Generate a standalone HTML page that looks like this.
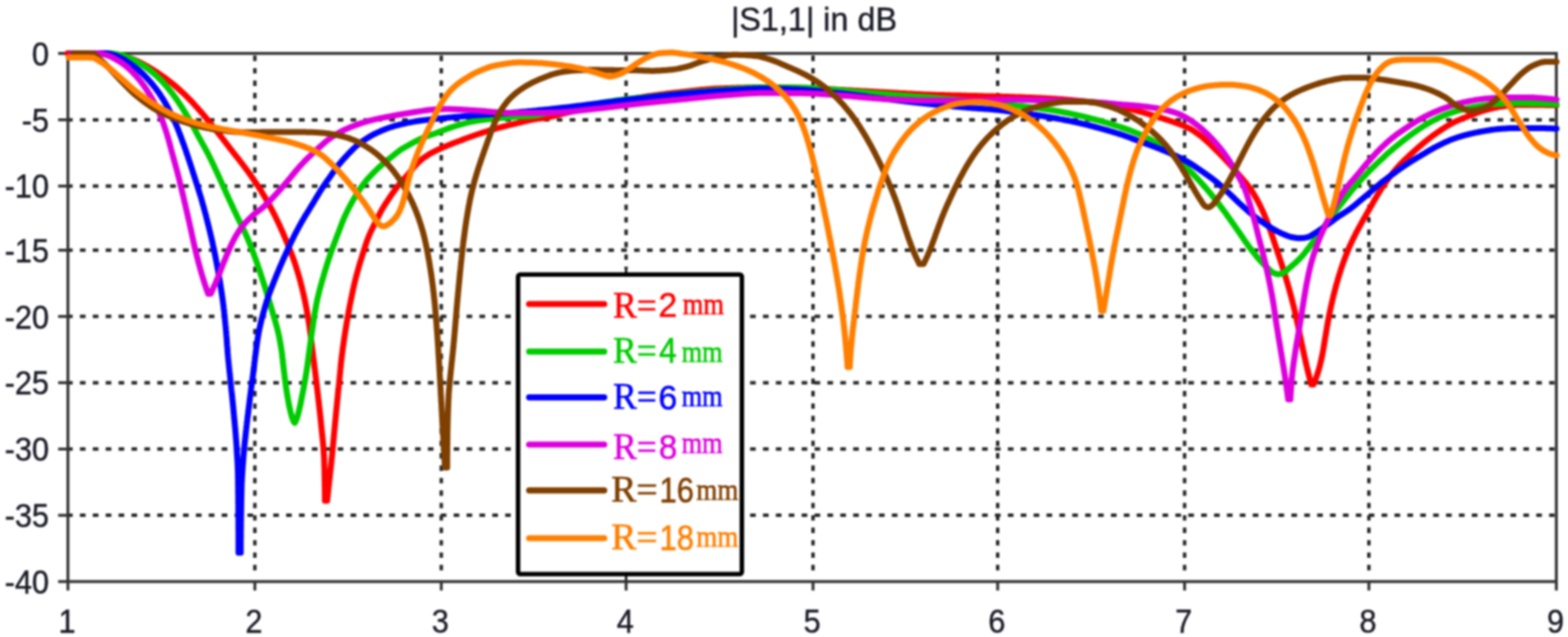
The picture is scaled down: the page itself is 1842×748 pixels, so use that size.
<!DOCTYPE html>
<html lang="en"><head><meta charset="utf-8"><title>|S1,1| in dB</title>
<style>
html,body{margin:0;padding:0;background:#fff;}
body{width:1842px;height:748px;overflow:hidden;}
svg{display:block;}
.ax{font-family:"Liberation Sans","DejaVu Sans",sans-serif;font-size:38px;fill:#1c1c28;stroke:#1c1c28;stroke-width:0.5px;}
.se{font-family:"Liberation Serif","DejaVu Serif",serif;}
.sa{font-family:"Liberation Sans","DejaVu Sans",sans-serif;}
.lg text{stroke-width:0.6px;}
</style></head><body>
<svg width="1842" height="748" viewBox="0 0 1842 748">
<defs><filter id="soft" x="0" y="0" width="1842" height="748" filterUnits="userSpaceOnUse" color-interpolation-filters="sRGB"><feGaussianBlur stdDeviation="0.90"/></filter></defs>
<rect x="0" y="0" width="1842" height="748" fill="#fff"/>
<g filter="url(#soft)">
<rect x="0" y="0" width="1842" height="748" fill="#fff"/>
<g stroke="#262626" fill="none">
<line x1="78.76" y1="140.7" x2="1826.3" y2="140.7" stroke-width="4" stroke-dasharray="6.60 8.54"/>
<line x1="78.76" y1="218.5" x2="1826.3" y2="218.5" stroke-width="4" stroke-dasharray="6.60 8.54"/>
<line x1="78.76" y1="293.8" x2="1826.3" y2="293.8" stroke-width="4" stroke-dasharray="6.60 8.54"/>
<line x1="78.76" y1="371.6" x2="1826.3" y2="371.6" stroke-width="4" stroke-dasharray="6.60 8.54"/>
<line x1="78.76" y1="449.4" x2="1826.3" y2="449.4" stroke-width="4" stroke-dasharray="6.60 8.54"/>
<line x1="78.76" y1="527.3" x2="1826.3" y2="527.3" stroke-width="4" stroke-dasharray="6.60 8.54"/>
<line x1="78.76" y1="605.1" x2="1826.3" y2="605.1" stroke-width="4" stroke-dasharray="6.60 8.54"/>
<line x1="299.4" y1="669.70" x2="299.4" y2="64.7" stroke-width="4" stroke-dasharray="6.40 8.185"/>
<line x1="518.4" y1="669.70" x2="518.4" y2="64.7" stroke-width="4" stroke-dasharray="6.40 8.185"/>
<line x1="735.5" y1="669.70" x2="735.5" y2="64.7" stroke-width="4" stroke-dasharray="6.40 8.185"/>
<line x1="955.1" y1="669.70" x2="955.1" y2="64.7" stroke-width="4" stroke-dasharray="6.40 8.185"/>
<line x1="1172.0" y1="669.70" x2="1172.0" y2="64.7" stroke-width="4" stroke-dasharray="6.40 8.185"/>
<line x1="1391.6" y1="669.70" x2="1391.6" y2="64.7" stroke-width="4" stroke-dasharray="6.40 8.185"/>
<line x1="1608.1" y1="669.70" x2="1608.1" y2="64.7" stroke-width="4" stroke-dasharray="6.40 8.185"/>
</g>
<g stroke="#333333" stroke-width="3.4" fill="none" stroke-linecap="butt">
<rect x="79.8" y="62.7" width="1748.5" height="620.2"/>
<line x1="68.3" y1="62.7" x2="79.8" y2="62.7"/>
<line x1="68.3" y1="140.7" x2="79.8" y2="140.7"/>
<line x1="68.3" y1="218.5" x2="79.8" y2="218.5"/>
<line x1="68.3" y1="293.8" x2="79.8" y2="293.8"/>
<line x1="68.3" y1="371.6" x2="79.8" y2="371.6"/>
<line x1="68.3" y1="449.4" x2="79.8" y2="449.4"/>
<line x1="68.3" y1="527.3" x2="79.8" y2="527.3"/>
<line x1="68.3" y1="605.1" x2="79.8" y2="605.1"/>
<line x1="68.3" y1="682.9" x2="79.8" y2="682.9"/>
<line x1="79.8" y1="682.9" x2="79.8" y2="693.4"/>
<line x1="299.4" y1="682.9" x2="299.4" y2="693.4"/>
<line x1="518.4" y1="682.9" x2="518.4" y2="693.4"/>
<line x1="735.5" y1="682.9" x2="735.5" y2="693.4"/>
<line x1="955.1" y1="682.9" x2="955.1" y2="693.4"/>
<line x1="1172.0" y1="682.9" x2="1172.0" y2="693.4"/>
<line x1="1391.6" y1="682.9" x2="1391.6" y2="693.4"/>
<line x1="1608.1" y1="682.9" x2="1608.1" y2="693.4"/>
<line x1="1828.3" y1="682.9" x2="1828.3" y2="693.4"/>
</g>
<g fill="none" stroke-width="7" stroke-linejoin="round" stroke-linecap="round">
<path stroke="#ff0000" d="M79.5 62.5L120.0 62.5 121.5 62.5 123.1 62.6 124.6 62.7 126.1 62.8 127.6 63.0 129.1 63.2 130.6 63.4 132.1 63.6 133.6 63.8 135.1 64.0 136.6 64.3 138.0 64.6 139.5 64.8 141.0 65.1 142.5 65.4 143.9 65.7 145.4 66.0 146.8 66.4 148.3 66.8 149.7 67.2 151.1 67.7 152.6 68.2 154.0 68.7 155.4 69.3 156.8 69.8 158.2 70.4 159.6 71.0 161.0 71.6 162.3 72.2 163.7 72.9 165.0 73.6 166.4 74.2 167.7 75.0 169.0 75.7 170.4 76.4 171.7 77.2 173.0 77.9 174.3 78.7 175.6 79.4 176.9 80.2 178.2 81.0 179.4 81.8 180.7 82.6 182.0 83.4 183.3 84.2 184.5 85.0 185.8 85.9 187.1 86.7 188.3 87.6 189.5 88.4 190.8 89.3 192.0 90.2 193.2 91.0 194.4 91.9 195.6 92.8 196.8 93.7 198.0 94.6 199.2 95.6 200.4 96.5 201.6 97.4 202.8 98.4 203.9 99.3 205.1 100.3 206.2 101.3 207.4 102.3 208.5 103.3 209.7 104.3 210.8 105.3 211.9 106.3 213.0 107.3 214.1 108.3 215.2 109.3 216.3 110.4 217.4 111.4 218.5 112.5 219.5 113.5 220.6 114.6 221.7 115.7 222.7 116.7 223.8 117.8 224.8 118.9 225.8 120.0 226.9 121.1 227.9 122.2 228.9 123.4 229.9 124.5 230.9 125.6 231.9 126.7 232.9 127.8 233.9 129.0 234.9 130.1 235.9 131.2 236.9 132.4 237.9 133.5 238.9 134.6 239.8 135.8 240.8 136.9 241.8 138.1 242.7 139.3 243.7 140.4 244.6 141.6 245.6 142.8 246.5 144.0 247.5 145.1 248.4 146.3 249.4 147.5 250.3 148.7 251.2 149.8 252.2 151.0 253.1 152.2 254.1 153.4 255.0 154.6 255.9 155.7 256.9 156.9 257.8 158.1 258.7 159.3 259.7 160.5 260.6 161.7 261.5 162.9 262.4 164.0 263.4 165.2 264.3 166.4 265.2 167.6 266.1 168.8 267.1 170.0 268.0 171.2 268.9 172.4 269.8 173.6 270.7 174.8 271.7 176.0 272.6 177.1 273.5 178.3 274.4 179.5 275.4 180.7 276.3 181.9 277.2 183.1 278.2 184.3 279.1 185.4 280.0 186.6 281.0 187.8 281.9 189.0 282.8 190.2 283.8 191.4 284.7 192.6 285.6 193.8 286.5 195.0 287.4 196.2 288.3 197.4 289.2 198.6 290.1 199.8 291.0 201.0 291.9 202.2 292.8 203.5 293.6 204.7 294.5 205.9 295.4 207.1 296.2 208.4 297.1 209.6 298.0 210.8 298.8 212.1 299.7 213.3 300.5 214.6 301.4 215.8 302.2 217.1 303.0 218.4 303.8 219.6 304.7 220.9 305.5 222.2 306.3 223.4 307.1 224.7 307.8 226.0 308.6 227.3 309.4 228.6 310.2 229.9 310.9 231.2 311.7 232.5 312.5 233.8 313.2 235.1 314.0 236.4 314.7 237.7 315.4 239.0 316.2 240.3 316.9 241.7 317.6 243.0 318.3 244.3 319.0 245.6 319.7 247.0 320.4 248.3 321.1 249.6 321.8 251.0 322.5 252.3 323.2 253.7 323.8 255.0 324.5 256.4 325.1 257.7 325.8 259.1 326.4 260.4 327.1 261.8 327.7 263.2 328.4 264.5 329.0 265.9 329.6 267.3 330.2 268.7 330.8 270.0 331.4 271.4 332.1 272.8 332.7 274.2 333.2 275.6 333.8 277.0 334.4 278.4 335.0 279.7 335.6 281.1 336.2 282.5 336.7 283.9 337.3 285.3 337.9 286.7 338.5 288.1 339.1 289.5 339.6 290.9 340.2 292.3 340.7 293.7 341.3 295.1 341.9 296.5 342.4 297.9 342.9 299.3 343.5 300.7 344.0 302.1 344.5 303.6 345.0 305.0 345.5 306.4 346.0 307.8 346.5 309.2 347.0 310.7 347.4 312.1 347.9 313.5 348.3 315.0 348.8 316.4 349.2 317.8 349.7 319.3 350.1 320.7 350.5 322.2 350.9 323.6 351.4 325.1 351.8 326.5 352.2 328.0 352.6 329.4 353.0 330.9 353.3 332.3 353.7 333.8 354.1 335.3 354.5 336.7 354.8 338.2 355.2 339.7 355.5 341.1 355.9 342.6 356.2 344.1 356.6 345.5 356.9 347.0 357.2 348.5 357.5 349.9 357.8 351.4 358.1 352.9 358.5 354.4 358.7 355.8 359.0 357.3 359.3 358.8 359.6 360.3 359.9 361.8 360.2 363.2 360.4 364.7 360.7 366.2 361.0 367.7 361.2 369.2 361.5 370.7 361.7 372.1 362.0 373.6 362.2 375.1 362.5 376.6 362.7 378.1 362.9 379.6 363.2 381.1 363.4 382.6 363.6 384.1 363.8 385.5 364.0 387.0 364.2 388.5 364.4 390.0 364.6 391.5 364.8 393.0 365.0 394.5 365.2 396.0 365.4 397.5 365.5 399.0 365.7 400.5 365.9 402.0 366.1 403.5 366.3 405.0 366.5 406.5 366.6 408.0 366.8 409.5 367.0 411.0 367.2 412.5 367.4 414.0 367.6 415.5 367.7 416.9 367.9 418.4 368.1 419.9 368.3 421.4 368.5 422.9 368.7 424.4 368.9 425.9 369.1 427.4 369.2 428.9 369.4 430.4 369.6 431.9 369.8 433.4 370.0 434.9 370.2 436.4 370.4 437.9 370.5 439.4 370.7 440.9 370.9 442.4 371.1 443.9 371.3 445.4 371.4 446.9 371.6 448.3 371.8 449.8 372.0 451.3 372.2 452.8 372.3 454.3 372.5 455.8 372.7 457.3 372.9 458.8 373.0 460.3 373.2 461.8 373.4 463.3 373.6 464.8 373.7 466.3 373.9 467.8 374.1 469.3 374.3 470.8 374.4 472.3 374.6 473.8 374.8 475.3 374.9 476.8 375.1 478.3 375.3 479.8 375.4 481.3 375.6 482.8 375.8 484.3 375.9 485.8 376.1 487.3 376.3 488.8 376.4 490.3 376.6 491.8 376.7 493.3 376.9 494.8 377.0 496.3 377.2 497.8 377.3 499.3 377.5 500.8 377.6 502.3 377.8 503.8 377.9 505.3 378.1 506.8 378.2 508.3 378.4 509.8 378.6 511.3 378.7 512.8 378.9 514.3 379.0 515.8 379.2 517.3 379.3 518.8 379.5 520.3 379.6 521.8 379.7 523.3 379.9 524.8 380.0 526.3 380.1 527.8 380.2 529.3 380.3 530.8 380.4 532.3 380.5 533.8 380.6 535.3 380.7 536.8 380.8 538.3 380.8 539.8 380.9 541.3 380.9 542.8 380.9 544.3 381.0 545.8 381.0 547.3 381.1 548.8 381.1 550.3 381.2 551.8 381.2 553.3 381.2 554.8 381.3 556.3 381.3 557.8 381.3 559.4 381.4 560.9 381.4 562.4 381.4 563.9 381.5 565.4 381.5 566.9 381.5 568.4 381.5 569.9 381.6 571.4 381.6 572.9 381.6 574.4 381.6 575.9 381.6 577.4 381.7 578.9 381.7 580.5 381.7 582.0 381.7 583.5 381.7 585.0 381.7 586.5 381.7 588.0 384.3 588.0 384.5 586.5 384.6 585.0 384.8 583.5 385.0 582.0 385.1 580.5 385.3 579.0 385.5 577.6 385.6 576.1 385.8 574.6 385.9 573.1 386.1 571.6 386.3 570.1 386.4 568.6 386.6 567.1 386.8 565.6 386.9 564.1 387.1 562.6 387.3 561.1 387.4 559.6 387.6 558.2 387.7 556.7 387.9 555.2 388.1 553.7 388.2 552.2 388.4 550.7 388.5 549.2 388.7 547.7 388.9 546.2 389.0 544.7 389.2 543.2 389.3 541.7 389.5 540.2 389.6 538.7 389.8 537.3 390.0 535.8 390.1 534.3 390.3 532.8 390.4 531.3 390.5 529.8 390.7 528.3 390.8 526.8 391.0 525.3 391.1 523.8 391.3 522.3 391.4 520.8 391.5 519.3 391.7 517.8 391.8 516.3 392.0 514.8 392.1 513.3 392.2 511.8 392.4 510.3 392.5 508.9 392.7 507.4 392.8 505.9 392.9 504.4 393.1 502.9 393.2 501.4 393.4 499.9 393.5 498.4 393.6 496.9 393.8 495.4 393.9 493.9 394.1 492.4 394.2 490.9 394.4 489.4 394.5 487.9 394.7 486.4 394.8 484.9 394.9 483.4 395.1 482.0 395.2 480.5 395.4 479.0 395.5 477.5 395.7 476.0 395.8 474.5 396.0 473.0 396.1 471.5 396.3 470.0 396.4 468.5 396.6 467.0 396.7 465.5 396.9 464.0 397.0 462.5 397.1 461.0 397.3 459.5 397.4 458.0 397.6 456.6 397.7 455.1 397.9 453.6 398.0 452.1 398.2 450.6 398.3 449.1 398.5 447.6 398.6 446.1 398.8 444.6 398.9 443.1 399.1 441.6 399.2 440.1 399.4 438.6 399.5 437.1 399.7 435.6 399.8 434.1 400.0 432.6 400.1 431.1 400.3 429.7 400.4 428.2 400.6 426.7 400.7 425.2 400.9 423.7 401.1 422.2 401.2 420.7 401.4 419.2 401.6 417.7 401.8 416.2 402.0 414.7 402.2 413.3 402.4 411.8 402.5 410.3 402.7 408.8 403.0 407.3 403.2 405.8 403.4 404.3 403.6 402.8 403.8 401.4 404.0 399.9 404.2 398.4 404.4 396.9 404.7 395.4 404.9 393.9 405.1 392.4 405.4 391.0 405.6 389.5 405.8 388.0 406.1 386.5 406.3 385.0 406.6 383.5 406.8 382.1 407.0 380.6 407.3 379.1 407.5 377.6 407.8 376.1 408.0 374.7 408.3 373.2 408.6 371.7 408.8 370.2 409.1 368.7 409.4 367.3 409.6 365.8 409.9 364.3 410.2 362.8 410.4 361.4 410.7 359.9 411.0 358.4 411.3 356.9 411.6 355.5 411.9 354.0 412.2 352.5 412.5 351.0 412.8 349.6 413.1 348.1 413.4 346.6 413.7 345.1 414.0 343.7 414.3 342.2 414.6 340.7 414.9 339.3 415.3 337.8 415.6 336.3 415.9 334.9 416.3 333.4 416.6 332.0 417.0 330.5 417.3 329.1 417.7 327.6 418.0 326.1 418.4 324.7 418.8 323.2 419.2 321.8 419.6 320.3 420.0 318.9 420.4 317.4 420.8 316.0 421.2 314.6 421.6 313.1 422.0 311.7 422.5 310.2 422.9 308.8 423.3 307.3 423.8 305.9 424.2 304.5 424.7 303.0 425.1 301.6 425.5 300.2 426.0 298.7 426.5 297.3 426.9 295.9 427.4 294.4 427.8 293.0 428.3 291.6 428.7 290.1 429.2 288.7 429.7 287.3 430.1 285.9 430.6 284.4 431.1 283.0 431.6 281.6 432.2 280.2 432.7 278.8 433.3 277.4 433.8 276.0 434.4 274.7 435.0 273.3 435.7 271.9 436.3 270.6 437.0 269.2 437.7 267.9 438.3 266.5 439.0 265.2 439.7 263.8 440.3 262.5 441.0 261.2 441.7 259.8 442.3 258.5 443.0 257.1 443.7 255.8 444.3 254.4 445.0 253.1 445.7 251.7 446.4 250.4 447.1 249.1 447.8 247.8 448.5 246.4 449.3 245.2 450.0 243.9 450.8 242.6 451.6 241.3 452.4 240.0 453.2 238.8 454.0 237.5 454.9 236.3 455.7 235.0 456.5 233.8 457.4 232.5 458.2 231.3 459.1 230.0 459.9 228.8 460.8 227.5 461.6 226.3 462.5 225.1 463.4 223.9 464.2 222.6 465.1 221.4 466.0 220.2 466.9 219.0 467.9 217.9 468.8 216.7 469.8 215.6 470.8 214.4 471.7 213.3 472.7 212.2 473.7 211.0 474.7 209.9 475.8 208.8 476.8 207.7 477.7 206.6 478.7 205.4 479.7 204.3 480.7 203.1 481.6 202.0 482.6 200.8 483.5 199.6 484.5 198.5 485.4 197.3 486.4 196.2 487.4 195.0 488.4 193.9 489.4 192.8 490.4 191.7 491.5 190.6 492.6 189.6 493.7 188.6 494.8 187.7 496.0 186.7 497.2 185.8 498.4 184.9 499.7 184.1 500.9 183.2 502.2 182.4 503.5 181.6 504.8 180.8 506.0 180.1 507.3 179.4 508.7 178.7 510.0 178.0 511.3 177.3 512.7 176.7 514.1 176.0 515.4 175.4 516.8 174.8 518.2 174.1 519.6 173.5 520.9 172.9 522.3 172.3 523.7 171.7 525.1 171.2 526.5 170.6 527.9 170.0 529.3 169.5 530.6 168.9 532.1 168.4 533.5 167.8 534.9 167.3 536.3 166.8 537.7 166.2 539.1 165.7 540.5 165.2 541.9 164.6 543.3 164.1 544.7 163.6 546.1 163.0 547.5 162.5 548.9 162.0 550.3 161.5 551.7 161.0 553.1 160.5 554.6 160.0 556.0 159.5 557.4 159.0 558.8 158.5 560.2 158.0 561.6 157.5 563.1 157.0 564.5 156.6 565.9 156.1 567.4 155.6 568.8 155.2 570.2 154.7 571.6 154.3 573.1 153.8 574.5 153.4 576.0 153.0 577.4 152.5 578.8 152.1 580.3 151.7 581.7 151.3 583.2 150.9 584.6 150.5 586.1 150.1 587.5 149.7 589.0 149.3 590.4 148.9 591.9 148.5 593.3 148.2 594.8 147.8 596.2 147.4 597.7 147.0 599.1 146.7 600.6 146.3 602.1 146.0 603.5 145.6 605.0 145.3 606.4 144.9 607.9 144.6 609.4 144.2 610.8 143.9 612.3 143.5 613.7 143.1 615.2 142.8 616.7 142.4 618.1 142.1 619.6 141.8 621.1 141.4 622.5 141.1 624.0 140.8 625.5 140.5 626.9 140.2 628.4 140.0 629.9 139.8 631.4 139.6 632.9 139.4 634.4 139.2 635.9 139.0 637.3 138.8 638.8 138.6 640.3 138.4 641.8 138.1 643.3 137.9 644.8 137.6 646.2 137.3 647.7 137.0 649.1 136.6 650.6 136.3 652.1 135.9 653.5 135.5 655.0 135.1 656.4 134.7 657.9 134.4 659.3 134.0 660.8 133.6 662.2 133.3 663.7 132.9 665.2 132.6 666.6 132.2 668.1 131.9 669.5 131.5 671.0 131.2 672.5 130.8 673.9 130.5 675.4 130.1 676.9 129.8 678.3 129.5 679.8 129.1 681.2 128.8 682.7 128.4 684.2 128.1 685.6 127.8 687.1 127.4 688.6 127.1 690.0 126.8 691.5 126.4 693.0 126.1 694.4 125.8 695.9 125.5 697.3 125.1 698.8 124.8 700.3 124.5 701.8 124.2 703.2 123.9 704.7 123.6 706.2 123.2 707.6 122.9 709.1 122.6 710.6 122.3 712.0 122.0 713.5 121.7 715.0 121.4 716.4 121.1 717.9 120.7 719.4 120.4 720.9 120.1 722.3 119.8 723.8 119.5 725.3 119.2 726.7 118.9 728.2 118.6 729.7 118.3 731.2 118.1 732.6 117.8 734.1 117.5 735.6 117.2 737.1 116.9 738.5 116.7 740.0 116.4 741.5 116.1 743.0 115.9 744.4 115.6 745.9 115.4 747.4 115.1 748.9 114.9 750.4 114.6 751.8 114.4 753.3 114.2 754.8 113.9 756.3 113.7 757.8 113.5 759.3 113.3 760.7 113.0 762.2 112.8 763.7 112.6 765.2 112.4 766.7 112.2 768.2 112.0 769.7 111.8 771.2 111.6 772.6 111.4 774.1 111.2 775.6 111.0 777.1 110.8 778.6 110.6 780.1 110.4 781.6 110.2 783.1 110.0 784.6 109.8 786.1 109.7 787.5 109.5 789.0 109.3 790.5 109.1 792.0 109.0 793.5 108.8 795.0 108.6 796.5 108.4 798.0 108.3 799.5 108.1 801.0 108.0 802.5 107.8 804.0 107.6 805.5 107.5 806.9 107.3 808.4 107.1 809.9 107.0 811.4 106.8 812.9 106.6 814.4 106.5 815.9 106.3 817.4 106.1 818.9 106.0 820.4 105.8 821.9 105.6 823.4 105.5 824.9 105.3 826.4 105.2 827.9 105.1 829.4 104.9 830.9 104.8 832.4 104.7 833.8 104.6 835.3 104.4 836.8 104.3 838.3 104.2 839.8 104.1 841.3 104.1 842.8 104.0 844.3 103.9 845.8 103.8 847.3 103.8 848.8 103.7 850.3 103.7 851.8 103.6 853.3 103.6 854.8 103.5 856.3 103.4 857.8 103.4 859.3 103.3 860.8 103.3 862.3 103.2 863.8 103.2 865.3 103.1 866.8 103.1 868.3 103.0 869.8 103.0 871.3 102.9 872.8 102.9 874.3 102.9 875.8 102.8 877.3 102.8 878.8 102.8 880.3 102.7 881.8 102.7 883.3 102.7 884.8 102.6 886.3 102.6 887.8 102.6 889.4 102.6 890.9 102.6 892.4 102.5 893.9 102.5 895.4 102.5 896.9 102.5 898.4 102.5 899.9 102.5 901.4 102.5 902.9 102.5 904.4 102.5 905.9 102.5 907.4 102.5 908.9 102.5 910.4 102.6 911.9 102.6 913.4 102.6 914.9 102.6 916.4 102.6 917.9 102.7 919.4 102.7 920.9 102.7 922.4 102.7 923.9 102.8 925.4 102.8 926.9 102.8 928.4 102.9 929.9 102.9 931.4 102.9 932.9 103.0 934.4 103.0 935.9 103.0 937.4 103.1 938.9 103.1 940.4 103.1 941.9 103.2 943.4 103.2 944.9 103.3 946.4 103.3 947.9 103.4 949.4 103.4 950.9 103.5 952.4 103.6 953.9 103.6 955.4 103.7 956.9 103.8 958.4 103.8 959.9 103.9 961.4 104.0 962.9 104.1 964.4 104.2 965.9 104.3 967.4 104.3 968.9 104.4 970.4 104.5 971.9 104.6 973.4 104.7 974.9 104.8 976.4 104.9 977.9 105.0 979.4 105.1 980.9 105.1 982.4 105.2 983.9 105.3 985.4 105.4 986.9 105.5 988.4 105.6 989.9 105.6 991.4 105.7 992.9 105.8 994.4 105.9 995.9 106.0 997.4 106.0 998.9 106.1 1000.4 106.2 1001.9 106.3 1003.4 106.4 1004.9 106.4 1006.4 106.5 1007.9 106.6 1009.4 106.7 1010.9 106.8 1012.4 106.9 1013.9 106.9 1015.4 107.0 1016.9 107.1 1018.4 107.2 1019.9 107.3 1021.4 107.3 1022.9 107.4 1024.4 107.5 1025.9 107.6 1027.4 107.7 1028.9 107.8 1030.4 107.8 1031.9 107.9 1033.4 108.0 1034.9 108.1 1036.4 108.2 1037.8 108.2 1039.3 108.3 1040.8 108.4 1042.3 108.5 1043.8 108.6 1045.3 108.7 1046.8 108.7 1048.3 108.8 1049.8 108.9 1051.3 109.0 1052.8 109.1 1054.3 109.2 1055.8 109.3 1057.3 109.4 1058.8 109.4 1060.3 109.5 1061.8 109.6 1063.3 109.7 1064.8 109.8 1066.3 109.9 1067.8 110.0 1069.3 110.0 1070.8 110.1 1072.3 110.2 1073.8 110.3 1075.3 110.4 1076.8 110.4 1078.3 110.5 1079.8 110.6 1081.3 110.7 1082.8 110.7 1084.3 110.8 1085.8 110.9 1087.3 110.9 1088.8 111.0 1090.3 111.0 1091.8 111.1 1093.3 111.2 1094.8 111.2 1096.3 111.3 1097.8 111.3 1099.3 111.4 1100.8 111.4 1102.3 111.4 1103.8 111.5 1105.3 111.5 1106.8 111.6 1108.3 111.6 1109.8 111.7 1111.3 111.7 1112.8 111.7 1114.3 111.8 1115.8 111.8 1117.3 111.9 1118.8 111.9 1120.3 111.9 1121.8 112.0 1123.3 112.0 1124.8 112.1 1126.3 112.1 1127.8 112.1 1129.3 112.2 1130.8 112.2 1132.3 112.2 1133.8 112.3 1135.3 112.3 1136.8 112.4 1138.3 112.4 1139.8 112.4 1141.3 112.5 1142.9 112.5 1144.4 112.6 1145.9 112.6 1147.4 112.6 1148.9 112.7 1150.4 112.7 1151.9 112.8 1153.4 112.8 1154.9 112.8 1156.4 112.9 1157.9 112.9 1159.4 112.9 1160.9 113.0 1162.4 113.0 1163.9 113.0 1165.4 113.1 1166.9 113.1 1168.4 113.2 1169.9 113.2 1171.4 113.2 1172.9 113.3 1174.4 113.3 1175.9 113.3 1177.4 113.4 1178.9 113.4 1180.4 113.5 1181.9 113.5 1183.4 113.6 1184.9 113.6 1186.4 113.7 1187.9 113.7 1189.4 113.8 1190.9 113.8 1192.4 113.9 1193.9 113.9 1195.4 114.0 1196.9 114.0 1198.4 114.1 1199.9 114.1 1201.4 114.2 1202.9 114.2 1204.4 114.3 1205.9 114.4 1207.4 114.4 1208.9 114.5 1210.4 114.5 1211.9 114.6 1213.4 114.7 1214.9 114.7 1216.4 114.8 1217.9 114.9 1219.4 115.0 1220.9 115.0 1222.4 115.1 1223.9 115.2 1225.4 115.3 1226.9 115.3 1228.4 115.4 1229.9 115.5 1231.4 115.6 1232.9 115.7 1234.4 115.8 1235.9 115.8 1237.4 115.9 1238.9 116.0 1240.4 116.1 1241.9 116.2 1243.4 116.3 1244.9 116.4 1246.4 116.5 1247.9 116.6 1249.4 116.7 1250.8 116.9 1252.3 117.0 1253.8 117.1 1255.3 117.2 1256.8 117.4 1258.3 117.5 1259.8 117.6 1261.3 117.8 1262.8 117.9 1264.3 118.1 1265.8 118.2 1267.3 118.4 1268.8 118.5 1270.3 118.7 1271.8 118.8 1273.3 119.0 1274.8 119.1 1276.3 119.3 1277.8 119.5 1279.3 119.6 1280.7 119.8 1282.2 120.0 1283.7 120.2 1285.2 120.3 1286.7 120.5 1288.2 120.7 1289.7 120.9 1291.2 121.1 1292.7 121.3 1294.1 121.5 1295.6 121.7 1297.1 121.9 1298.6 122.1 1300.1 122.3 1301.6 122.6 1303.1 122.8 1304.6 123.1 1306.0 123.3 1307.5 123.6 1309.0 123.8 1310.5 124.1 1311.9 124.4 1313.4 124.7 1314.9 124.9 1316.4 125.2 1317.8 125.6 1319.3 125.9 1320.7 126.2 1322.2 126.6 1323.7 126.9 1325.1 127.3 1326.6 127.7 1328.0 128.0 1329.5 128.4 1330.9 128.8 1332.4 129.2 1333.8 129.6 1335.3 130.0 1336.7 130.4 1338.2 130.8 1339.6 131.2 1341.1 131.6 1342.5 132.0 1344.0 132.4 1345.4 132.8 1346.8 133.3 1348.3 133.7 1349.7 134.1 1351.2 134.5 1352.6 135.0 1354.0 135.4 1355.5 135.8 1356.9 136.3 1358.4 136.7 1359.8 137.2 1361.2 137.6 1362.6 138.1 1364.1 138.5 1365.5 139.0 1366.9 139.4 1368.4 139.9 1369.8 140.4 1371.2 140.8 1372.7 141.3 1374.1 141.8 1375.5 142.3 1376.9 142.7 1378.3 143.2 1379.8 143.7 1381.2 144.2 1382.6 144.7 1384.0 145.3 1385.4 145.8 1386.8 146.3 1388.2 146.9 1389.6 147.4 1391.0 148.0 1392.4 148.5 1393.8 149.1 1395.1 149.8 1396.5 150.4 1397.8 151.1 1399.1 151.8 1400.4 152.6 1401.7 153.4 1402.9 154.2 1404.2 155.1 1405.4 155.9 1406.7 156.8 1407.9 157.7 1409.1 158.6 1410.3 159.5 1411.5 160.4 1412.6 161.4 1413.8 162.3 1414.9 163.3 1416.1 164.3 1417.2 165.3 1418.3 166.3 1419.4 167.3 1420.5 168.3 1421.6 169.4 1422.6 170.4 1423.7 171.5 1424.8 172.6 1425.9 173.6 1426.9 174.7 1428.0 175.7 1429.1 176.8 1430.1 177.8 1431.2 178.9 1432.3 179.9 1433.3 181.0 1434.4 182.1 1435.4 183.2 1436.5 184.2 1437.5 185.3 1438.5 186.4 1439.6 187.5 1440.6 188.6 1441.6 189.7 1442.6 190.8 1443.7 191.9 1444.7 193.0 1445.7 194.1 1446.7 195.3 1447.6 196.4 1448.6 197.5 1449.6 198.7 1450.6 199.8 1451.6 200.9 1452.6 202.1 1453.5 203.2 1454.5 204.3 1455.5 205.5 1456.5 206.6 1457.5 207.7 1458.5 208.9 1459.5 210.0 1460.4 211.1 1461.4 212.3 1462.4 213.4 1463.4 214.6 1464.3 215.7 1465.2 216.9 1466.2 218.1 1467.1 219.3 1467.9 220.5 1468.8 221.7 1469.7 223.0 1470.5 224.2 1471.3 225.5 1472.1 226.7 1472.9 228.0 1473.7 229.3 1474.5 230.6 1475.2 231.9 1475.9 233.2 1476.7 234.5 1477.4 235.8 1478.1 237.2 1478.8 238.5 1479.5 239.8 1480.2 241.2 1480.8 242.5 1481.5 243.9 1482.1 245.2 1482.8 246.6 1483.4 248.0 1484.0 249.3 1484.6 250.7 1485.2 252.1 1485.8 253.5 1486.3 254.8 1486.9 256.2 1487.5 257.6 1488.0 259.0 1488.5 260.4 1489.1 261.8 1489.6 263.3 1490.1 264.7 1490.6 266.1 1491.1 267.5 1491.7 268.9 1492.2 270.3 1492.7 271.7 1493.2 273.1 1493.7 274.6 1494.2 276.0 1494.6 277.4 1495.1 278.8 1495.6 280.2 1496.1 281.7 1496.5 283.1 1497.0 284.5 1497.5 285.9 1498.0 287.4 1498.4 288.8 1498.9 290.2 1499.4 291.6 1499.9 293.1 1500.4 294.5 1500.8 295.9 1501.3 297.3 1501.8 298.8 1502.3 300.2 1502.7 301.6 1503.2 303.0 1503.7 304.5 1504.2 305.9 1504.6 307.3 1505.1 308.7 1505.6 310.2 1506.0 311.6 1506.5 313.0 1506.9 314.5 1507.4 315.9 1507.8 317.3 1508.3 318.8 1508.7 320.2 1509.1 321.6 1509.6 323.1 1510.0 324.5 1510.4 325.9 1510.9 327.4 1511.3 328.8 1511.7 330.3 1512.1 331.7 1512.6 333.1 1513.0 334.6 1513.4 336.0 1513.8 337.5 1514.2 338.9 1514.6 340.4 1515.0 341.8 1515.4 343.3 1515.8 344.7 1516.2 346.2 1516.6 347.6 1517.0 349.1 1517.3 350.5 1517.7 352.0 1518.1 353.4 1518.5 354.9 1518.8 356.3 1519.2 357.8 1519.6 359.2 1519.9 360.7 1520.3 362.2 1520.6 363.6 1521.0 365.1 1521.3 366.5 1521.6 368.0 1522.0 369.5 1522.3 370.9 1522.6 372.4 1523.0 373.9 1523.3 375.3 1523.6 376.8 1523.9 378.3 1524.2 379.7 1524.6 381.2 1524.9 382.7 1525.2 384.1 1525.5 385.6 1525.8 387.1 1526.1 388.5 1526.4 390.0 1526.7 391.5 1527.0 393.0 1527.3 394.4 1527.6 395.9 1527.9 397.4 1528.2 398.8 1528.5 400.3 1528.8 401.8 1529.1 403.3 1529.5 404.7 1529.8 406.2 1530.1 407.7 1530.4 409.1 1530.7 410.6 1531.0 412.1 1531.3 413.5 1531.7 415.0 1532.0 416.5 1532.3 417.9 1532.6 419.4 1532.9 420.9 1533.3 422.3 1533.6 423.8 1533.9 425.3 1534.2 426.7 1534.6 428.2 1534.9 429.7 1535.3 431.1 1535.6 432.6 1536.0 434.0 1536.3 435.5 1536.7 437.0 1537.0 438.4 1537.4 439.9 1537.8 441.3 1538.1 442.8 1538.5 444.2 1538.9 445.7 1539.3 447.1 1539.6 448.6 1540.0 450.0 1540.4 451.5 1543.0 451.5 1543.6 450.1 1544.2 448.7 1544.7 447.3 1545.3 445.9 1545.8 444.5 1546.3 443.1 1546.8 441.6 1547.3 440.2 1547.8 438.8 1548.2 437.3 1548.7 435.9 1549.1 434.5 1549.5 433.0 1549.9 431.6 1550.3 430.1 1550.7 428.6 1551.0 427.2 1551.4 425.7 1551.7 424.2 1552.1 422.8 1552.4 421.3 1552.7 419.8 1553.0 418.3 1553.3 416.9 1553.6 415.4 1553.9 413.9 1554.2 412.4 1554.4 410.9 1554.7 409.4 1555.0 408.0 1555.2 406.5 1555.4 405.0 1555.7 403.5 1555.9 402.0 1556.1 400.5 1556.4 399.0 1556.6 397.5 1556.9 396.0 1557.1 394.6 1557.4 393.1 1557.6 391.6 1557.9 390.1 1558.1 388.6 1558.4 387.1 1558.6 385.6 1558.9 384.1 1559.1 382.6 1559.4 381.2 1559.7 379.7 1559.9 378.2 1560.2 376.7 1560.5 375.2 1560.7 373.7 1561.0 372.3 1561.3 370.8 1561.6 369.3 1561.9 367.8 1562.2 366.3 1562.5 364.9 1562.8 363.4 1563.1 361.9 1563.5 360.4 1563.8 359.0 1564.1 357.5 1564.5 356.0 1564.8 354.6 1565.1 353.1 1565.5 351.6 1565.8 350.1 1566.2 348.7 1566.5 347.2 1566.9 345.7 1567.3 344.3 1567.6 342.8 1568.0 341.4 1568.4 339.9 1568.8 338.4 1569.2 337.0 1569.5 335.5 1569.9 334.1 1570.3 332.6 1570.8 331.2 1571.2 329.7 1571.6 328.3 1572.0 326.8 1572.4 325.4 1572.9 323.9 1573.3 322.5 1573.8 321.0 1574.2 319.6 1574.7 318.2 1575.1 316.7 1575.6 315.3 1576.1 313.9 1576.6 312.4 1577.1 311.0 1577.5 309.6 1578.0 308.2 1578.6 306.7 1579.1 305.3 1579.6 303.9 1580.1 302.5 1580.7 301.1 1581.2 299.7 1581.8 298.3 1582.3 296.9 1582.9 295.5 1583.4 294.1 1584.0 292.7 1584.6 291.3 1585.2 289.9 1585.8 288.5 1586.4 287.2 1587.1 285.8 1587.7 284.4 1588.4 283.1 1589.0 281.7 1589.7 280.3 1590.3 279.0 1591.0 277.6 1591.7 276.3 1592.4 274.9 1593.0 273.6 1593.7 272.2 1594.4 270.9 1595.1 269.6 1595.9 268.3 1596.6 266.9 1597.3 265.6 1598.0 264.3 1598.8 263.0 1599.5 261.6 1600.2 260.3 1601.0 259.0 1601.7 257.7 1602.5 256.4 1603.2 255.1 1604.0 253.8 1604.7 252.5 1605.5 251.1 1606.2 249.8 1607.0 248.5 1607.7 247.2 1608.5 245.9 1609.2 244.6 1610.0 243.3 1610.7 242.0 1611.5 240.7 1612.2 239.4 1612.9 238.0 1613.7 236.7 1614.4 235.4 1615.2 234.1 1615.9 232.8 1616.7 231.5 1617.5 230.2 1618.3 228.9 1619.0 227.6 1619.8 226.3 1620.6 225.1 1621.4 223.8 1622.2 222.5 1623.1 221.2 1623.9 220.0 1624.7 218.7 1625.6 217.5 1626.4 216.2 1627.3 215.0 1628.1 213.8 1629.0 212.5 1629.9 211.3 1630.8 210.1 1631.7 208.9 1632.6 207.7 1633.5 206.5 1634.5 205.3 1635.4 204.1 1636.3 202.9 1637.3 201.8 1638.3 200.6 1639.2 199.5 1640.2 198.3 1641.2 197.2 1642.2 196.0 1643.2 194.9 1644.3 193.8 1645.3 192.7 1646.3 191.6 1647.4 190.5 1648.4 189.5 1649.5 188.4 1650.6 187.4 1651.7 186.3 1652.8 185.3 1653.9 184.3 1655.0 183.2 1656.1 182.2 1657.2 181.2 1658.4 180.2 1659.5 179.2 1660.6 178.2 1661.7 177.1 1662.8 176.1 1663.9 175.1 1665.1 174.1 1666.2 173.1 1667.3 172.1 1668.5 171.1 1669.6 170.2 1670.8 169.2 1671.9 168.2 1673.1 167.3 1674.3 166.3 1675.4 165.4 1676.6 164.4 1677.8 163.5 1679.0 162.6 1680.2 161.6 1681.4 160.7 1682.6 159.8 1683.8 158.9 1685.0 158.0 1686.3 157.2 1687.5 156.3 1688.7 155.4 1690.0 154.6 1691.2 153.7 1692.5 152.9 1693.7 152.0 1695.0 151.2 1696.3 150.4 1697.5 149.6 1698.8 148.7 1700.1 148.0 1701.4 147.2 1702.7 146.4 1704.0 145.7 1705.3 145.0 1706.7 144.3 1708.0 143.6 1709.4 143.0 1710.7 142.3 1712.1 141.7 1713.5 141.1 1714.9 140.5 1716.3 139.9 1717.7 139.4 1719.1 138.8 1720.5 138.2 1721.9 137.7 1723.3 137.1 1724.7 136.6 1726.1 136.0 1727.5 135.5 1728.9 135.0 1730.3 134.4 1731.8 133.9 1733.2 133.3 1734.6 132.8 1736.0 132.3 1737.4 131.8 1738.9 131.3 1740.3 130.8 1741.7 130.3 1743.2 129.9 1744.6 129.5 1746.0 129.1 1747.5 128.7 1749.0 128.3 1750.4 127.9 1751.9 127.5 1753.4 127.2 1754.8 126.8 1756.3 126.5 1757.8 126.2 1759.3 125.9 1760.8 125.6 1762.2 125.4 1763.7 125.2 1765.2 125.0 1766.7 124.8 1768.2 124.5 1769.7 124.3 1771.2 124.1 1772.7 124.0 1774.2 123.8 1775.7 123.6 1777.2 123.5 1778.7 123.4 1780.2 123.4 1781.7 123.3 1783.2 123.3 1784.7 123.3 1786.3 123.3 1787.8 123.3 1789.3 123.3 1790.8 123.3 1792.3 123.3 1793.8 123.3 1795.3 123.3 1796.8 123.3 1798.3 123.3 1799.8 123.3 1801.3 123.3 1802.9 123.3 1804.4 123.3 1805.9 123.3 1807.4 123.3 1808.9 123.3 1810.4 123.3 1811.9 123.3 1813.4 123.3 1814.9 123.3 1816.4 123.4 1817.9 123.4 1819.4 123.4 1821.0 123.4 1822.5 123.4 1824.0 123.4 1825.5 123.5 1827.0 123.5 1828.5 123.5"/>
<path stroke="#00cc00" d="M84.0 62.5L130.0 62.5 131.5 62.7 133.0 62.9 134.5 63.1 136.0 63.4 137.5 63.6 138.9 63.9 140.4 64.3 141.8 64.6 143.3 65.0 144.7 65.4 146.1 65.8 147.5 66.3 148.9 66.9 150.3 67.4 151.7 68.0 153.1 68.6 154.5 69.3 155.9 70.0 157.2 70.7 158.6 71.4 159.9 72.1 161.2 72.8 162.5 73.5 163.8 74.3 165.1 75.0 166.4 75.8 167.7 76.5 168.9 77.4 170.2 78.2 171.4 79.0 172.6 79.9 173.9 80.8 175.1 81.7 176.3 82.7 177.5 83.6 178.6 84.6 179.8 85.5 180.9 86.5 182.1 87.5 183.2 88.5 184.3 89.5 185.4 90.5 186.4 91.6 187.5 92.6 188.6 93.6 189.6 94.7 190.6 95.8 191.7 96.9 192.7 98.0 193.7 99.2 194.7 100.3 195.7 101.5 196.6 102.6 197.6 103.8 198.5 104.9 199.5 106.1 200.4 107.3 201.4 108.5 202.3 109.7 203.2 110.9 204.1 112.1 205.0 113.3 205.9 114.5 206.7 115.7 207.6 116.9 208.5 118.1 209.3 119.4 210.1 120.6 211.0 121.9 211.8 123.1 212.6 124.4 213.4 125.6 214.2 126.9 215.0 128.2 215.8 129.5 216.6 130.8 217.4 132.0 218.2 133.3 219.0 134.6 219.7 135.9 220.5 137.2 221.3 138.5 222.0 139.8 222.8 141.1 223.6 142.4 224.3 143.7 225.0 145.0 225.8 146.3 226.5 147.6 227.2 148.9 227.9 150.3 228.6 151.6 229.3 152.9 230.0 154.2 230.7 155.6 231.4 156.9 232.1 158.2 232.8 159.6 233.5 160.9 234.3 162.2 235.0 163.5 235.7 164.8 236.4 166.1 237.2 167.5 237.9 168.8 238.6 170.1 239.4 171.4 240.1 172.7 240.8 174.0 241.5 175.3 242.3 176.7 243.0 178.0 243.7 179.3 244.4 180.6 245.1 182.0 245.7 183.3 246.4 184.6 247.1 186.0 247.7 187.3 248.4 188.7 249.0 190.0 249.7 191.4 250.3 192.7 251.0 194.1 251.6 195.5 252.2 196.8 252.9 198.2 253.5 199.6 254.1 200.9 254.8 202.3 255.4 203.6 256.0 205.0 256.6 206.4 257.3 207.7 257.9 209.1 258.5 210.5 259.1 211.8 259.8 213.2 260.4 214.6 261.0 215.9 261.6 217.3 262.2 218.7 262.8 220.0 263.5 221.4 264.1 222.8 264.7 224.2 265.3 225.5 265.9 226.9 266.5 228.3 267.2 229.6 267.8 231.0 268.4 232.4 269.0 233.7 269.7 235.1 270.3 236.5 270.9 237.8 271.6 239.2 272.2 240.5 272.8 241.9 273.5 243.3 274.1 244.6 274.7 246.0 275.4 247.3 276.0 248.7 276.7 250.0 277.3 251.4 277.9 252.8 278.6 254.1 279.2 255.5 279.9 256.8 280.6 258.2 281.2 259.5 281.9 260.9 282.6 262.2 283.2 263.6 283.9 264.9 284.5 266.3 285.2 267.6 285.9 269.0 286.5 270.3 287.2 271.7 287.8 273.0 288.4 274.4 289.0 275.8 289.6 277.1 290.2 278.5 290.8 279.9 291.4 281.3 292.0 282.6 292.5 284.0 293.1 285.4 293.7 286.8 294.2 288.2 294.8 289.6 295.3 291.0 295.9 292.4 296.4 293.8 296.9 295.2 297.5 296.6 298.0 298.0 298.5 299.4 299.0 300.9 299.5 302.3 300.1 303.7 300.6 305.1 301.1 306.5 301.6 307.9 302.1 309.3 302.6 310.7 303.0 312.2 303.5 313.6 304.0 315.0 304.5 316.4 305.0 317.9 305.4 319.3 305.9 320.7 306.4 322.1 306.8 323.6 307.3 325.0 307.8 326.4 308.2 327.9 308.7 329.3 309.1 330.7 309.6 332.1 310.1 333.6 310.5 335.0 311.0 336.4 311.4 337.9 311.9 339.3 312.3 340.7 312.8 342.2 313.2 343.6 313.7 345.0 314.1 346.5 314.6 347.9 315.0 349.3 315.5 350.8 315.9 352.2 316.3 353.6 316.8 355.1 317.2 356.5 317.6 357.9 318.1 359.4 318.5 360.8 318.9 362.3 319.3 363.7 319.8 365.1 320.2 366.6 320.6 368.0 321.0 369.5 321.5 370.9 321.9 372.3 322.3 373.8 322.7 375.2 323.2 376.7 323.6 378.1 324.0 379.6 324.4 381.0 324.8 382.5 325.2 383.9 325.6 385.4 326.0 386.8 326.3 388.3 326.7 389.7 327.0 391.2 327.3 392.6 327.7 394.1 328.0 395.6 328.2 397.0 328.5 398.5 328.8 400.0 329.1 401.5 329.3 403.0 329.6 404.4 329.8 405.9 330.1 407.4 330.3 408.9 330.5 410.4 330.8 411.9 331.0 413.3 331.2 414.8 331.4 416.3 331.5 417.8 331.7 419.3 331.9 420.8 332.1 422.3 332.2 423.8 332.4 425.3 332.5 426.8 332.7 428.3 332.9 429.7 333.0 431.2 333.2 432.7 333.4 434.2 333.6 435.7 333.8 437.2 334.0 438.7 334.2 440.2 334.3 441.7 334.5 443.2 334.7 444.7 334.9 446.1 335.1 447.6 335.3 449.1 335.5 450.6 335.7 452.1 335.9 453.6 336.1 455.1 336.3 456.6 336.5 458.0 336.8 459.5 337.0 461.0 337.2 462.5 337.5 464.0 337.7 465.5 338.0 466.9 338.2 468.4 338.5 469.9 338.8 471.4 339.0 472.9 339.3 474.3 339.6 475.8 339.9 477.3 340.2 478.8 340.5 480.2 340.9 481.7 341.2 483.2 341.6 484.6 342.0 486.1 342.3 487.5 342.7 489.0 343.2 490.4 343.6 491.8 344.2 493.2 344.8 494.6 345.5 496.1 346.3 496.6 347.1 495.1 347.7 493.8 348.3 492.4 348.8 491.0 349.3 489.6 349.7 488.1 350.1 486.7 350.5 485.2 350.9 483.8 351.2 482.3 351.6 480.9 351.9 479.4 352.2 477.9 352.6 476.5 352.9 475.0 353.2 473.5 353.5 472.0 353.8 470.6 354.0 469.1 354.3 467.6 354.6 466.1 354.9 464.7 355.2 463.2 355.5 461.7 355.8 460.2 356.1 458.8 356.4 457.3 356.7 455.8 356.9 454.3 357.2 452.9 357.5 451.4 357.8 449.9 358.0 448.4 358.3 447.0 358.5 445.5 358.8 444.0 359.0 442.5 359.3 441.0 359.5 439.6 359.8 438.1 360.0 436.6 360.2 435.1 360.5 433.6 360.7 432.1 360.9 430.7 361.1 429.2 361.3 427.7 361.5 426.2 361.7 424.7 361.9 423.2 362.1 421.7 362.3 420.2 362.5 418.8 362.7 417.3 362.9 415.8 363.1 414.3 363.3 412.8 363.5 411.3 363.7 409.8 363.9 408.3 364.1 406.8 364.3 405.4 364.5 403.9 364.7 402.4 364.9 400.9 365.1 399.4 365.3 397.9 365.5 396.4 365.7 394.9 365.9 393.5 366.1 392.0 366.3 390.5 366.5 389.0 366.8 387.5 367.0 386.0 367.2 384.5 367.4 383.1 367.6 381.6 367.9 380.1 368.1 378.6 368.3 377.1 368.5 375.6 368.8 374.1 369.0 372.6 369.2 371.2 369.5 369.7 369.7 368.2 369.9 366.7 370.2 365.2 370.5 363.8 370.7 362.3 371.0 360.8 371.3 359.3 371.5 357.9 371.8 356.4 372.1 354.9 372.4 353.5 372.7 352.0 373.0 350.5 373.4 349.1 373.7 347.6 374.1 346.1 374.4 344.7 374.8 343.2 375.2 341.8 375.5 340.3 375.9 338.9 376.3 337.4 376.7 336.0 377.1 334.5 377.5 333.1 377.9 331.6 378.3 330.2 378.7 328.7 379.2 327.3 379.6 325.8 380.0 324.4 380.4 322.9 380.8 321.5 381.2 320.1 381.7 318.6 382.1 317.2 382.5 315.8 383.0 314.3 383.4 312.9 383.9 311.4 384.3 310.0 384.8 308.6 385.2 307.2 385.7 305.7 386.2 304.3 386.6 302.9 387.1 301.4 387.6 300.0 388.1 298.6 388.6 297.2 389.0 295.8 389.5 294.3 390.0 292.9 390.5 291.5 391.1 290.1 391.6 288.7 392.1 287.3 392.6 285.9 393.2 284.5 393.7 283.1 394.2 281.7 394.8 280.3 395.3 278.9 395.8 277.5 396.4 276.1 396.9 274.7 397.5 273.3 398.0 271.9 398.5 270.5 399.1 269.1 399.6 267.6 400.1 266.2 400.7 264.8 401.2 263.4 401.7 262.0 402.3 260.6 402.9 259.2 403.4 257.9 404.0 256.5 404.6 255.1 405.2 253.7 405.8 252.4 406.5 251.0 407.1 249.7 407.8 248.3 408.4 247.0 409.1 245.6 409.8 244.3 410.5 242.9 411.2 241.6 411.9 240.3 412.6 239.0 413.4 237.6 414.1 236.3 414.8 235.0 415.6 233.7 416.3 232.5 417.1 231.2 417.9 229.9 418.7 228.6 419.5 227.3 420.3 226.0 421.1 224.8 421.9 223.5 422.7 222.2 423.6 221.0 424.4 219.8 425.3 218.5 426.2 217.3 427.1 216.1 428.0 214.9 428.9 213.8 429.9 212.6 430.8 211.5 431.8 210.3 432.8 209.2 433.8 208.1 434.8 207.0 435.9 205.9 436.9 204.8 437.9 203.7 439.0 202.6 440.0 201.6 441.1 200.5 442.2 199.5 443.3 198.4 444.3 197.4 445.4 196.4 446.6 195.3 447.7 194.3 448.8 193.3 449.9 192.3 451.1 191.4 452.2 190.4 453.4 189.4 454.5 188.5 455.7 187.5 456.9 186.6 458.1 185.7 459.3 184.8 460.4 183.9 461.6 182.9 462.8 182.0 464.0 181.0 465.1 180.1 466.3 179.1 467.5 178.2 468.7 177.3 469.9 176.5 471.1 175.6 472.4 174.8 473.7 174.0 475.0 173.3 476.3 172.5 477.6 171.8 478.9 171.0 480.2 170.3 481.5 169.6 482.8 168.8 484.1 168.1 485.5 167.4 486.8 166.7 488.1 166.0 489.5 165.3 490.8 164.7 492.2 164.0 493.5 163.4 494.9 162.7 496.3 162.1 497.6 161.5 499.0 161.0 500.4 160.4 501.8 159.9 503.3 159.4 504.7 158.9 506.1 158.5 507.5 158.0 509.0 157.5 510.4 157.0 511.8 156.5 513.2 156.0 514.6 155.4 516.0 154.9 517.4 154.3 518.8 153.7 520.2 153.2 521.6 152.7 523.0 152.2 524.4 151.7 525.8 151.1 527.2 150.6 528.6 150.1 530.1 149.6 531.5 149.2 532.9 148.7 534.3 148.2 535.8 147.8 537.2 147.3 538.6 146.9 540.1 146.5 541.5 146.1 543.0 145.7 544.4 145.3 545.9 144.9 547.3 144.5 548.8 144.1 550.2 143.8 551.7 143.4 553.2 143.1 554.6 142.8 556.1 142.5 557.6 142.3 559.1 142.0 560.5 141.8 562.0 141.6 563.5 141.4 565.0 141.1 566.5 141.0 568.0 140.8 569.5 140.6 571.0 140.4 572.5 140.2 574.0 140.0 575.4 139.9 576.9 139.7 578.4 139.5 579.9 139.4 581.4 139.2 582.9 139.1 584.4 138.9 585.9 138.8 587.4 138.6 588.9 138.5 590.4 138.4 591.9 138.2 593.4 138.1 594.9 138.0 596.4 137.9 597.9 137.7 599.4 137.6 600.9 137.5 602.4 137.4 603.9 137.3 605.3 137.2 606.8 137.1 608.3 137.0 609.8 136.9 611.3 136.8 612.8 136.7 614.3 136.6 615.8 136.6 617.3 136.5 618.9 136.4 620.4 136.3 621.8 136.2 623.3 136.1 624.8 136.0 626.3 135.9 627.8 135.7 629.3 135.5 630.8 135.3 632.2 135.0 633.7 134.7 635.2 134.4 636.7 134.1 638.1 133.8 639.6 133.4 641.1 133.1 642.5 132.8 644.0 132.5 645.5 132.2 647.0 131.9 648.4 131.6 649.9 131.4 651.4 131.1 652.9 130.8 654.3 130.5 655.8 130.2 657.3 129.9 658.7 129.6 660.2 129.3 661.7 129.0 663.2 128.7 664.6 128.4 666.1 128.1 667.6 127.8 669.1 127.5 670.5 127.3 672.0 127.0 673.5 126.7 675.0 126.4 676.4 126.2 677.9 125.9 679.4 125.6 680.9 125.3 682.3 125.1 683.8 124.8 685.3 124.5 686.8 124.2 688.2 124.0 689.7 123.7 691.2 123.4 692.7 123.2 694.2 122.9 695.6 122.6 697.1 122.3 698.6 122.1 700.1 121.8 701.6 121.6 703.0 121.3 704.5 121.0 706.0 120.8 707.5 120.5 709.0 120.3 710.4 120.0 711.9 119.8 713.4 119.6 714.9 119.3 716.4 119.1 717.8 118.9 719.3 118.7 720.8 118.4 722.3 118.2 723.8 118.0 725.3 117.8 726.8 117.6 728.2 117.4 729.7 117.2 731.2 117.1 732.7 116.9 734.2 116.7 735.7 116.5 737.2 116.3 738.7 116.2 740.2 116.0 741.7 115.8 743.1 115.6 744.6 115.5 746.1 115.3 747.6 115.2 749.1 115.0 750.6 114.8 752.1 114.7 753.6 114.5 755.1 114.4 756.6 114.2 758.1 114.1 759.6 113.9 761.1 113.8 762.6 113.6 764.1 113.4 765.5 113.3 767.0 113.1 768.5 113.0 770.0 112.8 771.5 112.7 773.0 112.5 774.5 112.4 776.0 112.2 777.5 112.0 779.0 111.9 780.5 111.7 782.0 111.6 783.5 111.4 785.0 111.2 786.5 111.1 787.9 110.9 789.4 110.7 790.9 110.6 792.4 110.4 793.9 110.2 795.4 110.1 796.9 109.9 798.4 109.8 799.9 109.6 801.4 109.4 802.9 109.3 804.4 109.1 805.9 109.0 807.4 108.8 808.8 108.7 810.3 108.5 811.8 108.4 813.3 108.2 814.8 108.1 816.3 108.0 817.8 107.8 819.3 107.7 820.8 107.6 822.3 107.4 823.8 107.3 825.3 107.2 826.8 107.1 828.3 107.0 829.8 106.8 831.3 106.7 832.8 106.6 834.3 106.5 835.8 106.3 837.3 106.2 838.8 106.1 840.3 106.0 841.8 105.8 843.3 105.7 844.8 105.6 846.2 105.5 847.7 105.3 849.2 105.2 850.7 105.1 852.2 105.0 853.7 104.9 855.2 104.7 856.7 104.6 858.2 104.5 859.7 104.4 861.2 104.3 862.7 104.2 864.2 104.1 865.7 104.0 867.2 103.9 868.7 103.8 870.2 103.7 871.7 103.6 873.2 103.5 874.7 103.4 876.2 103.3 877.7 103.2 879.2 103.2 880.7 103.1 882.2 103.0 883.7 103.0 885.2 102.9 886.7 102.8 888.2 102.8 889.7 102.8 891.2 102.7 892.7 102.7 894.2 102.7 895.7 102.6 897.2 102.6 898.7 102.6 900.2 102.6 901.7 102.6 903.2 102.6 904.7 102.6 906.2 102.6 907.7 102.6 909.2 102.6 910.7 102.6 912.2 102.6 913.7 102.7 915.2 102.7 916.7 102.7 918.2 102.7 919.7 102.7 921.2 102.7 922.7 102.7 924.2 102.7 925.7 102.8 927.2 102.8 928.7 102.8 930.2 102.8 931.7 102.8 933.2 102.8 934.7 102.9 936.2 102.9 937.7 102.9 939.2 102.9 940.7 102.9 942.2 103.0 943.7 103.0 945.2 103.0 946.7 103.1 948.2 103.1 949.7 103.2 951.2 103.3 952.7 103.3 954.2 103.4 955.7 103.5 957.2 103.6 958.7 103.7 960.2 103.8 961.7 103.9 963.2 104.0 964.7 104.1 966.2 104.2 967.7 104.3 969.2 104.4 970.7 104.5 972.2 104.7 973.7 104.8 975.2 104.9 976.7 105.0 978.2 105.2 979.7 105.3 981.2 105.5 982.7 105.6 984.2 105.7 985.7 105.9 987.2 106.0 988.7 106.2 990.2 106.3 991.7 106.4 993.2 106.6 994.7 106.7 996.1 106.9 997.6 107.0 999.1 107.1 1000.6 107.3 1002.1 107.4 1003.6 107.6 1005.1 107.7 1006.6 107.8 1008.1 108.0 1009.6 108.1 1011.1 108.2 1012.6 108.3 1014.1 108.4 1015.6 108.6 1017.1 108.7 1018.6 108.8 1020.1 108.9 1021.6 109.0 1023.1 109.2 1024.6 109.3 1026.1 109.4 1027.6 109.5 1029.1 109.6 1030.6 109.7 1032.1 109.9 1033.6 110.0 1035.1 110.1 1036.6 110.2 1038.1 110.4 1039.5 110.5 1041.0 110.6 1042.5 110.7 1044.0 110.8 1045.5 111.0 1047.0 111.1 1048.5 111.2 1050.0 111.3 1051.5 111.4 1053.0 111.6 1054.5 111.7 1056.0 111.8 1057.5 111.9 1059.0 112.0 1060.5 112.1 1062.0 112.3 1063.5 112.4 1065.0 112.5 1066.5 112.6 1068.0 112.7 1069.5 112.8 1071.0 112.9 1072.5 113.0 1074.0 113.2 1075.5 113.3 1077.0 113.4 1078.5 113.5 1080.0 113.6 1081.5 113.7 1083.0 113.8 1084.5 113.9 1086.0 114.0 1087.5 114.1 1088.9 114.2 1090.4 114.3 1091.9 114.4 1093.4 114.6 1094.9 114.7 1096.4 114.8 1097.9 114.9 1099.4 115.0 1100.9 115.1 1102.4 115.3 1103.9 115.4 1105.4 115.5 1106.9 115.6 1108.4 115.8 1109.9 115.9 1111.4 116.0 1112.9 116.1 1114.4 116.3 1115.9 116.4 1117.4 116.5 1118.9 116.7 1120.4 116.8 1121.9 116.9 1123.4 117.1 1124.9 117.2 1126.4 117.3 1127.8 117.5 1129.3 117.6 1130.8 117.7 1132.3 117.9 1133.8 118.0 1135.3 118.2 1136.8 118.3 1138.3 118.4 1139.8 118.6 1141.3 118.7 1142.8 118.8 1144.3 119.0 1145.8 119.1 1147.3 119.3 1148.8 119.4 1150.3 119.6 1151.8 119.7 1153.3 119.8 1154.8 120.0 1156.2 120.1 1157.7 120.3 1159.2 120.4 1160.7 120.6 1162.2 120.7 1163.7 120.9 1165.2 121.0 1166.7 121.1 1168.2 121.3 1169.7 121.4 1171.2 121.6 1172.7 121.7 1174.2 121.9 1175.7 122.1 1177.2 122.2 1178.7 122.4 1180.1 122.5 1181.6 122.7 1183.1 122.8 1184.6 123.0 1186.1 123.1 1187.6 123.3 1189.1 123.5 1190.6 123.6 1192.1 123.8 1193.6 123.9 1195.1 124.1 1196.6 124.3 1198.1 124.4 1199.6 124.6 1201.0 124.7 1202.5 124.9 1204.0 125.1 1205.5 125.3 1207.0 125.4 1208.5 125.6 1210.0 125.8 1211.5 126.0 1213.0 126.1 1214.5 126.3 1216.0 126.5 1217.4 126.7 1218.9 126.9 1220.4 127.1 1221.9 127.3 1223.4 127.5 1224.9 127.8 1226.4 128.0 1227.9 128.2 1229.3 128.4 1230.8 128.6 1232.3 128.9 1233.8 129.1 1235.3 129.3 1236.8 129.6 1238.2 129.8 1239.7 130.1 1241.2 130.3 1242.7 130.6 1244.1 130.8 1245.6 131.1 1247.1 131.4 1248.6 131.7 1250.1 132.0 1251.5 132.2 1253.0 132.5 1254.5 132.8 1255.9 133.1 1257.4 133.4 1258.9 133.7 1260.4 134.1 1261.8 134.4 1263.3 134.7 1264.8 135.0 1266.2 135.3 1267.7 135.7 1269.1 136.0 1270.6 136.3 1272.1 136.7 1273.5 137.0 1275.0 137.4 1276.4 137.8 1277.9 138.1 1279.4 138.5 1280.8 138.9 1282.3 139.3 1283.7 139.6 1285.2 140.0 1286.6 140.4 1288.1 140.8 1289.5 141.2 1291.0 141.6 1292.4 142.0 1293.9 142.4 1295.3 142.8 1296.7 143.2 1298.2 143.6 1299.6 144.0 1301.1 144.4 1302.5 144.9 1304.0 145.3 1305.4 145.7 1306.8 146.2 1308.3 146.6 1309.7 147.1 1311.1 147.5 1312.6 148.0 1314.0 148.5 1315.4 148.9 1316.8 149.4 1318.3 149.9 1319.7 150.4 1321.1 150.9 1322.5 151.4 1323.9 151.9 1325.4 152.4 1326.8 152.9 1328.2 153.4 1329.6 153.9 1331.0 154.5 1332.4 155.0 1333.8 155.6 1335.2 156.2 1336.6 156.7 1337.9 157.3 1339.3 157.9 1340.7 158.5 1342.0 159.2 1343.4 159.8 1344.7 160.5 1346.1 161.1 1347.4 161.8 1348.7 162.5 1350.1 163.2 1351.4 163.9 1352.7 164.7 1354.0 165.4 1355.4 166.2 1356.7 166.9 1357.9 167.7 1359.2 168.5 1360.5 169.3 1361.8 170.1 1363.0 170.9 1364.3 171.7 1365.5 172.5 1366.7 173.4 1367.9 174.2 1369.2 175.1 1370.3 176.0 1371.5 177.0 1372.7 177.9 1373.9 178.8 1375.1 179.8 1376.2 180.8 1377.4 181.7 1378.5 182.7 1379.7 183.7 1380.8 184.7 1381.9 185.7 1383.1 186.7 1384.2 187.6 1385.3 188.6 1386.4 189.6 1387.5 190.7 1388.6 191.7 1389.7 192.7 1390.8 193.8 1391.9 194.8 1392.9 195.9 1394.0 196.9 1395.1 198.0 1396.1 199.0 1397.2 200.1 1398.3 201.2 1399.3 202.2 1400.4 203.3 1401.4 204.4 1402.5 205.4 1403.5 206.5 1404.6 207.6 1405.6 208.7 1406.6 209.8 1407.7 210.9 1408.7 212.0 1409.7 213.1 1410.7 214.2 1411.7 215.3 1412.7 216.4 1413.7 217.6 1414.7 218.7 1415.7 219.8 1416.7 220.9 1417.7 222.1 1418.6 223.2 1419.6 224.4 1420.6 225.5 1421.5 226.7 1422.5 227.8 1423.4 229.0 1424.4 230.2 1425.3 231.3 1426.3 232.5 1427.2 233.7 1428.1 234.8 1429.1 236.0 1430.0 237.2 1430.9 238.4 1431.8 239.6 1432.7 240.8 1433.6 242.0 1434.5 243.2 1435.4 244.4 1436.3 245.6 1437.2 246.8 1438.1 248.0 1439.0 249.2 1439.9 250.4 1440.8 251.6 1441.6 252.9 1442.5 254.1 1443.4 255.3 1444.3 256.5 1445.1 257.8 1446.0 259.0 1446.8 260.2 1447.7 261.4 1448.6 262.7 1449.4 263.9 1450.3 265.1 1451.2 266.4 1452.0 267.6 1452.9 268.8 1453.7 270.1 1454.6 271.3 1455.4 272.5 1456.3 273.8 1457.1 275.0 1458.0 276.3 1458.8 277.5 1459.7 278.7 1460.5 280.0 1461.3 281.2 1462.2 282.5 1463.1 283.7 1463.9 284.9 1464.8 286.1 1465.7 287.4 1466.6 288.6 1467.4 289.8 1468.3 291.0 1469.3 292.2 1470.2 293.4 1471.1 294.6 1472.0 295.8 1472.9 296.9 1473.8 298.1 1474.8 299.3 1475.7 300.5 1476.7 301.6 1477.6 302.8 1478.6 303.9 1479.6 305.1 1480.6 306.2 1481.6 307.3 1482.6 308.4 1483.6 309.5 1484.7 310.5 1485.8 311.6 1486.9 312.6 1488.0 313.7 1489.1 314.7 1490.2 315.7 1491.3 316.7 1492.4 317.8 1493.6 318.8 1494.8 319.7 1496.0 320.4 1497.4 321.0 1498.8 321.5 1500.3 321.9 1501.8 322.0 1503.3 321.9 1504.8 321.5 1506.2 321.0 1507.6 320.4 1508.9 319.7 1510.1 318.8 1511.2 317.8 1512.3 316.8 1513.5 315.7 1514.6 314.8 1515.8 313.8 1516.9 312.8 1518.1 311.8 1519.2 310.9 1520.3 309.9 1521.4 308.9 1522.6 307.8 1523.6 306.8 1524.7 305.8 1525.8 304.7 1526.8 303.7 1527.9 302.6 1528.9 301.5 1529.9 300.4 1530.9 299.2 1531.8 298.1 1532.8 296.9 1533.7 295.7 1534.6 294.5 1535.6 293.4 1536.5 292.2 1537.4 291.0 1538.3 289.8 1539.2 288.6 1540.1 287.4 1541.0 286.2 1541.9 285.0 1542.8 283.8 1543.7 282.6 1544.6 281.4 1545.5 280.1 1546.4 278.9 1547.2 277.7 1548.1 276.5 1549.0 275.3 1549.8 274.0 1550.7 272.8 1551.6 271.6 1552.5 270.4 1553.3 269.1 1554.2 267.9 1555.1 266.7 1555.9 265.5 1556.8 264.2 1557.6 263.0 1558.5 261.7 1559.3 260.5 1560.2 259.3 1561.1 258.1 1561.9 256.8 1562.8 255.6 1563.7 254.4 1564.6 253.2 1565.5 252.0 1566.4 250.8 1567.3 249.6 1568.2 248.4 1569.2 247.3 1570.1 246.1 1571.1 244.9 1572.0 243.8 1572.9 242.6 1573.9 241.4 1574.8 240.2 1575.8 239.1 1576.7 237.9 1577.7 236.7 1578.6 235.6 1579.5 234.4 1580.4 233.2 1581.4 232.0 1582.3 230.8 1583.2 229.7 1584.2 228.5 1585.1 227.3 1586.0 226.1 1587.0 225.0 1587.9 223.8 1588.9 222.6 1589.8 221.5 1590.8 220.4 1591.8 219.2 1592.8 218.1 1593.7 216.9 1594.7 215.8 1595.7 214.7 1596.7 213.5 1597.7 212.4 1598.7 211.3 1599.7 210.2 1600.7 209.1 1601.8 208.0 1602.8 206.9 1603.8 205.8 1604.9 204.7 1605.9 203.6 1606.9 202.6 1608.0 201.5 1609.1 200.4 1610.1 199.4 1611.2 198.3 1612.2 197.2 1613.3 196.2 1614.4 195.1 1615.5 194.1 1616.5 193.0 1617.6 192.0 1618.7 191.0 1619.8 189.9 1620.9 188.9 1622.0 187.8 1623.1 186.8 1624.2 185.8 1625.3 184.8 1626.4 183.8 1627.5 182.7 1628.6 181.7 1629.7 180.7 1630.8 179.7 1631.9 178.7 1633.1 177.8 1634.2 176.8 1635.3 175.8 1636.5 174.8 1637.6 173.9 1638.8 172.9 1640.0 171.9 1641.1 171.0 1642.3 170.0 1643.5 169.1 1644.6 168.2 1645.8 167.2 1647.0 166.3 1648.2 165.4 1649.3 164.4 1650.5 163.5 1651.7 162.6 1652.9 161.7 1654.1 160.8 1655.3 159.9 1656.5 159.0 1657.7 158.1 1658.9 157.2 1660.1 156.3 1661.4 155.4 1662.6 154.6 1663.8 153.7 1665.1 152.9 1666.3 152.0 1667.6 151.2 1668.8 150.4 1670.1 149.6 1671.3 148.8 1672.6 147.9 1673.9 147.2 1675.2 146.4 1676.5 145.6 1677.8 144.8 1679.1 144.1 1680.4 143.4 1681.7 142.6 1683.0 141.9 1684.3 141.3 1685.7 140.6 1687.0 139.9 1688.4 139.2 1689.7 138.5 1691.1 137.9 1692.4 137.3 1693.8 136.6 1695.2 136.0 1696.6 135.4 1698.0 134.9 1699.4 134.3 1700.8 133.8 1702.2 133.3 1703.6 132.8 1705.0 132.3 1706.4 131.9 1707.8 131.4 1709.3 131.0 1710.7 130.5 1712.2 130.1 1713.6 129.7 1715.1 129.3 1716.5 129.0 1718.0 128.6 1719.5 128.2 1720.9 127.9 1722.4 127.6 1723.8 127.2 1725.3 126.9 1726.8 126.6 1728.2 126.3 1729.7 126.0 1731.2 125.7 1732.7 125.4 1734.2 125.2 1735.6 124.9 1737.1 124.7 1738.6 124.4 1740.1 124.2 1741.6 124.0 1743.1 123.8 1744.5 123.6 1746.0 123.4 1747.5 123.2 1749.0 123.0 1750.5 122.8 1752.0 122.7 1753.5 122.5 1755.0 122.4 1756.5 122.2 1758.0 122.1 1759.5 122.0 1761.0 121.9 1762.5 121.8 1764.0 121.7 1765.5 121.7 1767.0 121.6 1768.5 121.6 1770.0 121.5 1771.5 121.4 1773.0 121.4 1774.5 121.3 1776.0 121.3 1777.5 121.3 1779.0 121.3 1780.5 121.2 1782.0 121.2 1783.5 121.2 1785.0 121.2 1786.5 121.3 1788.0 121.3 1789.5 121.3 1791.0 121.3 1792.5 121.3 1794.0 121.3 1795.5 121.3 1797.0 121.4 1798.5 121.4 1800.0 121.4 1801.5 121.4 1803.0 121.5 1804.5 121.5 1806.0 121.5 1807.5 121.5 1809.0 121.6 1810.5 121.6 1812.0 121.7 1813.5 121.7 1815.0 121.8 1816.5 121.8 1818.0 121.9 1819.5 122.0 1821.0 122.1 1822.5 122.1 1824.0 122.2 1825.5 122.3 1827.0 122.4 1828.5 122.5"/>
<path stroke="#0000ff" d="M84.0 62.5L125.0 62.5 126.5 62.8 128.0 63.1 129.5 63.4 130.9 63.8 132.4 64.2 133.8 64.6 135.2 65.1 136.6 65.6 138.0 66.2 139.3 66.8 140.7 67.4 142.0 68.1 143.4 68.8 144.7 69.5 146.0 70.3 147.3 71.1 148.6 71.9 149.9 72.8 151.2 73.6 152.4 74.5 153.7 75.4 154.9 76.3 156.2 77.2 157.4 78.1 158.6 79.0 159.7 79.9 160.9 80.8 162.1 81.7 163.2 82.7 164.3 83.7 165.5 84.7 166.6 85.7 167.7 86.7 168.8 87.8 169.9 88.9 170.9 90.0 172.0 91.1 173.0 92.2 174.0 93.3 175.0 94.4 176.0 95.5 177.0 96.7 178.0 97.8 179.0 98.9 179.9 100.1 180.8 101.3 181.8 102.5 182.7 103.7 183.6 104.9 184.5 106.1 185.4 107.3 186.3 108.6 187.1 109.8 188.0 111.1 188.8 112.3 189.6 113.6 190.5 114.8 191.3 116.1 192.1 117.4 192.8 118.7 193.6 120.0 194.4 121.2 195.1 122.5 195.9 123.9 196.6 125.2 197.3 126.5 198.0 127.8 198.7 129.2 199.4 130.5 200.1 131.8 200.8 133.2 201.5 134.6 202.2 135.9 202.8 137.3 203.5 138.6 204.1 140.0 204.7 141.4 205.3 142.7 205.9 144.1 206.5 145.5 207.1 146.9 207.7 148.3 208.3 149.7 208.8 151.0 209.4 152.5 209.9 153.9 210.4 155.3 211.0 156.7 211.5 158.1 212.0 159.5 212.6 160.9 213.1 162.3 213.6 163.8 214.1 165.2 214.6 166.6 215.1 168.0 215.7 169.4 216.2 170.8 216.7 172.3 217.2 173.7 217.7 175.1 218.2 176.5 218.6 177.9 219.1 179.4 219.6 180.8 220.1 182.2 220.6 183.7 221.1 185.1 221.5 186.5 222.0 187.9 222.5 189.4 223.0 190.8 223.4 192.2 223.9 193.7 224.4 195.1 224.8 196.5 225.3 197.9 225.8 199.4 226.2 200.8 226.7 202.3 227.1 203.7 227.6 205.1 228.1 206.6 228.5 208.0 229.0 209.4 229.4 210.9 229.9 212.3 230.3 213.7 230.8 215.2 231.3 216.6 231.7 218.0 232.2 219.5 232.6 220.9 233.1 222.3 233.5 223.8 234.0 225.2 234.4 226.7 234.9 228.1 235.3 229.5 235.8 231.0 236.2 232.4 236.6 233.9 237.0 235.3 237.4 236.8 237.8 238.2 238.2 239.7 238.6 241.1 239.1 242.6 239.4 244.0 239.8 245.5 240.2 246.9 240.6 248.4 241.0 249.8 241.4 251.3 241.8 252.7 242.2 254.2 242.5 255.7 242.9 257.1 243.3 258.6 243.6 260.0 244.0 261.5 244.4 263.0 244.7 264.4 245.1 265.9 245.5 267.3 245.8 268.8 246.2 270.3 246.5 271.7 246.9 273.2 247.2 274.7 247.6 276.1 247.9 277.6 248.3 279.1 248.6 280.5 248.9 282.0 249.3 283.5 249.6 284.9 249.9 286.4 250.2 287.9 250.5 289.4 250.9 290.8 251.2 292.3 251.5 293.8 251.8 295.3 252.1 296.7 252.4 298.2 252.7 299.7 253.0 301.2 253.3 302.6 253.6 304.1 253.8 305.6 254.1 307.1 254.4 308.6 254.7 310.0 255.0 311.5 255.2 313.0 255.5 314.5 255.8 316.0 256.1 317.4 256.3 318.9 256.6 320.4 256.8 321.9 257.1 323.4 257.3 324.9 257.6 326.3 257.8 327.8 258.1 329.3 258.3 330.8 258.6 332.3 258.8 333.8 259.1 335.3 259.3 336.7 259.5 338.2 259.8 339.7 260.0 341.2 260.2 342.7 260.4 344.2 260.7 345.7 260.9 347.2 261.1 348.7 261.3 350.2 261.5 351.6 261.7 353.1 261.9 354.6 262.1 356.1 262.3 357.6 262.5 359.1 262.7 360.6 262.8 362.1 263.0 363.6 263.2 365.1 263.4 366.6 263.5 368.1 263.7 369.6 263.8 371.1 264.0 372.6 264.1 374.1 264.3 375.6 264.4 377.1 264.6 378.6 264.7 380.1 264.9 381.6 265.0 383.1 265.2 384.6 265.3 386.1 265.4 387.6 265.6 389.1 265.7 390.6 265.8 392.1 265.9 393.6 266.1 395.1 266.2 396.6 266.3 398.1 266.4 399.6 266.5 401.1 266.6 402.6 266.7 404.1 266.8 405.6 267.0 407.1 267.1 408.6 267.2 410.1 267.3 411.6 267.4 413.1 267.5 414.6 267.7 416.1 267.8 417.6 267.9 419.1 268.1 420.6 268.2 422.1 268.4 423.6 268.5 425.1 268.7 426.6 268.8 428.1 269.0 429.6 269.1 431.1 269.3 432.6 269.4 434.1 269.6 435.6 269.7 437.1 269.9 438.6 270.1 440.1 270.2 441.6 270.4 443.1 270.5 444.6 270.7 446.1 270.8 447.6 271.0 449.1 271.1 450.6 271.3 452.1 271.4 453.6 271.6 455.1 271.7 456.6 271.9 458.1 272.0 459.6 272.2 461.1 272.4 462.6 272.5 464.0 272.7 465.5 272.8 467.0 273.0 468.5 273.1 470.0 273.3 471.5 273.4 473.0 273.6 474.5 273.7 476.0 273.9 477.5 274.0 479.0 274.2 480.5 274.3 482.0 274.4 483.5 274.6 485.0 274.7 486.5 274.9 488.0 275.0 489.5 275.1 491.0 275.3 492.5 275.4 494.0 275.6 495.5 275.7 497.0 275.8 498.5 276.0 500.0 276.1 501.5 276.2 503.0 276.4 504.5 276.5 506.0 276.6 507.5 276.8 509.0 276.9 510.5 277.0 512.0 277.1 513.5 277.2 515.0 277.3 516.5 277.5 518.0 277.6 519.5 277.7 521.0 277.8 522.5 277.9 524.0 278.0 525.6 278.0 527.1 278.1 528.6 278.2 530.1 278.3 531.6 278.4 533.1 278.5 534.6 278.6 536.1 278.7 537.6 278.8 539.1 278.9 540.6 279.0 542.1 279.1 543.6 279.1 545.1 279.2 546.6 279.3 548.1 279.3 549.6 279.4 551.1 279.4 552.6 279.5 554.1 279.5 555.6 279.6 557.1 279.6 558.6 279.6 560.1 279.6 561.7 279.7 563.2 279.7 564.7 279.7 566.2 279.7 567.7 279.7 569.2 279.8 570.7 279.8 572.2 279.8 573.7 279.8 575.2 279.8 576.7 279.8 578.2 279.8 579.7 279.9 581.2 279.9 582.7 279.9 584.2 279.9 585.7 279.9 587.2 279.9 588.7 279.9 590.3 280.0 591.8 280.0 593.3 280.0 594.8 280.0 596.3 280.0 597.8 280.0 599.3 280.0 600.8 280.0 602.3 280.0 603.8 280.1 605.3 280.1 606.8 280.1 608.3 280.1 609.8 280.1 611.3 280.1 612.8 280.1 614.3 280.1 615.9 280.1 617.4 280.1 618.9 280.1 620.4 280.1 621.9 280.2 623.4 280.2 624.9 280.2 626.4 280.2 627.9 280.2 629.4 280.2 630.9 280.2 632.4 280.2 633.9 280.2 635.4 280.2 636.9 280.2 638.5 280.2 640.0 280.2 641.5 280.2 643.0 280.2 644.5 280.2 646.0 280.2 647.5 280.2 649.0 282.8 649.0 282.8 647.5 282.8 646.0 282.8 644.5 282.8 643.0 282.8 641.5 282.8 640.0 282.8 638.5 282.8 637.0 282.8 635.5 282.8 634.0 282.9 632.5 282.9 631.0 282.9 629.5 282.9 628.0 282.9 626.5 282.9 625.0 282.9 623.5 282.9 622.0 283.0 620.5 283.0 619.0 283.0 617.4 283.0 615.9 283.0 614.4 283.0 612.9 283.1 611.4 283.1 609.9 283.1 608.4 283.1 606.9 283.2 605.4 283.2 603.9 283.2 602.4 283.2 600.9 283.3 599.4 283.3 597.9 283.3 596.4 283.3 594.9 283.4 593.4 283.4 591.9 283.4 590.4 283.4 588.9 283.5 587.4 283.5 585.9 283.5 584.4 283.6 582.9 283.6 581.4 283.6 579.9 283.7 578.4 283.7 576.9 283.7 575.4 283.8 573.9 283.8 572.4 283.8 570.9 283.9 569.4 283.9 567.9 284.0 566.4 284.1 564.9 284.2 563.4 284.2 561.9 284.3 560.4 284.4 558.9 284.5 557.4 284.6 555.9 284.7 554.4 284.8 552.9 284.9 551.4 285.0 549.9 285.1 548.4 285.2 546.9 285.3 545.4 285.5 543.9 285.6 542.4 285.7 540.9 285.8 539.4 285.9 538.0 286.0 536.5 286.1 535.0 286.3 533.5 286.4 532.0 286.5 530.5 286.7 529.0 286.8 527.5 286.9 526.0 287.1 524.5 287.2 523.0 287.4 521.5 287.5 520.0 287.7 518.5 287.8 517.0 288.0 515.5 288.2 514.0 288.3 512.5 288.5 511.0 288.6 509.5 288.8 508.1 288.9 506.6 289.1 505.1 289.3 503.6 289.4 502.1 289.6 500.6 289.8 499.1 289.9 497.6 290.1 496.1 290.3 494.6 290.5 493.1 290.6 491.6 290.8 490.2 291.0 488.7 291.2 487.2 291.4 485.7 291.6 484.2 291.7 482.7 291.9 481.2 292.1 479.7 292.3 478.2 292.5 476.7 292.7 475.3 292.9 473.8 293.0 472.3 293.2 470.8 293.4 469.3 293.6 467.8 293.8 466.3 294.0 464.8 294.2 463.3 294.4 461.8 294.6 460.4 294.7 458.9 294.9 457.4 295.1 455.9 295.3 454.4 295.5 452.9 295.7 451.4 295.9 449.9 296.1 448.4 296.3 447.0 296.5 445.5 296.7 444.0 296.9 442.5 297.1 441.0 297.3 439.5 297.5 438.0 297.7 436.5 297.8 435.0 298.0 433.5 298.2 432.1 298.4 430.6 298.6 429.1 298.7 427.6 298.9 426.1 299.1 424.6 299.3 423.1 299.4 421.6 299.6 420.1 299.8 418.6 300.0 417.1 300.2 415.7 300.4 414.2 300.6 412.7 300.8 411.2 301.0 409.7 301.2 408.2 301.4 406.7 301.6 405.2 301.8 403.7 302.0 402.3 302.2 400.8 302.5 399.3 302.7 397.8 302.9 396.3 303.2 394.8 303.4 393.4 303.7 391.9 304.0 390.4 304.2 388.9 304.5 387.5 304.8 386.0 305.1 384.5 305.5 383.1 305.8 381.6 306.1 380.1 306.5 378.7 306.8 377.2 307.2 375.7 307.5 374.3 307.9 372.8 308.3 371.4 308.7 369.9 309.1 368.5 309.5 367.0 309.9 365.6 310.3 364.1 310.7 362.7 311.1 361.2 311.5 359.8 311.9 358.3 312.4 356.9 312.8 355.5 313.2 354.0 313.7 352.6 314.2 351.2 314.6 349.8 315.1 348.4 315.6 346.9 316.1 345.5 316.7 344.1 317.2 342.7 317.7 341.3 318.2 339.9 318.8 338.5 319.3 337.1 319.9 335.7 320.4 334.3 321.0 332.9 321.5 331.5 322.1 330.1 322.6 328.7 323.2 327.3 323.7 325.9 324.3 324.5 324.9 323.1 325.4 321.7 326.0 320.3 326.6 319.0 327.2 317.6 327.8 316.2 328.3 314.8 328.9 313.4 329.5 312.0 330.1 310.7 330.7 309.3 331.3 307.9 331.9 306.5 332.5 305.2 333.1 303.8 333.8 302.4 334.4 301.0 335.0 299.7 335.6 298.3 336.2 296.9 336.8 295.6 337.5 294.2 338.1 292.8 338.7 291.5 339.3 290.1 340.0 288.7 340.6 287.4 341.2 286.0 341.9 284.7 342.5 283.3 343.2 282.0 343.8 280.6 344.5 279.3 345.2 277.9 345.8 276.6 346.5 275.2 347.2 273.9 347.9 272.6 348.6 271.2 349.3 269.9 350.0 268.6 350.7 267.3 351.4 265.9 352.2 264.6 352.9 263.3 353.6 262.0 354.4 260.7 355.1 259.4 355.9 258.1 356.6 256.8 357.4 255.5 358.1 254.2 358.9 252.9 359.7 251.6 360.5 250.4 361.3 249.1 362.1 247.8 362.9 246.5 363.6 245.3 364.4 244.0 365.2 242.7 366.0 241.4 366.8 240.1 367.6 238.9 368.4 237.6 369.1 236.3 369.9 235.0 370.7 233.7 371.4 232.4 372.2 231.1 373.0 229.8 373.8 228.6 374.5 227.3 375.3 226.0 376.1 224.7 376.9 223.4 377.7 222.2 378.5 220.9 379.4 219.7 380.2 218.4 381.0 217.2 381.9 215.9 382.7 214.7 383.6 213.5 384.4 212.2 385.3 211.0 386.2 209.8 387.0 208.5 387.9 207.3 388.8 206.1 389.6 204.9 390.5 203.6 391.4 202.4 392.2 201.2 393.1 200.0 394.0 198.7 394.9 197.5 395.8 196.3 396.7 195.1 397.6 193.9 398.5 192.8 399.5 191.6 400.5 190.5 401.4 189.3 402.4 188.2 403.4 187.1 404.4 185.9 405.4 184.8 406.5 183.7 407.5 182.6 408.5 181.5 409.5 180.4 410.6 179.4 411.6 178.3 412.7 177.2 413.7 176.1 414.8 175.1 415.9 174.0 417.0 173.0 418.1 172.0 419.2 171.0 420.4 170.0 421.5 169.1 422.7 168.2 423.9 167.3 425.1 166.4 426.4 165.5 427.6 164.7 428.9 163.8 430.1 163.0 431.4 162.2 432.7 161.4 434.0 160.6 435.3 159.8 436.6 159.1 437.9 158.4 439.2 157.7 440.6 157.0 441.9 156.4 443.2 155.7 444.6 155.1 446.0 154.5 447.3 153.9 448.7 153.3 450.1 152.7 451.5 152.1 452.9 151.6 454.3 151.0 455.8 150.5 457.2 150.0 458.6 149.5 460.0 149.0 461.5 148.6 462.9 148.1 464.3 147.7 465.8 147.3 467.2 147.0 468.7 146.6 470.1 146.2 471.6 145.9 473.0 145.5 474.5 145.2 476.0 144.9 477.5 144.5 478.9 144.2 480.4 143.9 481.9 143.7 483.4 143.4 484.9 143.1 486.3 142.9 487.8 142.6 489.3 142.4 490.8 142.2 492.3 141.9 493.8 141.7 495.2 141.5 496.7 141.3 498.2 141.1 499.7 140.9 501.2 140.8 502.7 140.6 504.2 140.4 505.7 140.2 507.2 140.1 508.7 139.9 510.2 139.8 511.7 139.6 513.1 139.5 514.6 139.3 516.1 139.1 517.6 139.0 519.1 138.9 520.6 138.7 522.1 138.6 523.6 138.4 525.1 138.3 526.6 138.1 528.1 138.0 529.6 137.9 531.1 137.7 532.6 137.6 534.1 137.5 535.6 137.3 537.1 137.2 538.6 137.1 540.1 136.9 541.6 136.8 543.1 136.7 544.6 136.6 546.0 136.5 547.5 136.3 549.0 136.2 550.5 136.1 552.0 136.0 553.5 135.9 555.0 135.7 556.5 135.6 558.0 135.5 559.5 135.4 561.0 135.3 562.5 135.2 564.0 135.0 565.5 134.9 567.0 134.8 568.5 134.7 570.0 134.6 571.5 134.5 573.0 134.4 574.5 134.3 576.0 134.2 577.5 134.1 579.0 134.0 580.5 133.9 582.0 133.8 583.5 133.7 585.0 133.6 586.5 133.5 588.0 133.4 589.5 133.3 591.0 133.2 592.5 133.1 594.0 133.0 595.5 132.8 597.0 132.7 598.5 132.6 600.0 132.5 601.5 132.4 603.0 132.2 604.5 132.1 605.9 132.0 607.4 131.9 608.9 131.7 610.4 131.6 611.9 131.5 613.4 131.3 614.9 131.2 616.4 131.1 617.9 130.9 619.4 130.8 620.9 130.6 622.4 130.5 623.9 130.4 625.4 130.2 626.9 130.1 628.4 129.9 629.9 129.8 631.4 129.6 632.9 129.5 634.4 129.3 635.9 129.2 637.3 129.0 638.8 128.9 640.3 128.7 641.8 128.6 643.3 128.4 644.8 128.3 646.3 128.1 647.8 128.0 649.3 127.8 650.8 127.6 652.3 127.5 653.8 127.3 655.3 127.1 656.8 127.0 658.2 126.8 659.7 126.6 661.2 126.5 662.7 126.3 664.2 126.1 665.7 125.9 667.2 125.8 668.7 125.6 670.2 125.4 671.7 125.2 673.2 125.0 674.7 124.9 676.1 124.7 677.6 124.5 679.1 124.3 680.6 124.1 682.1 123.9 683.6 123.8 685.1 123.6 686.6 123.4 688.1 123.2 689.6 123.0 691.0 122.8 692.5 122.7 694.0 122.5 695.5 122.3 697.0 122.1 698.5 121.9 700.0 121.7 701.5 121.6 703.0 121.4 704.5 121.2 706.0 121.0 707.4 120.8 708.9 120.7 710.4 120.5 711.9 120.3 713.4 120.1 714.9 119.9 716.4 119.7 717.9 119.6 719.4 119.4 720.9 119.2 722.3 119.0 723.8 118.8 725.3 118.6 726.8 118.5 728.3 118.3 729.8 118.1 731.3 117.9 732.8 117.7 734.3 117.5 735.8 117.4 737.3 117.2 738.7 117.0 740.2 116.8 741.7 116.6 743.2 116.5 744.7 116.3 746.2 116.1 747.7 116.0 749.2 115.8 750.7 115.6 752.2 115.4 753.7 115.3 755.1 115.1 756.6 114.9 758.1 114.8 759.6 114.6 761.1 114.4 762.6 114.2 764.1 114.1 765.6 113.9 767.1 113.7 768.6 113.6 770.1 113.4 771.6 113.2 773.1 113.1 774.6 112.9 776.0 112.7 777.5 112.6 779.0 112.4 780.5 112.3 782.0 112.1 783.5 111.9 785.0 111.8 786.5 111.6 788.0 111.5 789.5 111.3 791.0 111.2 792.5 111.0 794.0 110.9 795.5 110.7 797.0 110.6 798.4 110.5 799.9 110.3 801.4 110.2 802.9 110.0 804.4 109.9 805.9 109.8 807.4 109.6 808.9 109.5 810.4 109.4 811.9 109.2 813.4 109.1 814.9 109.0 816.4 108.9 817.9 108.7 819.4 108.6 820.9 108.5 822.4 108.4 823.9 108.2 825.4 108.1 826.9 108.0 828.4 107.9 829.9 107.8 831.4 107.6 832.9 107.5 834.4 107.4 835.9 107.3 837.4 107.2 838.9 107.1 840.4 107.0 841.9 106.9 843.4 106.8 844.8 106.7 846.3 106.6 847.8 106.5 849.3 106.4 850.8 106.3 852.3 106.2 853.8 106.1 855.3 106.0 856.8 106.0 858.3 105.9 859.8 105.8 861.3 105.7 862.8 105.6 864.3 105.5 865.8 105.4 867.3 105.3 868.8 105.2 870.3 105.1 871.8 105.0 873.3 104.9 874.8 104.8 876.3 104.8 877.8 104.7 879.3 104.6 880.8 104.5 882.3 104.5 883.8 104.4 885.3 104.3 886.8 104.3 888.3 104.2 889.8 104.2 891.3 104.1 892.8 104.1 894.3 104.1 895.8 104.1 897.3 104.0 898.8 104.0 900.3 104.0 901.8 104.0 903.3 104.0 904.8 104.1 906.3 104.1 907.8 104.1 909.3 104.1 910.9 104.2 912.4 104.2 913.9 104.2 915.4 104.3 916.9 104.3 918.4 104.4 919.9 104.4 921.4 104.5 922.9 104.5 924.4 104.6 925.9 104.7 927.4 104.7 928.9 104.8 930.4 104.9 931.9 104.9 933.4 105.0 934.9 105.1 936.4 105.1 937.9 105.2 939.4 105.3 940.9 105.4 942.4 105.4 943.9 105.5 945.4 105.6 946.9 105.7 948.4 105.8 949.8 105.9 951.3 106.0 952.8 106.1 954.3 106.3 955.8 106.4 957.3 106.5 958.8 106.6 960.3 106.8 961.8 106.9 963.3 107.1 964.8 107.2 966.3 107.3 967.8 107.5 969.3 107.6 970.8 107.8 972.3 108.0 973.8 108.1 975.3 108.3 976.8 108.4 978.3 108.6 979.8 108.8 981.3 108.9 982.7 109.1 984.2 109.2 985.7 109.4 987.2 109.6 988.7 109.7 990.2 109.9 991.7 110.0 993.2 110.2 994.7 110.4 996.2 110.6 997.7 110.7 999.2 110.9 1000.6 111.1 1002.1 111.3 1003.6 111.5 1005.1 111.7 1006.6 111.9 1008.1 112.1 1009.6 112.2 1011.1 112.4 1012.6 112.6 1014.0 112.8 1015.5 113.0 1017.0 113.2 1018.5 113.5 1020.0 113.7 1021.5 113.9 1023.0 114.1 1024.5 114.3 1026.0 114.5 1027.4 114.7 1028.9 114.9 1030.4 115.0 1031.9 115.2 1033.4 115.4 1034.9 115.6 1036.4 115.8 1037.9 116.0 1039.4 116.2 1040.9 116.4 1042.3 116.5 1043.8 116.7 1045.3 116.9 1046.8 117.1 1048.3 117.2 1049.8 117.4 1051.3 117.6 1052.8 117.8 1054.3 118.0 1055.8 118.1 1057.3 118.3 1058.7 118.5 1060.2 118.6 1061.7 118.8 1063.2 119.0 1064.7 119.2 1066.2 119.3 1067.7 119.5 1069.2 119.7 1070.7 119.8 1072.2 120.0 1073.7 120.2 1075.2 120.3 1076.7 120.5 1078.1 120.7 1079.6 120.8 1081.1 121.0 1082.6 121.1 1084.1 121.3 1085.6 121.5 1087.1 121.6 1088.6 121.8 1090.1 121.9 1091.6 122.1 1093.1 122.2 1094.6 122.4 1096.1 122.5 1097.6 122.7 1099.1 122.8 1100.6 123.0 1102.0 123.1 1103.5 123.3 1105.0 123.4 1106.5 123.6 1108.0 123.7 1109.5 123.9 1111.0 124.0 1112.5 124.2 1114.0 124.3 1115.5 124.5 1117.0 124.6 1118.5 124.8 1120.0 124.9 1121.5 125.0 1123.0 125.2 1124.5 125.3 1126.0 125.5 1127.5 125.6 1129.0 125.7 1130.4 125.9 1131.9 126.0 1133.4 126.1 1134.9 126.2 1136.4 126.4 1137.9 126.5 1139.4 126.6 1140.9 126.7 1142.4 126.9 1143.9 127.0 1145.4 127.1 1146.9 127.2 1148.4 127.3 1149.9 127.4 1151.4 127.5 1152.9 127.6 1154.4 127.7 1155.9 127.8 1157.4 127.9 1158.9 128.0 1160.4 128.1 1161.9 128.2 1163.4 128.3 1164.9 128.5 1166.4 128.6 1167.9 128.8 1169.4 128.9 1170.9 129.1 1172.4 129.2 1173.8 129.4 1175.3 129.6 1176.8 129.7 1178.3 129.9 1179.8 130.1 1181.3 130.3 1182.8 130.5 1184.3 130.7 1185.8 130.8 1187.3 131.0 1188.8 131.2 1190.2 131.4 1191.7 131.6 1193.2 131.8 1194.7 132.0 1196.2 132.2 1197.7 132.3 1199.2 132.5 1200.7 132.7 1202.2 132.9 1203.7 133.1 1205.1 133.3 1206.6 133.5 1208.1 133.7 1209.6 133.9 1211.1 134.1 1212.6 134.4 1214.1 134.6 1215.5 134.8 1217.0 135.0 1218.5 135.2 1220.0 135.5 1221.5 135.7 1223.0 136.0 1224.4 136.2 1225.9 136.4 1227.4 136.7 1228.9 137.0 1230.4 137.2 1231.8 137.5 1233.3 137.7 1234.8 138.0 1236.3 138.3 1237.8 138.5 1239.2 138.8 1240.7 139.0 1242.2 139.3 1243.7 139.6 1245.1 139.9 1246.6 140.1 1248.1 140.4 1249.6 140.7 1251.1 141.0 1252.5 141.2 1254.0 141.5 1255.5 141.8 1257.0 142.1 1258.4 142.4 1259.9 142.7 1261.4 143.0 1262.8 143.3 1264.3 143.6 1265.8 144.0 1267.2 144.3 1268.7 144.6 1270.2 145.0 1271.6 145.3 1273.1 145.7 1274.5 146.0 1276.0 146.4 1277.5 146.7 1278.9 147.1 1280.4 147.5 1281.8 147.9 1283.3 148.2 1284.7 148.6 1286.2 149.0 1287.6 149.4 1289.1 149.8 1290.5 150.2 1292.0 150.6 1293.4 151.0 1294.9 151.4 1296.3 151.8 1297.8 152.2 1299.2 152.6 1300.7 153.0 1302.1 153.4 1303.5 153.8 1305.0 154.3 1306.4 154.7 1307.9 155.1 1309.3 155.6 1310.7 156.0 1312.2 156.5 1313.6 156.9 1315.0 157.4 1316.4 157.8 1317.9 158.3 1319.3 158.8 1320.7 159.3 1322.1 159.8 1323.5 160.3 1324.9 160.8 1326.4 161.3 1327.8 161.8 1329.2 162.4 1330.6 162.9 1332.0 163.4 1333.4 163.9 1334.8 164.5 1336.2 165.0 1337.6 165.5 1339.0 166.0 1340.4 166.5 1341.9 167.1 1343.3 167.6 1344.7 168.1 1346.1 168.6 1347.5 169.1 1348.9 169.7 1350.3 170.2 1351.7 170.7 1353.1 171.2 1354.5 171.8 1355.9 172.3 1357.3 172.8 1358.7 173.4 1360.1 173.9 1361.5 174.5 1362.9 175.0 1364.3 175.6 1365.7 176.1 1367.1 176.7 1368.5 177.3 1369.9 177.9 1371.3 178.4 1372.6 179.0 1374.0 179.6 1375.4 180.2 1376.8 180.8 1378.1 181.5 1379.5 182.1 1380.9 182.7 1382.2 183.4 1383.6 184.0 1384.9 184.7 1386.3 185.3 1387.6 186.0 1389.0 186.7 1390.3 187.4 1391.6 188.1 1392.9 188.8 1394.3 189.5 1395.6 190.3 1396.9 191.0 1398.1 191.8 1399.4 192.6 1400.7 193.4 1401.9 194.2 1403.2 195.0 1404.4 195.9 1405.7 196.7 1406.9 197.6 1408.1 198.4 1409.4 199.3 1410.6 200.2 1411.8 201.0 1413.1 201.9 1414.3 202.7 1415.5 203.6 1416.8 204.5 1418.0 205.3 1419.2 206.2 1420.4 207.1 1421.7 208.0 1422.9 208.9 1424.1 209.8 1425.3 210.7 1426.4 211.6 1427.6 212.5 1428.8 213.5 1429.9 214.4 1431.1 215.4 1432.2 216.4 1433.3 217.4 1434.4 218.4 1435.6 219.4 1436.7 220.4 1437.8 221.4 1438.9 222.4 1440.0 223.4 1441.1 224.5 1442.2 225.5 1443.3 226.5 1444.4 227.5 1445.5 228.6 1446.6 229.6 1447.7 230.7 1448.7 231.7 1449.8 232.7 1450.9 233.8 1452.0 234.8 1453.0 235.9 1454.1 236.9 1455.2 238.0 1456.3 239.0 1457.4 240.0 1458.5 241.0 1459.6 242.0 1460.8 243.0 1461.9 244.0 1463.0 245.0 1464.1 246.0 1465.2 247.0 1466.4 248.0 1467.5 249.0 1468.7 250.0 1469.8 250.9 1471.0 251.9 1472.1 252.8 1473.3 253.7 1474.5 254.7 1475.7 255.6 1476.9 256.5 1478.1 257.4 1479.3 258.3 1480.5 259.2 1481.8 260.0 1483.0 260.9 1484.2 261.7 1485.5 262.6 1486.7 263.4 1488.0 264.2 1489.3 265.0 1490.5 265.8 1491.8 266.6 1493.1 267.4 1494.4 268.2 1495.7 269.0 1497.0 269.7 1498.3 270.4 1499.6 271.2 1500.9 271.9 1502.3 272.5 1503.6 273.2 1505.0 273.8 1506.3 274.5 1507.7 275.0 1509.1 275.6 1510.5 276.1 1511.9 276.7 1513.3 277.2 1514.8 277.7 1516.2 278.2 1517.7 278.5 1519.1 278.8 1520.6 279.0 1522.1 279.3 1523.6 279.4 1525.1 279.6 1526.6 279.7 1528.1 279.6 1529.6 279.5 1531.1 279.4 1532.6 279.2 1534.1 278.9 1535.6 278.6 1537.0 278.3 1538.3 277.7 1539.6 277.0 1541.0 276.2 1542.3 275.3 1543.6 274.5 1544.8 273.8 1546.1 273.0 1547.4 272.2 1548.6 271.4 1549.9 270.5 1551.1 269.7 1552.4 268.8 1553.6 268.0 1554.8 267.1 1556.1 266.2 1557.3 265.4 1558.5 264.5 1559.7 263.6 1561.0 262.7 1562.2 261.9 1563.4 260.9 1564.6 260.0 1565.8 259.1 1567.0 258.2 1568.2 257.3 1569.4 256.4 1570.6 255.6 1571.8 254.7 1573.0 253.8 1574.3 253.0 1575.5 252.2 1576.8 251.4 1578.1 250.6 1579.3 249.7 1580.6 248.9 1581.9 248.1 1583.1 247.3 1584.4 246.5 1585.6 245.6 1586.8 244.7 1588.0 243.8 1589.2 242.9 1590.4 242.0 1591.5 241.0 1592.7 240.1 1593.8 239.1 1595.0 238.1 1596.1 237.1 1597.3 236.2 1598.4 235.2 1599.6 234.2 1600.7 233.3 1601.9 232.3 1603.0 231.3 1604.2 230.4 1605.3 229.4 1606.5 228.4 1607.6 227.5 1608.8 226.5 1609.9 225.5 1611.0 224.5 1612.2 223.5 1613.3 222.5 1614.4 221.5 1615.5 220.6 1616.7 219.6 1617.8 218.6 1619.0 217.6 1620.1 216.7 1621.3 215.7 1622.4 214.8 1623.6 213.8 1624.8 212.9 1626.0 212.0 1627.2 211.1 1628.4 210.2 1629.6 209.3 1630.8 208.4 1632.0 207.5 1633.2 206.6 1634.4 205.7 1635.6 204.8 1636.9 204.0 1638.1 203.1 1639.3 202.2 1640.5 201.3 1641.7 200.4 1642.9 199.6 1644.2 198.7 1645.4 197.8 1646.6 196.9 1647.9 196.1 1649.1 195.2 1650.3 194.4 1651.6 193.6 1652.8 192.7 1654.1 191.9 1655.4 191.1 1656.6 190.3 1657.9 189.5 1659.2 188.7 1660.4 187.9 1661.7 187.1 1663.0 186.4 1664.3 185.6 1665.6 184.8 1666.9 184.0 1668.2 183.3 1669.5 182.5 1670.7 181.7 1672.0 181.0 1673.3 180.2 1674.6 179.4 1675.9 178.6 1677.2 177.9 1678.5 177.1 1679.8 176.3 1681.1 175.6 1682.4 174.9 1683.7 174.1 1685.0 173.4 1686.4 172.7 1687.7 172.0 1689.0 171.3 1690.4 170.7 1691.7 170.0 1693.0 169.3 1694.4 168.6 1695.8 168.0 1697.1 167.3 1698.5 166.7 1699.9 166.1 1701.2 165.5 1702.6 164.9 1704.0 164.3 1705.4 163.8 1706.8 163.2 1708.2 162.7 1709.6 162.2 1711.0 161.8 1712.4 161.3 1713.9 160.8 1715.3 160.4 1716.8 160.0 1718.2 159.5 1719.7 159.1 1721.1 158.7 1722.6 158.3 1724.0 158.0 1725.5 157.6 1726.9 157.2 1728.4 156.9 1729.8 156.6 1731.3 156.2 1732.8 155.9 1734.3 155.6 1735.7 155.3 1737.2 155.0 1738.7 154.7 1740.2 154.4 1741.6 154.2 1743.1 153.9 1744.6 153.7 1746.1 153.4 1747.6 153.2 1749.0 153.0 1750.5 152.7 1752.0 152.5 1753.5 152.3 1755.0 152.1 1756.5 151.9 1758.0 151.7 1759.5 151.6 1761.0 151.5 1762.5 151.3 1764.0 151.2 1765.5 151.1 1766.9 151.0 1768.4 150.9 1769.9 150.8 1771.4 150.7 1772.9 150.6 1774.4 150.6 1776.0 150.5 1777.5 150.4 1779.0 150.4 1780.5 150.4 1782.0 150.4 1783.5 150.4 1785.0 150.4 1786.5 150.4 1788.0 150.4 1789.5 150.4 1791.0 150.4 1792.5 150.4 1794.0 150.4 1795.5 150.4 1797.0 150.4 1798.5 150.4 1800.0 150.4 1801.5 150.4 1803.0 150.5 1804.5 150.5 1806.0 150.5 1807.5 150.5 1809.0 150.5 1810.5 150.5 1812.0 150.6 1813.5 150.6 1815.0 150.6 1816.5 150.7 1818.0 150.7 1819.5 150.7 1821.0 150.8 1822.5 150.8 1824.0 150.9 1825.5 150.9 1827.0 151.0 1828.5 151.0"/>
<path stroke="#dd00dd" d="M84.0 62.5L115.0 62.5 116.5 62.7 118.0 63.0 119.5 63.2 121.0 63.6 122.4 63.9 123.9 64.3 125.3 64.8 126.7 65.3 128.1 65.8 129.5 66.4 130.9 67.0 132.3 67.7 133.7 68.4 135.0 69.1 136.4 69.9 137.7 70.7 139.0 71.4 140.3 72.2 141.5 73.0 142.8 73.8 144.0 74.7 145.2 75.5 146.4 76.4 147.6 77.4 148.7 78.3 149.9 79.3 151.0 80.4 152.2 81.4 153.3 82.5 154.4 83.5 155.5 84.6 156.5 85.7 157.6 86.8 158.6 87.9 159.6 89.0 160.6 90.1 161.6 91.2 162.6 92.4 163.6 93.5 164.5 94.7 165.4 95.9 166.4 97.1 167.3 98.3 168.2 99.5 169.1 100.8 169.9 102.0 170.8 103.3 171.6 104.5 172.5 105.8 173.3 107.1 174.1 108.4 174.9 109.6 175.7 110.9 176.5 112.2 177.2 113.5 178.0 114.8 178.8 116.1 179.5 117.4 180.2 118.8 181.0 120.1 181.7 121.4 182.4 122.8 183.1 124.1 183.7 125.5 184.4 126.8 185.1 128.2 185.7 129.6 186.3 130.9 186.9 132.3 187.5 133.7 188.1 135.1 188.7 136.5 189.2 137.9 189.8 139.3 190.3 140.7 190.9 142.1 191.4 143.5 191.9 145.0 192.4 146.4 192.9 147.8 193.4 149.3 193.9 150.7 194.4 152.1 194.8 153.6 195.3 155.0 195.7 156.4 196.2 157.9 196.6 159.3 197.0 160.8 197.5 162.2 197.9 163.7 198.3 165.1 198.7 166.6 199.1 168.0 199.5 169.5 199.9 171.0 200.3 172.4 200.7 173.9 201.0 175.3 201.4 176.8 201.8 178.3 202.2 179.7 202.6 181.2 203.0 182.6 203.4 184.1 203.8 185.5 204.2 187.0 204.6 188.5 205.0 189.9 205.4 191.4 205.8 192.8 206.2 194.3 206.6 195.7 207.0 197.2 207.4 198.7 207.8 200.1 208.2 201.6 208.5 203.0 208.9 204.5 209.3 206.0 209.7 207.4 210.1 208.9 210.4 210.4 210.8 211.8 211.2 213.3 211.5 214.8 211.9 216.2 212.2 217.7 212.6 219.2 212.9 220.6 213.3 222.1 213.6 223.6 214.0 225.0 214.3 226.5 214.7 228.0 215.0 229.4 215.4 230.9 215.7 232.4 216.1 233.9 216.4 235.3 216.7 236.8 217.1 238.3 217.4 239.7 217.8 241.2 218.1 242.7 218.4 244.2 218.8 245.6 219.1 247.1 219.5 248.6 219.8 250.1 220.1 251.5 220.5 253.0 220.8 254.5 221.1 255.9 221.5 257.4 221.8 258.9 222.1 260.4 222.5 261.8 222.8 263.3 223.1 264.8 223.5 266.3 223.8 267.7 224.1 269.2 224.4 270.7 224.8 272.2 225.1 273.6 225.4 275.1 225.7 276.6 226.0 278.1 226.4 279.5 226.7 281.0 227.0 282.5 227.3 284.0 227.7 285.4 228.0 286.9 228.3 288.4 228.7 289.9 229.0 291.3 229.4 292.8 229.7 294.3 230.1 295.7 230.4 297.2 230.8 298.7 231.1 300.1 231.5 301.6 231.9 303.1 232.3 304.5 232.6 306.0 233.0 307.5 233.4 308.9 233.8 310.4 234.2 311.8 234.6 313.3 235.0 314.8 235.4 316.2 235.8 317.7 236.2 319.1 236.6 320.6 237.0 322.0 237.5 323.5 237.9 324.9 238.3 326.4 238.8 327.8 239.2 329.2 239.7 330.7 240.1 332.1 240.6 333.6 241.1 335.0 241.5 336.4 242.0 337.9 242.5 339.3 243.0 340.7 243.5 342.1 244.0 343.6 244.5 345.0 247.5 345.0 248.1 343.6 248.8 342.3 249.4 340.9 250.0 339.5 250.6 338.2 251.2 336.8 251.9 335.4 252.5 334.1 253.1 332.7 253.7 331.3 254.2 329.9 254.8 328.5 255.4 327.1 256.0 325.8 256.5 324.4 257.1 323.0 257.6 321.6 258.2 320.2 258.7 318.8 259.2 317.4 259.8 315.9 260.3 314.5 260.9 313.1 261.4 311.7 261.9 310.3 262.5 308.9 263.1 307.5 263.6 306.2 264.2 304.8 264.8 303.4 265.3 302.0 265.9 300.6 266.5 299.2 267.1 297.8 267.7 296.5 268.3 295.1 268.9 293.7 269.5 292.3 270.1 290.9 270.7 289.5 271.4 288.2 272.0 286.8 272.6 285.5 273.3 284.1 274.0 282.8 274.7 281.5 275.4 280.1 276.1 278.8 276.8 277.5 277.6 276.2 278.4 274.9 279.2 273.7 280.0 272.4 280.8 271.1 281.7 269.9 282.5 268.6 283.4 267.4 284.3 266.2 285.2 265.1 286.2 263.9 287.1 262.8 288.1 261.7 289.2 260.6 290.2 259.5 291.3 258.4 292.4 257.3 293.5 256.3 294.6 255.3 295.7 254.2 296.8 253.2 297.9 252.2 299.0 251.2 300.2 250.3 301.4 249.4 302.6 248.5 303.8 247.5 305.0 246.6 306.2 245.7 307.4 244.8 308.5 243.8 309.7 242.9 310.8 241.9 311.9 240.9 313.0 239.8 314.0 238.8 315.1 237.7 316.2 236.7 317.2 235.6 318.3 234.5 319.3 233.4 320.3 232.3 321.4 231.2 322.4 230.1 323.4 229.0 324.4 227.9 325.4 226.8 326.4 225.7 327.4 224.6 328.4 223.4 329.4 222.3 330.4 221.2 331.4 220.0 332.4 218.9 333.4 217.8 334.3 216.6 335.3 215.5 336.3 214.3 337.3 213.2 338.2 212.0 339.2 210.9 340.2 209.7 341.1 208.6 342.1 207.4 343.0 206.2 344.0 205.1 344.9 203.9 345.9 202.8 346.9 201.6 347.8 200.4 348.8 199.3 349.8 198.2 350.7 197.0 351.7 195.9 352.7 194.8 353.7 193.7 354.8 192.6 355.8 191.5 356.8 190.4 357.9 189.3 358.9 188.2 360.0 187.2 361.0 186.1 362.1 185.1 363.2 184.0 364.3 183.0 365.4 181.9 366.5 180.9 367.5 179.9 368.7 178.8 369.8 177.8 370.9 176.8 372.0 175.8 373.1 174.8 374.2 173.8 375.3 172.8 376.5 171.8 377.6 170.8 378.7 169.8 379.9 168.8 381.0 167.8 382.2 166.8 383.3 165.9 384.5 164.9 385.7 164.0 386.9 163.1 388.1 162.2 389.3 161.4 390.5 160.6 391.8 159.7 393.1 158.9 394.3 158.2 395.6 157.4 396.9 156.6 398.2 155.9 399.6 155.1 400.9 154.4 402.2 153.7 403.6 153.0 404.9 152.3 406.3 151.7 407.7 151.1 409.0 150.5 410.4 149.9 411.8 149.3 413.2 148.7 414.5 148.2 415.9 147.6 417.4 147.1 418.8 146.6 420.2 146.1 421.6 145.6 423.0 145.1 424.5 144.6 425.9 144.2 427.4 143.7 428.8 143.3 430.2 142.9 431.7 142.4 433.1 142.1 434.6 141.7 436.0 141.3 437.5 140.9 438.9 140.6 440.4 140.2 441.9 139.9 443.3 139.6 444.8 139.3 446.3 139.0 447.8 138.7 449.2 138.4 450.7 138.1 452.2 137.8 453.7 137.5 455.1 137.2 456.6 137.0 458.1 136.7 459.6 136.4 461.0 136.1 462.5 135.8 464.0 135.6 465.5 135.3 467.0 135.0 468.4 134.7 469.9 134.5 471.4 134.2 472.9 133.9 474.4 133.7 475.8 133.4 477.3 133.2 478.8 132.9 480.3 132.7 481.8 132.5 483.2 132.2 484.7 132.0 486.2 131.8 487.7 131.5 489.2 131.3 490.7 131.1 492.2 130.8 493.6 130.6 495.1 130.4 496.6 130.1 498.1 129.9 499.6 129.7 501.1 129.5 502.6 129.3 504.1 129.1 505.6 129.0 507.1 128.8 508.6 128.7 510.0 128.6 511.5 128.5 513.0 128.5 514.5 128.4 516.0 128.3 517.5 128.3 519.1 128.2 520.6 128.2 522.1 128.1 523.6 128.1 525.1 128.1 526.6 128.1 528.1 128.1 529.6 128.1 531.1 128.2 532.6 128.2 534.1 128.3 535.6 128.3 537.1 128.4 538.6 128.5 540.1 128.6 541.6 128.6 543.1 128.7 544.6 128.8 546.1 128.9 547.6 129.0 549.1 129.1 550.6 129.2 552.1 129.3 553.6 129.4 555.1 129.5 556.6 129.6 558.1 129.7 559.6 129.8 561.1 129.9 562.6 130.0 564.1 130.1 565.6 130.2 567.1 130.3 568.6 130.5 570.1 130.6 571.6 130.7 573.1 130.9 574.6 131.0 576.1 131.1 577.6 131.3 579.1 131.4 580.5 131.5 582.0 131.7 583.5 131.8 585.0 131.9 586.5 132.1 588.0 132.2 589.5 132.3 591.0 132.4 592.5 132.5 594.0 132.5 595.5 132.6 597.0 132.6 598.5 132.6 600.0 132.7 601.5 132.7 603.0 132.7 604.5 132.7 606.0 132.6 607.5 132.6 609.0 132.6 610.5 132.6 612.0 132.6 613.6 132.6 615.1 132.6 616.6 132.6 618.1 132.6 619.6 132.6 621.1 132.6 622.6 132.6 624.1 132.6 625.6 132.5 627.1 132.5 628.6 132.5 630.1 132.5 631.6 132.5 633.1 132.5 634.6 132.5 636.1 132.4 637.6 132.4 639.1 132.4 640.6 132.4 642.1 132.4 643.6 132.3 645.1 132.3 646.6 132.3 648.1 132.3 649.6 132.3 651.1 132.2 652.6 132.2 654.1 132.1 655.6 132.1 657.1 132.0 658.6 131.9 660.1 131.8 661.6 131.7 663.1 131.6 664.6 131.5 666.1 131.4 667.6 131.3 669.1 131.1 670.6 131.0 672.1 130.9 673.6 130.7 675.1 130.5 676.6 130.4 678.1 130.2 679.6 130.1 681.1 129.9 682.5 129.7 684.0 129.6 685.5 129.4 687.0 129.2 688.5 129.0 690.0 128.9 691.5 128.7 693.0 128.5 694.5 128.4 696.0 128.2 697.5 128.0 699.0 127.9 700.5 127.7 702.0 127.6 703.5 127.4 705.0 127.3 706.5 127.1 708.0 126.9 709.4 126.8 710.9 126.6 712.4 126.4 713.9 126.2 715.4 126.1 716.9 125.9 718.4 125.7 719.9 125.5 721.4 125.3 722.9 125.1 724.4 125.0 725.9 124.8 727.3 124.6 728.8 124.4 730.3 124.2 731.8 124.0 733.3 123.9 734.8 123.7 736.3 123.5 737.8 123.3 739.3 123.1 740.8 123.0 742.3 122.8 743.8 122.6 745.2 122.4 746.7 122.3 748.2 122.1 749.7 121.9 751.2 121.8 752.7 121.6 754.2 121.4 755.7 121.3 757.2 121.1 758.7 121.0 760.2 120.8 761.7 120.7 763.2 120.5 764.7 120.3 766.2 120.2 767.6 120.0 769.1 119.9 770.6 119.7 772.1 119.6 773.6 119.4 775.1 119.3 776.6 119.1 778.1 119.0 779.6 118.8 781.1 118.7 782.6 118.5 784.1 118.4 785.6 118.2 787.1 118.1 788.6 118.0 790.1 117.8 791.6 117.7 793.1 117.5 794.6 117.4 796.1 117.2 797.5 117.1 799.0 116.9 800.5 116.8 802.0 116.6 803.5 116.5 805.0 116.3 806.5 116.2 808.0 116.0 809.5 115.9 811.0 115.7 812.5 115.6 814.0 115.4 815.5 115.2 817.0 115.1 818.5 114.9 820.0 114.8 821.5 114.6 823.0 114.5 824.5 114.3 826.0 114.2 827.4 114.0 828.9 113.9 830.4 113.7 831.9 113.6 833.4 113.4 834.9 113.3 836.4 113.2 837.9 113.0 839.4 112.9 840.9 112.8 842.4 112.6 843.9 112.5 845.4 112.4 846.9 112.3 848.4 112.2 849.9 112.1 851.4 111.9 852.9 111.8 854.4 111.7 855.9 111.6 857.4 111.5 858.9 111.4 860.4 111.3 861.9 111.1 863.4 111.0 864.9 110.9 866.4 110.8 867.9 110.7 869.4 110.6 870.9 110.4 872.4 110.3 873.9 110.2 875.4 110.1 876.9 110.0 878.4 109.9 879.9 109.8 881.4 109.7 882.9 109.7 884.4 109.6 885.9 109.5 887.4 109.4 888.9 109.4 890.4 109.3 891.9 109.3 893.4 109.2 894.9 109.2 896.4 109.2 897.9 109.2 899.4 109.2 900.9 109.2 902.4 109.2 903.9 109.2 905.4 109.2 906.9 109.2 908.4 109.2 909.9 109.2 911.4 109.2 912.9 109.2 914.4 109.2 915.9 109.2 917.4 109.2 918.9 109.2 920.4 109.3 921.9 109.3 923.4 109.3 924.9 109.3 926.4 109.3 927.9 109.4 929.4 109.4 930.9 109.4 932.4 109.4 933.9 109.4 935.4 109.5 936.9 109.5 938.4 109.5 939.9 109.5 941.4 109.6 943.0 109.6 944.5 109.6 946.0 109.7 947.5 109.7 949.0 109.7 950.5 109.7 952.0 109.8 953.5 109.8 955.0 109.9 956.5 109.9 958.0 110.0 959.5 110.1 961.0 110.2 962.5 110.3 964.0 110.4 965.5 110.5 967.0 110.6 968.5 110.7 970.0 110.8 971.5 110.9 973.0 111.0 974.5 111.1 976.0 111.2 977.4 111.3 978.9 111.5 980.4 111.6 981.9 111.7 983.4 111.8 984.9 111.9 986.4 112.0 987.9 112.2 989.4 112.3 990.9 112.4 992.4 112.5 993.9 112.6 995.4 112.7 996.9 112.8 998.4 113.0 999.9 113.1 1001.4 113.2 1002.9 113.4 1004.4 113.5 1005.9 113.6 1007.4 113.8 1008.9 113.9 1010.4 114.0 1011.9 114.2 1013.4 114.3 1014.9 114.5 1016.4 114.6 1017.9 114.7 1019.4 114.9 1020.9 115.0 1022.4 115.1 1023.9 115.2 1025.4 115.4 1026.9 115.5 1028.4 115.6 1029.9 115.7 1031.4 115.8 1032.9 115.9 1034.4 116.0 1035.9 116.1 1037.4 116.2 1038.9 116.3 1040.4 116.3 1041.9 116.4 1043.4 116.5 1044.9 116.6 1046.4 116.6 1047.9 116.7 1049.4 116.8 1050.9 116.9 1052.4 116.9 1053.9 117.0 1055.4 117.1 1056.9 117.1 1058.4 117.2 1059.9 117.3 1061.4 117.3 1062.9 117.4 1064.4 117.5 1065.9 117.5 1067.4 117.6 1068.9 117.6 1070.4 117.7 1071.9 117.7 1073.4 117.8 1074.9 117.8 1076.4 117.9 1077.9 117.9 1079.4 117.9 1080.9 118.0 1082.4 118.0 1083.9 118.0 1085.4 118.0 1086.9 118.0 1088.4 118.0 1089.9 118.0 1091.4 118.0 1092.9 118.0 1094.4 118.1 1095.9 118.1 1097.4 118.1 1098.9 118.1 1100.4 118.1 1101.9 118.1 1103.4 118.1 1104.9 118.1 1106.4 118.1 1107.9 118.1 1109.4 118.1 1110.9 118.1 1112.4 118.1 1113.9 118.1 1115.4 118.1 1116.9 118.1 1118.4 118.1 1119.9 118.1 1121.4 118.1 1123.0 118.1 1124.5 118.1 1126.0 118.1 1127.5 118.1 1129.0 118.1 1130.5 118.1 1132.0 118.1 1133.5 118.1 1135.0 118.1 1136.5 118.1 1138.0 118.1 1139.5 118.1 1141.0 118.1 1142.5 118.1 1144.0 118.1 1145.5 118.0 1147.0 118.0 1148.5 118.0 1150.0 118.0 1151.5 117.9 1153.0 117.9 1154.5 117.9 1156.0 117.8 1157.5 117.8 1159.0 117.8 1160.5 117.7 1162.0 117.7 1163.5 117.6 1165.0 117.6 1166.5 117.5 1168.0 117.5 1169.5 117.5 1171.0 117.4 1172.5 117.4 1174.0 117.3 1175.5 117.3 1177.0 117.3 1178.5 117.2 1180.0 117.2 1181.5 117.2 1183.0 117.2 1184.5 117.1 1186.0 117.1 1187.5 117.1 1189.0 117.1 1190.5 117.1 1192.0 117.1 1193.6 117.1 1195.1 117.1 1196.6 117.1 1198.1 117.1 1199.6 117.2 1201.1 117.2 1202.6 117.2 1204.1 117.2 1205.6 117.2 1207.1 117.3 1208.6 117.3 1210.1 117.3 1211.6 117.3 1213.1 117.4 1214.6 117.4 1216.1 117.4 1217.6 117.5 1219.1 117.5 1220.6 117.5 1222.1 117.6 1223.6 117.6 1225.1 117.6 1226.6 117.7 1228.1 117.7 1229.6 117.8 1231.1 117.8 1232.6 117.8 1234.1 117.9 1235.6 117.9 1237.1 118.0 1238.6 118.0 1240.1 118.0 1241.6 118.1 1243.1 118.1 1244.6 118.2 1246.1 118.2 1247.6 118.3 1249.1 118.3 1250.6 118.4 1252.1 118.4 1253.6 118.5 1255.1 118.5 1256.6 118.6 1258.1 118.6 1259.6 118.7 1261.1 118.8 1262.6 118.8 1264.1 118.9 1265.6 119.0 1267.1 119.0 1268.6 119.1 1270.1 119.2 1271.6 119.3 1273.1 119.3 1274.6 119.4 1276.1 119.5 1277.6 119.6 1279.1 119.7 1280.6 119.7 1282.1 119.8 1283.6 119.9 1285.1 120.0 1286.6 120.1 1288.1 120.2 1289.6 120.3 1291.1 120.4 1292.6 120.5 1294.1 120.6 1295.6 120.7 1297.1 120.8 1298.6 121.0 1300.1 121.1 1301.6 121.2 1303.1 121.4 1304.6 121.5 1306.1 121.7 1307.6 121.8 1309.1 122.0 1310.6 122.1 1312.1 122.3 1313.6 122.4 1315.1 122.5 1316.6 122.6 1318.1 122.8 1319.6 122.9 1321.1 123.0 1322.6 123.1 1324.1 123.2 1325.6 123.3 1327.1 123.4 1328.6 123.5 1330.1 123.7 1331.6 123.8 1333.1 123.9 1334.6 124.0 1336.1 124.2 1337.5 124.3 1339.0 124.4 1340.5 124.6 1342.0 124.8 1343.5 124.9 1345.0 125.1 1346.5 125.3 1348.0 125.5 1349.5 125.7 1351.0 125.9 1352.5 126.1 1354.0 126.3 1355.4 126.6 1356.9 126.8 1358.4 127.0 1359.9 127.3 1361.4 127.6 1362.8 127.8 1364.3 128.1 1365.8 128.4 1367.3 128.7 1368.7 129.0 1370.2 129.4 1371.7 129.7 1373.1 130.1 1374.6 130.5 1376.1 130.9 1377.5 131.3 1378.9 131.7 1380.4 132.2 1381.8 132.7 1383.2 133.2 1384.6 133.7 1385.9 134.3 1387.3 134.9 1388.6 135.6 1390.0 136.3 1391.3 137.0 1392.6 137.8 1393.9 138.6 1395.2 139.3 1396.5 140.1 1397.8 140.9 1399.0 141.7 1400.3 142.5 1401.5 143.4 1402.7 144.3 1404.0 145.2 1405.2 146.1 1406.4 147.0 1407.5 147.9 1408.7 148.9 1409.9 149.8 1411.0 150.8 1412.2 151.8 1413.3 152.8 1414.4 153.7 1415.5 154.8 1416.6 155.8 1417.7 156.8 1418.8 157.9 1419.9 158.9 1420.9 160.0 1422.0 161.1 1423.0 162.2 1424.1 163.3 1425.1 164.4 1426.1 165.5 1427.1 166.6 1428.1 167.7 1429.1 168.8 1430.1 170.0 1431.0 171.1 1432.0 172.3 1433.0 173.4 1433.9 174.6 1434.8 175.8 1435.8 177.0 1436.7 178.2 1437.6 179.4 1438.5 180.6 1439.3 181.8 1440.2 183.0 1441.1 184.3 1441.9 185.5 1442.8 186.7 1443.6 188.0 1444.4 189.2 1445.2 190.5 1446.0 191.8 1446.8 193.1 1447.6 194.3 1448.4 195.6 1449.2 196.9 1449.9 198.2 1450.7 199.5 1451.4 200.8 1452.2 202.1 1452.9 203.4 1453.7 204.7 1454.4 206.0 1455.1 207.4 1455.9 208.7 1456.6 210.0 1457.3 211.3 1458.0 212.7 1458.7 214.0 1459.4 215.4 1460.0 216.7 1460.7 218.1 1461.3 219.4 1461.9 220.8 1462.4 222.2 1463.0 223.6 1463.5 225.0 1464.0 226.4 1464.5 227.8 1464.9 229.3 1465.4 230.7 1465.9 232.1 1466.3 233.6 1466.8 235.0 1467.2 236.4 1467.7 237.9 1468.1 239.3 1468.5 240.7 1469.0 242.2 1469.4 243.6 1469.8 245.1 1470.3 246.5 1470.7 247.9 1471.1 249.4 1471.5 250.8 1471.9 252.3 1472.3 253.7 1472.7 255.2 1473.1 256.6 1473.5 258.1 1473.9 259.5 1474.3 261.0 1474.6 262.4 1475.0 263.9 1475.4 265.3 1475.7 266.8 1476.1 268.3 1476.5 269.7 1476.8 271.2 1477.2 272.6 1477.5 274.1 1477.9 275.6 1478.3 277.0 1478.6 278.5 1479.0 279.9 1479.4 281.4 1479.8 282.8 1480.1 284.3 1480.5 285.7 1480.9 287.2 1481.3 288.6 1481.7 290.1 1482.1 291.5 1482.4 293.0 1482.8 294.5 1483.2 295.9 1483.6 297.4 1484.0 298.8 1484.3 300.3 1484.7 301.7 1485.1 303.2 1485.4 304.6 1485.8 306.1 1486.1 307.6 1486.4 309.0 1486.8 310.5 1487.1 312.0 1487.4 313.4 1487.8 314.9 1488.1 316.4 1488.4 317.8 1488.7 319.3 1489.0 320.8 1489.4 322.2 1489.7 323.7 1490.0 325.2 1490.3 326.6 1490.6 328.1 1490.9 329.6 1491.2 331.1 1491.5 332.5 1491.8 334.0 1492.1 335.5 1492.4 337.0 1492.7 338.4 1492.9 339.9 1493.2 341.4 1493.5 342.9 1493.8 344.3 1494.1 345.8 1494.3 347.3 1494.6 348.8 1494.9 350.2 1495.1 351.7 1495.4 353.2 1495.6 354.7 1495.9 356.2 1496.1 357.6 1496.3 359.1 1496.6 360.6 1496.8 362.1 1497.0 363.6 1497.2 365.1 1497.4 366.6 1497.7 368.1 1497.9 369.5 1498.1 371.0 1498.3 372.5 1498.5 374.0 1498.7 375.5 1498.9 377.0 1499.2 378.5 1499.4 379.9 1499.6 381.4 1499.9 382.9 1500.1 384.4 1500.3 385.9 1500.6 387.4 1500.8 388.8 1501.1 390.3 1501.3 391.8 1501.5 393.3 1501.8 394.8 1502.0 396.3 1502.3 397.7 1502.5 399.2 1502.8 400.7 1503.0 402.2 1503.3 403.7 1503.5 405.2 1503.8 406.6 1504.0 408.1 1504.2 409.6 1504.5 411.1 1504.7 412.6 1505.0 414.0 1505.2 415.5 1505.5 417.0 1505.7 418.5 1506.0 420.0 1506.2 421.5 1506.5 422.9 1506.7 424.4 1506.9 425.9 1507.2 427.4 1507.4 428.9 1507.7 430.3 1507.9 431.8 1508.2 433.3 1508.4 434.8 1508.6 436.3 1508.9 437.8 1509.1 439.3 1509.3 440.7 1509.5 442.2 1509.8 443.7 1510.0 445.2 1510.2 446.7 1510.4 448.2 1510.6 449.7 1510.9 451.1 1511.1 452.6 1511.3 454.1 1511.5 455.6 1511.7 457.1 1511.9 458.6 1512.1 460.1 1512.3 461.6 1512.5 463.0 1512.7 464.5 1512.9 466.0 1513.1 467.5 1513.3 469.0 1515.9 469.0 1516.0 467.5 1516.0 466.0 1516.1 464.5 1516.2 463.0 1516.3 461.5 1516.4 460.0 1516.5 458.5 1516.6 457.0 1516.7 455.5 1516.8 454.0 1516.9 452.5 1517.0 451.0 1517.2 449.4 1517.3 447.9 1517.4 446.4 1517.5 445.0 1517.7 443.5 1517.8 442.0 1518.0 440.5 1518.1 439.0 1518.3 437.5 1518.4 436.0 1518.6 434.5 1518.8 433.0 1519.0 431.5 1519.2 430.0 1519.4 428.5 1519.6 427.0 1519.8 425.5 1520.0 424.0 1520.2 422.5 1520.5 421.0 1520.7 419.5 1520.9 418.0 1521.1 416.6 1521.3 415.1 1521.6 413.6 1521.8 412.1 1522.0 410.6 1522.3 409.1 1522.5 407.6 1522.7 406.1 1523.0 404.7 1523.3 403.2 1523.5 401.7 1523.8 400.2 1524.1 398.7 1524.3 397.2 1524.6 395.8 1524.8 394.3 1525.1 392.8 1525.4 391.3 1525.6 389.8 1525.9 388.3 1526.1 386.8 1526.3 385.4 1526.6 383.9 1526.8 382.4 1527.1 380.9 1527.3 379.4 1527.5 377.9 1527.8 376.4 1528.0 374.9 1528.3 373.5 1528.5 372.0 1528.7 370.5 1529.0 369.0 1529.2 367.5 1529.5 366.0 1529.7 364.5 1529.9 363.0 1530.2 361.6 1530.4 360.1 1530.7 358.6 1530.9 357.1 1531.1 355.6 1531.4 354.1 1531.6 352.6 1531.8 351.1 1532.1 349.7 1532.3 348.2 1532.6 346.7 1532.8 345.2 1533.1 343.7 1533.3 342.2 1533.6 340.7 1533.8 339.3 1534.1 337.8 1534.4 336.3 1534.6 334.8 1534.9 333.3 1535.2 331.9 1535.5 330.4 1535.8 328.9 1536.1 327.4 1536.4 325.9 1536.7 324.5 1537.0 323.0 1537.3 321.5 1537.6 320.0 1538.0 318.6 1538.3 317.1 1538.6 315.6 1539.0 314.2 1539.4 312.7 1539.7 311.3 1540.1 309.8 1540.5 308.4 1540.9 306.9 1541.3 305.5 1541.8 304.0 1542.2 302.6 1542.6 301.1 1543.1 299.7 1543.6 298.2 1544.0 296.8 1544.5 295.4 1545.0 293.9 1545.5 292.5 1546.0 291.1 1546.5 289.7 1547.0 288.3 1547.5 286.8 1548.0 285.4 1548.5 284.0 1549.1 282.6 1549.7 281.2 1550.2 279.8 1550.8 278.5 1551.4 277.1 1552.0 275.7 1552.6 274.3 1553.2 272.9 1553.8 271.5 1554.5 270.2 1555.1 268.8 1555.7 267.4 1556.3 266.1 1557.0 264.7 1557.6 263.3 1558.2 262.0 1558.9 260.6 1559.5 259.2 1560.2 257.9 1560.8 256.5 1561.5 255.2 1562.2 253.8 1562.8 252.5 1563.5 251.1 1564.2 249.8 1564.9 248.4 1565.6 247.1 1566.3 245.8 1567.0 244.4 1567.7 243.1 1568.4 241.7 1569.1 240.4 1569.8 239.1 1570.5 237.8 1571.2 236.4 1571.9 235.1 1572.7 233.8 1573.5 232.5 1574.3 231.3 1575.1 230.0 1575.9 228.7 1576.7 227.5 1577.6 226.2 1578.5 225.0 1579.3 223.8 1580.2 222.5 1581.1 221.3 1582.0 220.1 1582.9 218.9 1583.9 217.8 1584.8 216.6 1585.8 215.5 1586.8 214.3 1587.8 213.2 1588.8 212.0 1589.8 210.9 1590.8 209.8 1591.8 208.6 1592.7 207.5 1593.7 206.3 1594.7 205.2 1595.7 204.0 1596.6 202.9 1597.6 201.7 1598.5 200.5 1599.5 199.4 1600.4 198.2 1601.4 197.0 1602.3 195.9 1603.3 194.7 1604.3 193.6 1605.2 192.4 1606.2 191.3 1607.2 190.1 1608.2 189.0 1609.2 187.9 1610.2 186.7 1611.2 185.6 1612.2 184.5 1613.2 183.4 1614.2 182.3 1615.3 181.1 1616.3 180.0 1617.3 178.9 1618.4 177.9 1619.4 176.8 1620.5 175.7 1621.5 174.6 1622.6 173.6 1623.7 172.5 1624.8 171.5 1625.9 170.5 1627.0 169.4 1628.1 168.4 1629.2 167.4 1630.3 166.4 1631.5 165.4 1632.6 164.4 1633.8 163.4 1634.9 162.5 1636.1 161.5 1637.3 160.6 1638.4 159.7 1639.6 158.8 1640.8 157.9 1642.1 157.0 1643.3 156.1 1644.5 155.2 1645.8 154.4 1647.0 153.5 1648.3 152.7 1649.5 151.8 1650.8 151.0 1652.0 150.2 1653.3 149.3 1654.5 148.5 1655.8 147.7 1657.0 146.8 1658.3 146.0 1659.6 145.2 1660.9 144.4 1662.1 143.6 1663.4 142.8 1664.7 142.0 1666.0 141.3 1667.3 140.5 1668.6 139.8 1669.9 139.0 1671.3 138.3 1672.6 137.6 1673.9 136.9 1675.3 136.2 1676.6 135.6 1678.0 134.9 1679.3 134.2 1680.7 133.6 1682.1 133.0 1683.4 132.3 1684.8 131.7 1686.2 131.1 1687.6 130.6 1689.0 130.0 1690.4 129.4 1691.8 128.9 1693.2 128.3 1694.6 127.7 1696.0 127.2 1697.4 126.7 1698.8 126.2 1700.2 125.7 1701.7 125.2 1703.1 124.7 1704.5 124.2 1706.0 123.8 1707.4 123.4 1708.8 122.9 1710.3 122.5 1711.7 122.1 1713.2 121.7 1714.7 121.3 1716.1 121.0 1717.6 120.6 1719.1 120.2 1720.5 119.9 1722.0 119.6 1723.5 119.3 1724.9 119.0 1726.4 118.7 1727.9 118.4 1729.4 118.1 1730.9 117.9 1732.3 117.6 1733.8 117.3 1735.3 117.1 1736.8 116.9 1738.3 116.6 1739.8 116.4 1741.3 116.3 1742.8 116.1 1744.3 116.0 1745.8 115.8 1747.3 115.7 1748.8 115.6 1750.3 115.4 1751.8 115.3 1753.3 115.2 1754.8 115.1 1756.3 115.0 1757.8 114.9 1759.3 114.8 1760.8 114.7 1762.3 114.6 1763.8 114.6 1765.3 114.5 1766.8 114.5 1768.4 114.5 1769.9 114.5 1771.4 114.5 1772.9 114.5 1774.4 114.5 1775.9 114.5 1777.4 114.5 1778.9 114.5 1780.4 114.5 1781.9 114.4 1783.4 114.4 1784.9 114.4 1786.4 114.4 1787.9 114.4 1789.4 114.4 1791.0 114.4 1792.5 114.4 1794.0 114.4 1795.5 114.4 1797.0 114.5 1798.5 114.5 1800.0 114.6 1801.5 114.6 1803.0 114.7 1804.5 114.8 1806.0 114.9 1807.5 115.0 1809.0 115.1 1810.5 115.2 1812.0 115.3 1813.5 115.4 1815.0 115.5 1816.5 115.7 1818.0 115.8 1819.5 115.9 1821.0 116.1 1822.5 116.2 1824.0 116.4 1825.5 116.6 1827.0 116.8 1828.5 117.0"/>
<path stroke="#7f3f00" d="M86.0 62.6L87.6 62.6 89.2 62.6 90.8 62.6 92.4 62.6 94.0 62.6 95.6 62.6 97.2 62.6 98.8 62.6 100.4 62.6 102.0 62.7 103.6 62.7 105.2 62.8 106.8 62.8 108.4 62.9 110.0 63.0 111.1 64.0 112.3 65.0 113.4 66.0 114.5 67.0 115.6 68.0 116.8 69.0 117.9 70.0 119.0 71.1 120.1 72.1 121.2 73.1 122.2 74.2 123.3 75.2 124.4 76.2 125.5 77.3 126.5 78.4 127.6 79.4 128.6 80.5 129.7 81.6 130.7 82.7 131.7 83.8 132.8 84.9 133.8 86.0 134.8 87.1 135.8 88.2 136.8 89.3 137.9 90.4 138.9 91.5 139.9 92.6 141.0 93.7 142.0 94.8 143.1 95.9 144.2 96.9 145.2 98.0 146.3 99.1 147.3 100.2 148.4 101.3 149.4 102.3 150.5 103.4 151.6 104.5 152.6 105.5 153.7 106.6 154.8 107.6 155.9 108.7 157.0 109.7 158.2 110.7 159.3 111.6 160.4 112.6 161.6 113.5 162.7 114.5 163.9 115.4 165.1 116.4 166.3 117.3 167.5 118.2 168.7 119.1 169.9 120.0 171.1 120.9 172.4 121.8 173.6 122.7 174.9 123.6 176.1 124.4 177.4 125.2 178.6 126.1 179.9 126.9 181.2 127.7 182.5 128.4 183.8 129.2 185.1 129.9 186.4 130.6 187.7 131.3 189.0 132.0 190.4 132.6 191.7 133.3 193.1 134.0 194.5 134.6 195.8 135.2 197.2 135.8 198.6 136.5 200.0 137.0 201.4 137.6 202.8 138.2 204.2 138.8 205.6 139.3 207.0 139.8 208.4 140.4 209.8 140.9 211.3 141.4 212.7 141.9 214.1 142.4 215.5 142.9 216.9 143.3 218.4 143.8 219.8 144.3 221.3 144.7 222.7 145.2 224.1 145.6 225.6 146.0 227.1 146.4 228.5 146.8 230.0 147.2 231.4 147.6 232.9 148.0 234.3 148.3 235.8 148.7 237.3 149.0 238.7 149.3 240.2 149.7 241.7 150.0 243.1 150.3 244.6 150.6 246.1 150.9 247.6 151.2 249.1 151.5 250.6 151.8 252.0 152.0 253.5 152.3 255.0 152.5 256.5 152.7 258.0 152.9 259.5 153.1 261.0 153.3 262.5 153.5 264.0 153.6 265.5 153.8 266.9 154.0 268.4 154.1 269.9 154.3 271.4 154.5 273.0 154.6 274.5 154.7 276.0 154.9 277.5 155.0 279.0 155.1 280.5 155.1 282.0 155.2 283.5 155.2 285.0 155.2 286.5 155.2 288.0 155.2 289.5 155.2 291.0 155.2 292.5 155.2 294.0 155.2 295.5 155.2 297.0 155.2 298.5 155.2 300.0 155.2 301.5 155.2 303.0 155.2 304.5 155.2 306.1 155.2 307.6 155.1 309.1 155.1 310.6 155.1 312.1 155.1 313.6 155.1 315.1 155.1 316.6 155.1 318.1 155.1 319.6 155.1 321.1 155.0 322.6 155.0 324.1 155.0 325.6 155.0 327.1 155.0 328.6 155.0 330.1 155.0 331.6 155.0 333.2 155.0 334.7 155.0 336.2 155.0 337.7 155.0 339.2 155.0 340.7 155.0 342.2 155.0 343.7 155.0 345.2 155.0 346.7 155.0 348.2 155.0 349.7 155.0 351.2 155.0 352.7 155.0 354.2 155.1 355.7 155.1 357.2 155.1 358.7 155.1 360.3 155.2 361.8 155.2 363.3 155.2 364.8 155.3 366.3 155.3 367.8 155.3 369.3 155.4 370.8 155.5 372.3 155.6 373.8 155.7 375.3 155.8 376.8 155.9 378.3 156.0 379.8 156.1 381.3 156.3 382.8 156.4 384.3 156.6 385.8 156.8 387.3 157.1 388.8 157.3 390.2 157.6 391.7 157.8 393.2 158.1 394.7 158.4 396.1 158.7 397.6 159.1 399.1 159.4 400.6 159.7 402.0 160.1 403.5 160.4 404.9 160.8 406.4 161.2 407.8 161.7 409.3 162.1 410.7 162.6 412.1 163.1 413.5 163.7 414.9 164.2 416.3 164.8 417.7 165.4 419.0 166.0 420.4 166.7 421.7 167.4 423.1 168.0 424.4 168.8 425.7 169.5 427.1 170.3 428.4 171.0 429.7 171.8 431.0 172.6 432.2 173.4 433.5 174.2 434.7 175.0 436.0 175.9 437.2 176.7 438.4 177.6 439.6 178.5 440.8 179.4 442.0 180.4 443.2 181.3 444.3 182.3 445.5 183.3 446.6 184.3 447.7 185.3 448.8 186.3 449.9 187.4 451.0 188.4 452.1 189.5 453.1 190.5 454.2 191.6 455.2 192.7 456.2 193.8 457.2 195.0 458.2 196.1 459.2 197.2 460.2 198.4 461.2 199.6 462.1 200.7 463.0 201.9 463.9 203.1 464.8 204.3 465.7 205.5 466.6 206.7 467.5 208.0 468.3 209.2 469.1 210.5 470.0 211.7 470.8 213.0 471.6 214.3 472.3 215.6 473.1 216.9 473.9 218.2 474.7 219.5 475.4 220.8 476.2 222.1 476.9 223.4 477.7 224.7 478.4 226.0 479.1 227.4 479.8 228.7 480.5 230.0 481.2 231.4 481.8 232.7 482.5 234.1 483.1 235.4 483.8 236.8 484.4 238.1 485.1 239.5 485.7 240.9 486.3 242.3 486.9 243.7 487.5 245.0 488.1 246.4 488.6 247.8 489.2 249.2 489.7 250.6 490.2 252.0 490.8 253.4 491.3 254.9 491.8 256.3 492.3 257.7 492.8 259.1 493.2 260.6 493.7 262.0 494.2 263.4 494.6 264.9 495.1 266.3 495.5 267.8 495.9 269.2 496.4 270.6 496.8 272.1 497.1 273.5 497.5 275.0 497.9 276.5 498.3 277.9 498.6 279.4 499.0 280.8 499.3 282.3 499.6 283.8 500.0 285.2 500.3 286.7 500.6 288.2 500.9 289.7 501.2 291.1 501.5 292.6 501.8 294.1 502.1 295.6 502.4 297.1 502.6 298.5 502.9 300.0 503.2 301.5 503.4 303.0 503.7 304.5 504.0 305.9 504.2 307.4 504.5 308.9 504.7 310.4 504.9 311.9 505.2 313.4 505.4 314.9 505.7 316.3 505.9 317.8 506.1 319.3 506.3 320.8 506.6 322.3 506.8 323.8 507.0 325.3 507.2 326.8 507.4 328.3 507.6 329.8 507.8 331.3 508.0 332.8 508.2 334.2 508.4 335.7 508.6 337.2 508.8 338.7 508.9 340.2 509.1 341.7 509.3 343.2 509.5 344.7 509.6 346.2 509.8 347.7 509.9 349.2 510.1 350.7 510.3 352.2 510.4 353.7 510.6 355.2 510.7 356.7 510.9 358.2 511.0 359.7 511.1 361.2 511.3 362.7 511.4 364.2 511.5 365.7 511.7 367.2 511.8 368.7 511.9 370.2 512.1 371.7 512.2 373.2 512.3 374.7 512.4 376.2 512.6 377.7 512.7 379.2 512.8 380.7 512.9 382.2 513.0 383.7 513.1 385.2 513.2 386.7 513.3 388.2 513.5 389.7 513.6 391.2 513.7 392.7 513.8 394.2 513.9 395.7 514.0 397.2 514.1 398.7 514.2 400.2 514.3 401.7 514.4 403.2 514.5 404.7 514.6 406.2 514.7 407.7 514.8 409.2 514.9 410.7 515.0 412.2 515.0 413.7 515.1 415.2 515.2 416.7 515.3 418.2 515.4 419.7 515.5 421.2 515.6 422.7 515.7 424.2 515.8 425.7 515.9 427.2 516.0 428.8 516.0 430.3 516.1 431.8 516.2 433.3 516.3 434.8 516.4 436.3 516.5 437.8 516.6 439.3 516.6 440.8 516.7 442.3 516.8 443.8 516.9 445.3 517.0 446.8 517.1 448.3 517.1 449.8 517.2 451.3 517.3 452.8 517.4 454.3 517.5 455.8 517.6 457.3 517.7 458.8 517.7 460.3 517.8 461.8 517.9 463.3 518.0 464.8 518.1 466.3 518.2 467.8 518.2 469.3 518.3 470.8 518.4 472.3 518.5 473.8 518.6 475.3 518.7 476.9 518.7 478.4 518.8 479.9 518.9 481.4 519.0 482.9 519.1 484.4 519.1 485.9 519.2 487.4 519.3 488.9 519.4 490.4 519.5 491.9 519.6 493.4 519.6 494.9 519.7 496.4 519.8 497.9 519.9 499.4 520.0 500.9 520.1 502.4 520.2 503.9 520.2 505.4 520.3 506.9 520.4 508.4 520.5 509.9 520.6 511.4 520.7 512.9 520.8 514.4 520.9 515.9 520.9 517.4 521.0 518.9 521.1 520.4 521.2 521.9 521.3 523.4 521.4 524.9 521.5 526.5 521.6 528.0 521.6 529.5 521.7 531.0 521.8 532.5 521.9 534.0 522.0 535.5 522.1 537.0 522.1 538.5 522.2 540.0 522.3 541.5 522.4 543.0 522.5 544.5 522.5 546.0 522.6 547.5 522.7 549.0 525.3 549.0 525.3 547.5 525.3 546.0 525.3 544.5 525.3 543.0 525.3 541.5 525.3 540.0 525.3 538.5 525.3 537.0 525.3 535.5 525.4 534.0 525.4 532.5 525.4 531.0 525.4 529.4 525.4 527.9 525.4 526.4 525.4 524.9 525.4 523.4 525.5 521.9 525.5 520.4 525.5 518.9 525.5 517.4 525.5 515.9 525.6 514.4 525.6 512.9 525.6 511.4 525.6 509.9 525.6 508.4 525.6 506.9 525.7 505.4 525.7 503.9 525.7 502.4 525.8 500.9 525.8 499.4 525.8 497.9 525.9 496.4 525.9 494.9 525.9 493.4 526.0 491.9 526.0 490.4 526.1 488.8 526.1 487.3 526.2 485.8 526.2 484.3 526.3 482.8 526.3 481.3 526.4 479.8 526.4 478.3 526.5 476.8 526.6 475.3 526.6 473.8 526.7 472.3 526.7 470.8 526.8 469.3 526.9 467.8 527.0 466.3 527.0 464.8 527.1 463.3 527.2 461.8 527.3 460.3 527.4 458.8 527.6 457.3 527.7 455.8 527.8 454.3 528.0 452.8 528.1 451.3 528.2 449.8 528.4 448.3 528.5 446.8 528.7 445.3 528.8 443.8 529.0 442.3 529.1 440.8 529.3 439.3 529.4 437.8 529.6 436.3 529.7 434.8 529.9 433.4 530.0 431.9 530.2 430.4 530.3 428.9 530.5 427.4 530.6 425.9 530.8 424.4 531.0 422.9 531.1 421.4 531.3 419.9 531.4 418.4 531.6 416.9 531.8 415.4 531.9 413.9 532.1 412.4 532.2 410.9 532.4 409.4 532.5 407.9 532.7 406.4 532.8 404.9 532.9 403.4 533.1 401.9 533.2 400.4 533.4 398.9 533.5 397.4 533.6 395.9 533.8 394.4 533.9 392.9 534.0 391.5 534.1 390.0 534.3 388.5 534.4 387.0 534.5 385.5 534.7 384.0 534.8 382.5 534.9 381.0 535.0 379.5 535.2 378.0 535.3 376.5 535.4 375.0 535.5 373.5 535.7 372.0 535.8 370.5 535.9 369.0 536.1 367.5 536.2 366.0 536.3 364.5 536.4 363.0 536.6 361.5 536.7 360.0 536.8 358.5 537.0 357.0 537.1 355.5 537.2 354.0 537.3 352.5 537.5 351.0 537.6 349.5 537.8 348.0 537.9 346.5 538.0 345.0 538.2 343.5 538.3 342.0 538.5 340.5 538.6 339.0 538.7 337.5 538.9 336.0 539.0 334.5 539.2 333.0 539.3 331.5 539.5 330.0 539.6 328.5 539.8 327.0 539.9 325.5 540.0 324.0 540.2 322.5 540.3 321.0 540.5 319.6 540.6 318.1 540.8 316.6 540.9 315.1 541.1 313.6 541.2 312.1 541.4 310.6 541.5 309.1 541.7 307.6 541.9 306.1 542.0 304.6 542.2 303.1 542.3 301.6 542.5 300.1 542.7 298.6 542.8 297.1 543.0 295.6 543.2 294.1 543.3 292.6 543.5 291.1 543.7 289.6 543.9 288.1 544.0 286.7 544.2 285.2 544.4 283.7 544.6 282.2 544.8 280.7 545.0 279.2 545.2 277.7 545.4 276.2 545.6 274.7 545.8 273.2 546.0 271.7 546.2 270.3 546.4 268.8 546.6 267.3 546.8 265.8 547.0 264.3 547.3 262.8 547.5 261.3 547.7 259.8 547.9 258.3 548.2 256.9 548.4 255.4 548.7 253.9 548.9 252.4 549.2 250.9 549.4 249.4 549.7 247.9 549.9 246.5 550.2 245.0 550.4 243.5 550.7 242.0 551.0 240.6 551.3 239.1 551.6 237.6 551.8 236.1 552.1 234.7 552.4 233.2 552.7 231.7 553.1 230.3 553.4 228.8 553.7 227.3 554.1 225.9 554.4 224.4 554.8 222.9 555.1 221.5 555.5 220.0 555.9 218.5 556.3 217.1 556.7 215.6 557.0 214.2 557.4 212.7 557.8 211.3 558.2 209.8 558.7 208.4 559.1 206.9 559.5 205.5 559.9 204.0 560.3 202.6 560.8 201.2 561.2 199.7 561.7 198.3 562.2 196.9 562.6 195.5 563.1 194.0 563.6 192.6 564.1 191.2 564.6 189.7 565.0 188.3 565.5 186.9 566.0 185.5 566.5 184.1 567.0 182.6 567.5 181.2 568.0 179.8 568.5 178.4 569.0 177.0 569.5 175.5 570.0 174.1 570.5 172.7 571.0 171.3 571.5 169.9 572.0 168.5 572.5 167.0 573.0 165.6 573.5 164.2 574.0 162.8 574.6 161.4 575.1 160.0 575.6 158.5 576.1 157.1 576.6 155.7 577.1 154.3 577.7 152.9 578.2 151.5 578.7 150.1 579.3 148.7 579.9 147.3 580.4 145.9 581.0 144.5 581.6 143.1 582.2 141.8 582.9 140.4 583.5 139.0 584.1 137.7 584.8 136.3 585.5 135.0 586.2 133.7 586.9 132.4 587.7 131.0 588.4 129.7 589.2 128.5 590.0 127.2 590.9 125.9 591.7 124.7 592.6 123.5 593.5 122.3 594.4 121.1 595.4 119.9 596.3 118.8 597.3 117.6 598.4 116.5 599.4 115.4 600.4 114.4 601.5 113.3 602.6 112.3 603.7 111.3 604.9 110.3 606.0 109.3 607.2 108.4 608.4 107.5 609.6 106.6 610.9 105.7 612.1 104.8 613.3 104.0 614.6 103.2 615.8 102.4 617.1 101.6 618.4 100.8 619.7 100.0 621.0 99.3 622.4 98.6 623.7 97.9 625.0 97.2 626.4 96.5 627.7 95.9 629.1 95.2 630.4 94.6 631.8 94.0 633.2 93.4 634.6 92.8 636.0 92.2 637.4 91.7 638.8 91.1 640.2 90.6 641.6 90.0 643.0 89.5 644.4 89.0 645.8 88.4 647.2 87.9 648.7 87.4 650.1 87.0 651.5 86.5 653.0 86.2 654.4 85.8 655.9 85.4 657.4 85.1 658.8 84.8 660.3 84.5 661.8 84.3 663.3 84.1 664.8 83.9 666.3 83.7 667.8 83.5 669.3 83.3 670.8 83.1 672.3 83.0 673.8 82.9 675.3 82.7 676.8 82.7 678.3 82.6 679.8 82.5 681.3 82.4 682.8 82.4 684.3 82.3 685.8 82.3 687.3 82.2 688.8 82.2 690.3 82.2 691.8 82.1 693.3 82.1 694.8 82.1 696.3 82.1 697.8 82.1 699.3 82.1 700.8 82.1 702.3 82.1 703.8 82.1 705.3 82.2 706.8 82.2 708.3 82.2 709.8 82.2 711.3 82.2 712.8 82.2 714.3 82.2 715.9 82.3 717.4 82.3 718.9 82.3 720.4 82.3 721.9 82.4 723.4 82.4 724.9 82.4 726.4 82.4 727.9 82.5 729.4 82.5 730.9 82.5 732.4 82.5 733.9 82.5 735.4 82.5 736.9 82.5 738.4 82.6 739.9 82.6 741.4 82.6 742.9 82.6 744.4 82.6 745.9 82.6 747.4 82.6 748.9 82.6 750.4 82.7 751.9 82.7 753.4 82.8 754.9 82.8 756.5 82.9 758.0 83.0 759.5 83.0 761.0 83.1 762.5 83.1 764.0 83.2 765.5 83.2 767.0 83.2 768.5 83.2 770.0 83.1 771.5 83.1 773.0 83.0 774.5 82.9 776.0 82.8 777.5 82.7 779.0 82.6 780.5 82.5 782.0 82.4 783.5 82.3 785.0 82.1 786.5 82.0 788.0 81.9 789.5 81.7 791.0 81.6 792.5 81.4 793.9 81.1 795.4 80.9 796.9 80.6 798.4 80.3 799.9 80.0 801.3 79.6 802.8 79.3 804.3 78.9 805.7 78.5 807.2 78.2 808.6 77.8 810.1 77.3 811.5 76.9 812.9 76.4 814.3 75.8 815.7 75.3 817.1 74.7 818.5 74.2 819.9 73.7 821.4 73.1 822.8 72.6 824.2 72.2 825.6 71.7 827.1 71.3 828.5 70.9 830.0 70.5 831.4 70.1 832.9 69.7 834.3 69.3 835.8 68.9 837.3 68.5 838.7 68.2 840.2 67.8 841.6 67.5 843.1 67.2 844.6 66.9 846.1 66.6 847.5 66.4 849.0 66.1 850.5 65.8 852.0 65.5 853.5 65.2 855.0 64.9 856.5 64.7 858.0 64.5 859.5 64.4 860.9 64.3 862.4 64.3 863.9 64.3 865.4 64.3 866.9 64.3 868.4 64.4 870.0 64.4 871.5 64.5 873.0 64.5 874.5 64.6 876.0 64.7 877.5 64.8 879.0 64.9 880.5 65.0 882.0 65.1 883.5 65.3 885.0 65.4 886.5 65.5 888.0 65.7 889.4 65.8 890.9 66.1 892.4 66.4 893.9 66.7 895.3 67.1 896.8 67.5 898.2 67.9 899.7 68.3 901.1 68.8 902.6 69.2 904.0 69.7 905.4 70.1 906.9 70.6 908.3 71.1 909.7 71.6 911.1 72.1 912.5 72.7 913.9 73.3 915.3 73.9 916.7 74.5 918.0 75.1 919.4 75.7 920.8 76.3 922.2 76.9 923.6 77.5 924.9 78.1 926.3 78.7 927.7 79.3 929.1 79.9 930.5 80.5 931.8 81.1 933.2 81.7 934.6 82.3 936.0 82.9 937.3 83.5 938.7 84.2 940.1 84.8 941.4 85.5 942.7 86.2 944.1 86.8 945.4 87.5 946.8 88.2 948.1 88.9 949.4 89.6 950.8 90.4 952.1 91.1 953.4 91.8 954.7 92.6 956.0 93.4 957.3 94.2 958.5 95.0 959.8 95.8 961.0 96.6 962.3 97.5 963.5 98.3 964.7 99.2 965.9 100.1 967.1 101.0 968.3 101.9 969.5 102.9 970.7 103.8 971.8 104.8 973.0 105.8 974.1 106.8 975.3 107.8 976.4 108.8 977.5 109.8 978.6 110.8 979.7 111.8 980.8 112.8 981.8 113.9 982.9 114.9 984.0 116.0 985.0 117.1 986.1 118.2 987.1 119.2 988.1 120.4 989.2 121.5 990.2 122.6 991.2 123.7 992.2 124.9 993.1 126.0 994.1 127.2 995.1 128.3 996.0 129.5 997.0 130.7 997.9 131.8 998.9 133.0 999.8 134.2 1000.7 135.4 1001.6 136.6 1002.5 137.8 1003.3 139.0 1004.2 140.2 1005.1 141.5 1005.9 142.7 1006.8 144.0 1007.6 145.2 1008.4 146.5 1009.3 147.7 1010.1 149.0 1010.9 150.3 1011.7 151.6 1012.5 152.8 1013.3 154.1 1014.1 155.4 1014.8 156.7 1015.6 158.0 1016.4 159.3 1017.2 160.5 1017.9 161.8 1018.7 163.2 1019.4 164.5 1020.1 165.8 1020.9 167.1 1021.6 168.4 1022.3 169.7 1023.1 171.0 1023.8 172.4 1024.5 173.7 1025.2 175.0 1025.9 176.4 1026.6 177.7 1027.3 179.0 1028.0 180.4 1028.7 181.7 1029.3 183.0 1030.0 184.4 1030.7 185.7 1031.4 187.1 1032.0 188.4 1032.7 189.8 1033.3 191.1 1034.0 192.5 1034.7 193.8 1035.3 195.2 1035.9 196.6 1036.6 197.9 1037.2 199.3 1037.8 200.6 1038.5 202.0 1039.1 203.4 1039.7 204.8 1040.3 206.1 1040.9 207.5 1041.5 208.9 1042.1 210.2 1042.7 211.6 1043.3 213.0 1043.9 214.4 1044.5 215.8 1045.1 217.2 1045.7 218.5 1046.3 219.9 1046.8 221.3 1047.4 222.7 1048.0 224.1 1048.5 225.5 1049.1 226.9 1049.6 228.3 1050.2 229.7 1050.7 231.1 1051.3 232.5 1051.8 233.9 1052.3 235.3 1052.8 236.7 1053.4 238.2 1053.9 239.6 1054.4 241.0 1054.9 242.4 1055.4 243.8 1055.8 245.2 1056.3 246.7 1056.8 248.1 1057.3 249.5 1057.8 250.9 1058.3 252.4 1058.7 253.8 1059.2 255.2 1059.7 256.7 1060.1 258.1 1060.6 259.5 1061.0 261.0 1061.5 262.4 1061.9 263.8 1062.4 265.3 1062.9 266.7 1063.3 268.1 1063.8 269.5 1064.3 271.0 1064.8 272.4 1065.3 273.8 1065.8 275.2 1066.2 276.7 1066.7 278.1 1067.2 279.5 1067.7 280.9 1068.2 282.3 1068.8 283.8 1069.3 285.2 1069.8 286.6 1070.3 288.0 1070.8 289.4 1071.4 290.8 1071.9 292.2 1072.5 293.6 1073.1 295.0 1073.6 296.4 1074.2 297.7 1074.8 299.1 1075.5 300.5 1076.1 301.9 1076.7 303.2 1077.4 304.6 1078.0 305.9 1078.7 307.3 1079.3 308.7 1080.0 310.0 1085.0 310.0 1085.7 308.6 1086.3 307.3 1087.0 305.9 1087.6 304.6 1088.2 303.2 1088.9 301.8 1089.5 300.5 1090.1 299.1 1090.7 297.7 1091.3 296.3 1091.9 295.0 1092.4 293.6 1093.0 292.2 1093.5 290.8 1094.1 289.4 1094.6 288.0 1095.1 286.6 1095.6 285.1 1096.1 283.7 1096.7 282.3 1097.2 280.9 1097.7 279.5 1098.2 278.1 1098.7 276.7 1099.2 275.2 1099.7 273.8 1100.2 272.4 1100.8 271.0 1101.3 269.6 1101.8 268.2 1102.3 266.8 1102.8 265.4 1103.4 263.9 1103.9 262.5 1104.4 261.1 1104.9 259.7 1105.4 258.3 1106.0 256.9 1106.5 255.5 1107.1 254.1 1107.6 252.7 1108.2 251.3 1108.8 249.9 1109.3 248.5 1109.9 247.2 1110.5 245.8 1111.1 244.4 1111.7 243.0 1112.3 241.6 1112.9 240.3 1113.6 238.9 1114.2 237.5 1114.8 236.2 1115.4 234.8 1116.1 233.4 1116.7 232.1 1117.3 230.7 1117.9 229.3 1118.6 228.0 1119.2 226.6 1119.8 225.2 1120.5 223.9 1121.1 222.5 1121.8 221.2 1122.4 219.8 1123.1 218.5 1123.7 217.1 1124.4 215.8 1125.1 214.4 1125.8 213.1 1126.4 211.7 1127.1 210.4 1127.8 209.1 1128.5 207.7 1129.2 206.4 1130.0 205.1 1130.7 203.8 1131.4 202.4 1132.1 201.1 1132.8 199.8 1133.6 198.5 1134.3 197.2 1135.1 195.9 1135.8 194.6 1136.6 193.3 1137.4 192.0 1138.2 190.7 1139.0 189.4 1139.8 188.2 1140.6 186.9 1141.4 185.7 1142.2 184.4 1143.1 183.2 1143.9 181.9 1144.8 180.7 1145.7 179.5 1146.5 178.2 1147.4 177.0 1148.3 175.8 1149.2 174.6 1150.2 173.4 1151.1 172.2 1152.0 171.0 1153.0 169.9 1153.9 168.7 1154.9 167.6 1155.9 166.5 1156.9 165.3 1157.9 164.2 1158.9 163.1 1159.9 162.0 1161.0 160.9 1162.0 159.9 1163.1 158.8 1164.2 157.7 1165.2 156.7 1166.3 155.6 1167.4 154.6 1168.5 153.6 1169.7 152.6 1170.8 151.6 1171.9 150.6 1173.1 149.6 1174.2 148.7 1175.4 147.7 1176.6 146.8 1177.7 145.9 1178.9 144.9 1180.1 144.0 1181.4 143.1 1182.6 142.2 1183.8 141.4 1185.1 140.5 1186.3 139.7 1187.6 138.9 1188.8 138.1 1190.1 137.3 1191.4 136.6 1192.7 135.8 1194.0 135.1 1195.4 134.4 1196.7 133.7 1198.0 133.0 1199.4 132.3 1200.8 131.7 1202.1 131.0 1203.5 130.4 1204.9 129.8 1206.3 129.2 1207.7 128.7 1209.1 128.1 1210.5 127.7 1211.9 127.2 1213.3 126.7 1214.8 126.2 1216.2 125.8 1217.6 125.4 1219.1 125.0 1220.5 124.6 1222.0 124.2 1223.5 123.8 1224.9 123.5 1226.4 123.1 1227.9 122.8 1229.4 122.5 1230.8 122.3 1232.3 122.0 1233.8 121.7 1235.3 121.5 1236.8 121.2 1238.2 121.0 1239.7 120.7 1241.2 120.5 1242.7 120.3 1244.2 120.1 1245.7 119.9 1247.2 119.8 1248.7 119.6 1250.2 119.6 1251.7 119.5 1253.2 119.5 1254.7 119.5 1256.2 119.5 1257.7 119.5 1259.2 119.5 1260.7 119.5 1262.2 119.5 1263.7 119.5 1265.3 119.6 1266.8 119.6 1268.3 119.6 1269.8 119.6 1271.3 119.6 1272.8 119.6 1274.3 119.6 1275.8 119.6 1277.3 119.6 1278.8 119.7 1280.2 119.8 1281.7 119.9 1283.2 120.1 1284.7 120.3 1286.2 120.5 1287.7 120.8 1289.2 121.2 1290.7 121.5 1292.1 121.9 1293.6 122.3 1295.1 122.7 1296.5 123.1 1298.0 123.5 1299.4 123.9 1300.9 124.3 1302.3 124.7 1303.7 125.1 1305.1 125.6 1306.6 126.0 1308.0 126.6 1309.4 127.1 1310.8 127.6 1312.2 128.2 1313.6 128.8 1315.0 129.4 1316.3 130.1 1317.7 130.7 1319.1 131.4 1320.4 132.1 1321.8 132.8 1323.1 133.5 1324.5 134.2 1325.8 134.9 1327.1 135.6 1328.4 136.3 1329.7 137.0 1331.0 137.8 1332.2 138.6 1333.5 139.4 1334.8 140.2 1336.0 141.0 1337.3 141.9 1338.5 142.7 1339.8 143.6 1341.0 144.5 1342.2 145.4 1343.4 146.3 1344.7 147.2 1345.9 148.1 1347.0 149.1 1348.2 150.0 1349.4 150.9 1350.5 151.9 1351.7 152.9 1352.8 153.8 1354.0 154.8 1355.1 155.8 1356.2 156.8 1357.3 157.8 1358.4 158.8 1359.5 159.9 1360.6 160.9 1361.7 162.0 1362.7 163.1 1363.8 164.1 1364.8 165.2 1365.9 166.4 1366.9 167.5 1367.9 168.6 1368.9 169.7 1369.8 170.8 1370.8 172.0 1371.7 173.1 1372.7 174.3 1373.6 175.5 1374.5 176.7 1375.4 177.9 1376.3 179.1 1377.1 180.4 1378.0 181.6 1378.9 182.8 1379.7 184.1 1380.6 185.3 1381.4 186.6 1382.2 187.8 1383.1 189.1 1383.9 190.3 1384.7 191.6 1385.5 192.9 1386.3 194.1 1387.1 195.4 1387.9 196.7 1388.7 198.0 1389.4 199.3 1390.2 200.6 1391.0 201.9 1391.7 203.2 1392.5 204.5 1393.3 205.8 1394.0 207.1 1394.8 208.4 1395.5 209.6 1396.3 210.9 1397.0 212.3 1397.8 213.6 1398.5 214.9 1399.2 216.2 1400.0 217.5 1400.7 218.8 1401.4 220.1 1402.2 221.4 1402.9 222.8 1403.7 224.1 1404.4 225.4 1405.2 226.7 1405.9 227.9 1406.7 229.2 1407.5 230.5 1408.3 231.8 1409.1 233.0 1409.9 234.3 1410.8 235.6 1411.6 236.8 1412.4 238.1 1413.3 239.5 1414.2 240.7 1415.2 241.6 1416.4 242.5 1417.9 243.2 1419.3 243.5 1420.7 243.3 1422.0 242.5 1423.3 241.5 1424.4 240.6 1425.5 239.5 1426.4 238.3 1427.3 237.1 1428.3 235.9 1429.2 234.7 1430.1 233.5 1431.0 232.3 1431.9 231.1 1432.8 229.9 1433.7 228.7 1434.5 227.4 1435.4 226.2 1436.2 224.9 1437.0 223.7 1437.8 222.4 1438.6 221.1 1439.4 219.8 1440.1 218.5 1440.9 217.2 1441.6 215.9 1442.4 214.6 1443.1 213.3 1443.8 212.0 1444.6 210.7 1445.3 209.4 1446.0 208.0 1446.7 206.7 1447.4 205.4 1448.1 204.1 1448.9 202.7 1449.6 201.4 1450.2 200.1 1450.9 198.7 1451.6 197.4 1452.3 196.1 1453.0 194.7 1453.6 193.4 1454.3 192.0 1455.0 190.7 1455.6 189.3 1456.3 188.0 1457.0 186.6 1457.7 185.3 1458.4 184.0 1459.1 182.6 1459.8 181.3 1460.4 180.0 1461.1 178.6 1461.8 177.3 1462.5 175.9 1463.2 174.6 1463.9 173.3 1464.6 171.9 1465.3 170.6 1466.0 169.3 1466.7 168.0 1467.4 166.6 1468.1 165.3 1468.9 164.0 1469.6 162.7 1470.4 161.4 1471.1 160.1 1471.9 158.8 1472.7 157.5 1473.4 156.2 1474.2 155.0 1475.0 153.7 1475.8 152.4 1476.7 151.1 1477.5 149.9 1478.3 148.6 1479.2 147.4 1480.0 146.2 1480.9 144.9 1481.8 143.7 1482.6 142.5 1483.5 141.3 1484.5 140.1 1485.4 138.9 1486.3 137.7 1487.3 136.5 1488.2 135.4 1489.2 134.2 1490.2 133.1 1491.2 131.9 1492.2 130.8 1493.2 129.7 1494.2 128.6 1495.3 127.6 1496.3 126.5 1497.4 125.5 1498.5 124.5 1499.7 123.5 1500.8 122.5 1502.0 121.5 1503.1 120.6 1504.3 119.6 1505.5 118.7 1506.7 117.8 1507.9 117.0 1509.2 116.1 1510.4 115.3 1511.7 114.5 1512.9 113.7 1514.2 112.9 1515.5 112.1 1516.8 111.3 1518.2 110.6 1519.5 109.9 1520.8 109.2 1522.2 108.5 1523.5 107.9 1524.8 107.2 1526.2 106.6 1527.6 106.0 1529.0 105.4 1530.3 104.8 1531.7 104.2 1533.1 103.6 1534.5 103.1 1535.9 102.5 1537.4 102.0 1538.8 101.5 1540.2 101.0 1541.6 100.5 1543.0 100.0 1544.4 99.5 1545.9 99.0 1547.3 98.6 1548.7 98.1 1550.2 97.6 1551.6 97.2 1553.1 96.8 1554.5 96.4 1556.0 96.0 1557.4 95.6 1558.9 95.2 1560.3 94.9 1561.8 94.6 1563.3 94.3 1564.7 94.0 1566.2 93.6 1567.7 93.3 1569.2 93.0 1570.7 92.7 1572.1 92.5 1573.6 92.2 1575.1 92.0 1576.6 91.8 1578.1 91.6 1579.6 91.5 1581.1 91.4 1582.6 91.4 1584.1 91.3 1585.6 91.3 1587.1 91.3 1588.6 91.3 1590.1 91.3 1591.6 91.2 1593.1 91.2 1594.6 91.2 1596.1 91.2 1597.6 91.2 1599.1 91.2 1600.6 91.2 1602.1 91.2 1603.6 91.2 1605.1 91.3 1606.6 91.4 1608.1 91.5 1609.6 91.6 1611.1 91.8 1612.6 92.0 1614.1 92.2 1615.6 92.4 1617.1 92.6 1618.6 92.8 1620.1 93.0 1621.6 93.2 1623.1 93.4 1624.5 93.6 1626.0 93.8 1627.5 94.0 1629.0 94.2 1630.5 94.5 1632.0 94.7 1633.5 95.0 1634.9 95.2 1636.4 95.5 1637.9 95.7 1639.4 96.0 1640.9 96.2 1642.3 96.5 1643.8 96.8 1645.3 97.0 1646.8 97.3 1648.3 97.5 1649.8 97.8 1651.3 98.0 1652.7 98.3 1654.2 98.6 1655.7 98.8 1657.2 99.1 1658.6 99.4 1660.1 99.8 1661.6 100.1 1663.0 100.4 1664.5 100.8 1665.9 101.2 1667.4 101.6 1668.8 102.0 1670.3 102.4 1671.7 102.9 1673.1 103.3 1674.6 103.8 1676.0 104.3 1677.4 104.8 1678.8 105.3 1680.2 105.8 1681.6 106.4 1683.0 106.9 1684.4 107.5 1685.8 108.1 1687.2 108.7 1688.5 109.3 1689.9 110.0 1691.3 110.7 1692.6 111.4 1693.9 112.1 1695.2 112.8 1696.5 113.5 1697.8 114.3 1699.1 115.1 1700.3 116.0 1701.5 116.9 1702.7 117.8 1703.9 118.8 1705.1 119.7 1706.3 120.7 1707.5 121.6 1708.8 122.4 1710.0 123.2 1711.3 124.0 1712.6 124.6 1713.9 125.3 1715.3 126.0 1716.7 126.7 1718.1 127.4 1719.5 128.0 1720.9 128.6 1722.4 129.1 1723.8 129.6 1725.3 129.9 1726.7 130.0 1728.2 130.0 1729.6 130.0 1731.1 129.8 1732.7 129.6 1734.2 129.3 1735.7 129.0 1737.2 128.7 1738.7 128.3 1740.2 127.9 1741.6 127.5 1743.0 127.1 1744.3 126.7 1745.6 126.1 1746.9 125.4 1748.2 124.7 1749.4 123.8 1750.7 122.9 1751.9 121.9 1753.1 120.9 1754.2 119.9 1755.4 118.8 1756.6 117.8 1757.7 116.8 1758.8 115.8 1759.9 114.8 1761.0 113.8 1762.1 112.7 1763.2 111.7 1764.2 110.6 1765.2 109.5 1766.3 108.4 1767.3 107.3 1768.3 106.2 1769.3 105.0 1770.3 103.9 1771.4 102.8 1772.4 101.7 1773.4 100.6 1774.5 99.5 1775.5 98.5 1776.6 97.4 1777.6 96.3 1778.6 95.2 1779.7 94.0 1780.7 92.9 1781.8 91.9 1782.8 90.8 1783.9 89.7 1785.0 88.7 1786.0 87.6 1787.2 86.7 1788.3 85.7 1789.4 84.8 1790.6 83.8 1791.8 82.9 1793.0 81.9 1794.3 81.0 1795.5 80.1 1796.8 79.3 1798.1 78.5 1799.4 77.7 1800.7 77.1 1802.0 76.5 1803.4 75.9 1804.8 75.4 1806.2 74.8 1807.6 74.3 1809.1 73.8 1810.5 73.3 1812.0 73.0 1813.5 72.7 1815.0 72.5 1816.5 72.4 1818.0 72.4 1819.4 72.4 1820.9 72.4 1822.4 72.4 1823.9 72.4 1825.5 72.4 1827.0 72.5 1828.5 72.5"/>
<path stroke="#ff7f00" d="M80.5 67.5L82.1 67.5 83.8 67.5 85.4 67.5 87.1 67.5 88.7 67.5 90.3 67.5 92.0 67.5 93.6 67.5 95.3 67.5 96.9 67.5 98.5 67.5 100.2 67.5 101.8 67.6 103.4 67.6 105.1 67.7 106.7 67.7 108.4 67.8 110.0 67.8 111.3 68.5 112.6 69.3 114.0 70.0 115.3 70.8 116.5 71.6 117.8 72.4 119.1 73.2 120.4 74.0 121.6 74.9 122.8 75.7 124.0 76.6 125.3 77.4 126.4 78.4 127.6 79.3 128.8 80.2 129.9 81.2 131.1 82.2 132.2 83.2 133.3 84.2 134.5 85.2 135.6 86.2 136.7 87.2 137.8 88.2 139.0 89.2 140.1 90.2 141.3 91.2 142.4 92.2 143.5 93.2 144.6 94.2 145.8 95.2 146.9 96.2 148.0 97.2 149.1 98.2 150.2 99.2 151.3 100.2 152.5 101.2 153.6 102.2 154.7 103.2 155.9 104.2 157.0 105.2 158.2 106.1 159.4 107.0 160.5 108.0 161.7 108.9 162.9 109.8 164.1 110.7 165.3 111.6 166.5 112.5 167.8 113.4 169.0 114.3 170.2 115.2 171.4 116.1 172.7 116.9 173.9 117.8 175.2 118.6 176.4 119.5 177.7 120.3 178.9 121.1 180.2 121.9 181.5 122.7 182.7 123.5 184.0 124.3 185.3 125.1 186.6 125.8 187.9 126.6 189.2 127.3 190.5 128.1 191.9 128.8 193.2 129.5 194.5 130.2 195.8 130.9 197.2 131.6 198.5 132.3 199.9 133.0 201.3 133.6 202.6 134.3 204.0 134.9 205.4 135.5 206.7 136.1 208.1 136.7 209.5 137.3 210.9 137.8 212.3 138.4 213.7 138.9 215.1 139.4 216.5 140.0 217.9 140.5 219.3 141.0 220.8 141.4 222.2 141.9 223.6 142.4 225.1 142.8 226.5 143.3 228.0 143.7 229.4 144.2 230.9 144.6 232.3 145.0 233.8 145.4 235.2 145.8 236.7 146.2 238.1 146.5 239.6 146.9 241.0 147.3 242.5 147.6 244.0 148.0 245.4 148.3 246.9 148.7 248.4 149.0 249.8 149.3 251.3 149.6 252.8 149.9 254.3 150.2 255.7 150.5 257.2 150.8 258.7 151.1 260.2 151.4 261.6 151.7 263.1 152.0 264.6 152.2 266.1 152.5 267.6 152.8 269.1 153.0 270.5 153.2 272.0 153.5 273.5 153.7 275.0 154.0 276.5 154.2 278.0 154.5 279.5 154.7 280.9 155.0 282.4 155.2 283.9 155.5 285.4 155.7 286.9 156.0 288.3 156.3 289.8 156.5 291.3 156.8 292.8 157.1 294.3 157.4 295.7 157.6 297.2 157.9 298.7 158.2 300.2 158.5 301.7 158.8 303.1 159.0 304.6 159.3 306.1 159.6 307.6 159.9 309.0 160.2 310.5 160.5 312.0 160.8 313.5 161.1 315.0 161.4 316.4 161.6 317.9 161.9 319.4 162.2 320.9 162.5 322.3 162.8 323.8 163.1 325.3 163.4 326.8 163.7 328.2 164.0 329.7 164.3 331.2 164.7 332.6 165.0 334.1 165.3 335.6 165.7 337.0 166.1 338.5 166.4 339.9 166.8 341.4 167.2 342.9 167.6 344.3 168.0 345.8 168.4 347.2 168.9 348.7 169.3 350.1 169.7 351.5 170.2 353.0 170.7 354.4 171.1 355.8 171.6 357.2 172.1 358.6 172.6 360.0 173.2 361.4 173.7 362.8 174.3 364.2 174.8 365.6 175.4 367.0 176.1 368.4 176.7 369.8 177.4 371.1 178.1 372.4 178.8 373.7 179.5 375.0 180.3 376.2 181.1 377.4 181.9 378.6 182.8 379.8 183.8 381.0 184.7 382.1 185.7 383.3 186.7 384.4 187.7 385.5 188.8 386.6 189.8 387.7 190.9 388.8 191.9 389.9 192.9 391.0 194.0 392.1 195.0 393.1 196.1 394.2 197.2 395.2 198.3 396.2 199.3 397.3 200.4 398.3 201.6 399.3 202.7 400.3 203.8 401.3 204.9 402.3 206.0 403.3 207.2 404.3 208.3 405.3 209.4 406.3 210.6 407.3 211.7 408.2 212.9 409.2 214.0 410.2 215.2 411.1 216.3 412.1 217.5 413.0 218.7 414.0 219.9 414.9 221.0 415.8 222.2 416.8 223.4 417.7 224.6 418.6 225.8 419.5 227.0 420.4 228.2 421.3 229.4 422.2 230.6 423.1 231.8 424.0 233.0 424.9 234.2 425.8 235.4 426.7 236.6 427.6 237.9 428.5 239.1 429.3 240.3 430.2 241.6 431.0 242.8 431.9 244.0 432.8 245.3 433.6 246.5 434.4 247.8 435.2 249.0 436.0 250.3 436.8 251.6 437.6 252.9 438.5 254.1 439.3 255.4 440.1 256.6 441.0 257.8 441.9 259.1 442.7 260.4 443.6 261.7 444.6 262.7 445.7 263.6 447.0 264.5 448.5 265.3 449.9 265.7 451.3 265.7 452.7 265.3 454.1 264.6 455.5 263.8 456.8 263.0 458.0 262.2 459.1 261.2 460.3 260.1 461.3 259.1 462.4 258.0 463.4 256.9 464.4 255.8 465.4 254.6 466.3 253.4 467.1 252.1 467.9 250.9 468.6 249.5 469.2 248.2 469.9 246.8 470.5 245.4 471.0 244.0 471.6 242.6 472.1 241.2 472.6 239.7 473.0 238.3 473.5 236.9 473.9 235.4 474.3 234.0 474.7 232.6 475.1 231.1 475.5 229.6 475.8 228.2 476.2 226.7 476.6 225.2 476.9 223.8 477.3 222.3 477.7 220.9 478.0 219.4 478.4 217.9 478.7 216.5 479.1 215.0 479.4 213.5 479.8 212.1 480.1 210.6 480.5 209.1 480.9 207.7 481.3 206.2 481.7 204.8 482.1 203.4 482.6 201.9 483.0 200.5 483.5 199.1 484.0 197.6 484.5 196.2 485.0 194.8 485.5 193.4 486.0 192.0 486.5 190.5 487.1 189.1 487.6 187.7 488.1 186.3 488.6 184.9 489.2 183.5 489.7 182.1 490.2 180.7 490.8 179.3 491.3 177.9 491.9 176.5 492.5 175.1 493.0 173.7 493.6 172.3 494.2 170.9 494.8 169.5 495.4 168.1 496.0 166.8 496.6 165.4 497.2 164.0 497.8 162.7 498.5 161.3 499.1 159.9 499.7 158.6 500.4 157.2 501.1 155.9 501.7 154.5 502.4 153.2 503.0 151.8 503.7 150.4 504.3 149.1 505.0 147.7 505.6 146.4 506.3 145.0 506.9 143.7 507.6 142.3 508.2 140.9 508.9 139.6 509.5 138.2 510.2 136.8 510.8 135.5 511.5 134.2 512.2 132.8 512.9 131.5 513.6 130.2 514.3 128.8 515.0 127.5 515.7 126.2 516.5 124.9 517.2 123.5 518.0 122.2 518.7 120.9 519.5 119.6 520.3 118.4 521.1 117.1 521.9 115.9 522.8 114.6 523.7 113.4 524.5 112.2 525.5 111.0 526.4 109.8 527.3 108.6 528.3 107.4 529.3 106.3 530.3 105.2 531.4 104.1 532.4 103.1 533.5 102.1 534.7 101.1 535.8 100.1 537.0 99.1 538.2 98.2 539.4 97.3 540.6 96.4 541.8 95.5 543.0 94.7 544.3 93.9 545.6 93.1 546.9 92.3 548.2 91.5 549.4 90.7 550.7 89.9 552.0 89.1 553.3 88.4 554.6 87.6 555.9 86.9 557.3 86.2 558.6 85.5 560.0 84.9 561.3 84.2 562.7 83.6 564.1 83.0 565.5 82.4 566.9 81.8 568.2 81.3 569.6 80.7 571.1 80.2 572.5 79.6 573.9 79.1 575.3 78.6 576.8 78.2 578.2 77.8 579.7 77.5 581.1 77.1 582.6 76.8 584.1 76.5 585.5 76.2 587.0 75.9 588.5 75.7 590.0 75.4 591.5 75.2 593.0 75.0 594.5 74.8 596.0 74.6 597.5 74.3 599.0 74.1 600.5 73.9 602.0 73.7 603.4 73.6 604.9 73.5 606.4 73.4 607.9 73.3 609.4 73.3 610.9 73.3 612.5 73.3 614.0 73.3 615.5 73.3 617.0 73.4 618.5 73.4 620.0 73.4 621.5 73.5 623.0 73.5 624.5 73.6 626.0 73.6 627.5 73.7 629.0 73.7 630.5 73.8 632.0 73.9 633.5 73.9 635.0 74.0 636.5 74.1 638.0 74.2 639.5 74.4 641.0 74.5 642.5 74.7 644.0 74.9 645.5 75.0 647.0 75.2 648.5 75.3 650.0 75.5 651.5 75.6 653.0 75.8 654.5 76.0 656.0 76.2 657.5 76.3 659.0 76.5 660.5 76.7 662.0 76.9 663.4 77.1 664.9 77.4 666.4 77.6 667.9 77.8 669.4 78.0 670.9 78.3 672.4 78.5 673.9 78.8 675.3 79.1 676.8 79.4 678.3 79.6 679.8 79.9 681.2 80.3 682.7 80.6 684.2 80.9 685.6 81.3 687.1 81.7 688.5 82.1 690.0 82.4 691.4 82.8 692.9 83.2 694.3 83.6 695.8 84.1 697.2 84.5 698.7 84.9 700.1 85.3 701.5 85.8 703.0 86.3 704.4 86.7 705.8 87.2 707.3 87.7 708.7 88.1 710.2 88.5 711.6 88.9 713.1 89.3 714.5 89.6 716.0 90.0 717.5 89.8 719.0 89.5 720.5 89.2 722.0 88.8 723.4 88.5 724.8 88.0 726.3 87.6 727.7 87.1 729.0 86.5 730.4 85.8 731.8 85.1 733.1 84.4 734.4 83.6 735.7 82.9 737.0 82.1 738.3 81.3 739.5 80.5 740.8 79.6 742.0 78.8 743.3 77.9 744.5 77.0 745.7 76.2 747.0 75.3 748.3 74.5 749.5 73.7 750.8 72.9 752.1 72.1 753.4 71.3 754.7 70.5 756.0 69.7 757.3 68.9 758.6 68.2 760.0 67.6 761.3 66.9 762.7 66.4 764.1 65.8 765.5 65.2 766.9 64.7 768.4 64.2 769.8 63.7 771.3 63.3 772.8 62.9 774.2 62.6 775.7 62.5 777.2 62.3 778.7 62.2 780.2 62.1 781.7 62.0 783.2 62.0 784.7 61.9 786.2 61.8 787.7 61.8 789.3 61.8 790.8 61.8 792.3 61.9 793.8 62.1 795.2 62.3 796.7 62.5 798.2 62.8 799.7 63.0 801.2 63.2 802.7 63.4 804.2 63.6 805.7 63.8 807.2 64.0 808.7 64.2 810.2 64.5 811.7 64.7 813.2 64.9 814.7 65.2 816.1 65.4 817.6 65.7 819.1 65.9 820.6 66.2 822.1 66.4 823.6 66.7 825.0 67.0 826.5 67.3 828.0 67.6 829.5 67.8 831.0 68.1 832.4 68.5 833.9 68.8 835.4 69.1 836.9 69.4 838.3 69.8 839.8 70.1 841.3 70.5 842.7 70.8 844.2 71.2 845.7 71.5 847.1 71.9 848.6 72.3 850.0 72.7 851.5 73.1 852.9 73.5 854.4 73.9 855.8 74.3 857.3 74.8 858.7 75.2 860.2 75.7 861.6 76.1 863.1 76.6 864.5 77.1 865.9 77.6 867.3 78.1 868.8 78.6 870.2 79.1 871.6 79.7 873.0 80.2 874.4 80.8 875.8 81.3 877.1 81.9 878.5 82.5 879.9 83.1 881.3 83.7 882.6 84.4 884.0 85.0 885.4 85.7 886.7 86.4 888.1 87.1 889.4 87.8 890.8 88.6 892.1 89.3 893.4 90.0 894.7 90.8 896.0 91.6 897.3 92.4 898.6 93.2 899.8 94.0 901.0 94.8 902.3 95.6 903.5 96.5 904.7 97.3 906.0 98.2 907.2 99.1 908.4 100.1 909.6 101.0 910.8 102.0 911.9 103.0 913.1 104.0 914.2 105.0 915.4 106.0 916.5 107.0 917.6 108.1 918.6 109.1 919.7 110.2 920.7 111.3 921.7 112.4 922.7 113.5 923.7 114.6 924.6 115.7 925.6 116.9 926.5 118.1 927.5 119.3 928.4 120.5 929.3 121.7 930.1 123.0 931.0 124.3 931.9 125.5 932.7 126.8 933.5 128.1 934.3 129.4 935.1 130.7 935.8 132.0 936.5 133.3 937.2 134.6 937.9 136.0 938.6 137.3 939.2 138.6 939.8 140.0 940.5 141.4 941.1 142.8 941.6 144.2 942.2 145.6 942.8 147.0 943.3 148.4 943.8 149.8 944.3 151.3 944.9 152.7 945.4 154.1 945.9 155.5 946.3 156.9 946.8 158.4 947.3 159.8 947.7 161.2 948.2 162.7 948.6 164.1 949.0 165.6 949.5 167.0 949.9 168.5 950.3 169.9 950.7 171.4 951.1 172.8 951.5 174.3 951.9 175.8 952.3 177.2 952.7 178.7 953.1 180.1 953.5 181.6 953.8 183.0 954.2 184.5 954.6 186.0 954.9 187.4 955.3 188.9 955.7 190.3 956.0 191.8 956.4 193.3 956.7 194.7 957.1 196.2 957.4 197.7 957.8 199.2 958.1 200.6 958.4 202.1 958.8 203.6 959.1 205.0 959.4 206.5 959.8 208.0 960.1 209.4 960.4 210.9 960.8 212.4 961.1 213.9 961.4 215.3 961.7 216.8 962.0 218.3 962.3 219.8 962.7 221.2 963.0 222.7 963.3 224.2 963.6 225.7 963.9 227.1 964.2 228.6 964.5 230.1 964.9 231.5 965.2 233.0 965.5 234.5 965.8 236.0 966.1 237.4 966.4 238.9 966.7 240.4 967.0 241.9 967.4 243.3 967.7 244.8 968.0 246.3 968.3 247.8 968.6 249.2 968.9 250.7 969.2 252.2 969.5 253.7 969.8 255.1 970.2 256.6 970.5 258.1 970.8 259.6 971.1 261.1 971.4 262.5 971.7 264.0 972.0 265.5 972.3 267.0 972.6 268.4 972.9 269.9 973.2 271.4 973.4 272.9 973.7 274.4 974.0 275.8 974.3 277.3 974.6 278.8 974.9 280.3 975.2 281.7 975.5 283.2 975.8 284.7 976.1 286.2 976.4 287.7 976.6 289.1 976.9 290.6 977.2 292.1 977.5 293.6 977.8 295.1 978.1 296.6 978.3 298.0 978.6 299.5 978.9 301.0 979.2 302.5 979.4 304.0 979.7 305.4 980.0 306.9 980.2 308.4 980.5 309.9 980.8 311.4 981.0 312.9 981.3 314.4 981.5 315.8 981.8 317.3 982.1 318.8 982.3 320.3 982.6 321.8 982.8 323.3 983.1 324.8 983.3 326.2 983.6 327.7 983.8 329.2 984.1 330.7 984.3 332.2 984.6 333.7 984.8 335.2 985.1 336.7 985.3 338.1 985.5 339.6 985.8 341.1 986.0 342.6 986.2 344.1 986.5 345.6 986.7 347.1 986.9 348.6 987.1 350.1 987.3 351.6 987.5 353.0 987.8 354.5 988.0 356.0 988.2 357.5 988.4 359.0 988.6 360.5 988.8 362.0 989.0 363.5 989.2 365.0 989.4 366.5 989.6 368.0 989.8 369.5 990.0 371.0 990.2 372.5 990.4 374.0 990.6 375.5 990.7 377.0 990.9 378.5 991.1 380.0 991.3 381.5 991.4 382.9 991.6 384.4 991.7 385.9 991.9 387.4 992.1 388.9 992.2 390.4 992.4 391.9 992.5 393.4 992.7 394.9 992.8 396.4 993.0 397.9 993.1 399.4 993.3 400.9 993.4 402.4 993.5 403.9 993.7 405.4 993.8 406.9 993.9 408.4 994.1 409.9 994.2 411.5 994.3 413.0 994.5 414.5 994.6 416.0 994.7 417.5 994.8 419.0 994.9 420.5 995.1 422.0 995.2 423.5 995.3 425.0 995.4 426.5 995.5 428.0 995.6 429.5 995.7 431.0 998.3 431.0 998.4 429.5 998.4 428.0 998.5 426.5 998.6 425.0 998.7 423.5 998.7 422.0 998.8 420.5 998.9 419.0 999.0 417.5 999.1 416.0 999.2 414.5 999.3 413.0 999.5 411.5 999.6 410.0 999.7 408.5 999.8 407.0 1000.0 405.5 1000.1 404.0 1000.3 402.5 1000.4 401.0 1000.6 399.5 1000.7 398.0 1000.9 396.5 1001.0 395.0 1001.2 393.5 1001.3 392.0 1001.5 390.5 1001.6 389.0 1001.8 387.5 1002.0 386.0 1002.1 384.5 1002.3 383.0 1002.5 381.5 1002.6 380.1 1002.8 378.6 1003.0 377.1 1003.2 375.6 1003.3 374.1 1003.5 372.6 1003.7 371.1 1003.9 369.6 1004.1 368.1 1004.2 366.6 1004.4 365.1 1004.6 363.6 1004.8 362.1 1005.0 360.6 1005.1 359.1 1005.3 357.6 1005.5 356.2 1005.7 354.7 1005.9 353.2 1006.0 351.7 1006.2 350.2 1006.4 348.7 1006.6 347.2 1006.8 345.7 1006.9 344.2 1007.1 342.7 1007.3 341.2 1007.5 339.7 1007.7 338.2 1007.9 336.7 1008.1 335.2 1008.2 333.8 1008.4 332.3 1008.6 330.8 1008.8 329.3 1009.0 327.8 1009.2 326.3 1009.4 324.8 1009.6 323.3 1009.8 321.8 1010.1 320.3 1010.3 318.9 1010.5 317.4 1010.7 315.9 1010.9 314.4 1011.1 312.9 1011.3 311.4 1011.6 309.9 1011.8 308.4 1012.0 306.9 1012.2 305.4 1012.5 304.0 1012.7 302.5 1013.0 301.0 1013.2 299.5 1013.4 298.0 1013.7 296.5 1013.9 295.1 1014.2 293.6 1014.5 292.1 1014.7 290.6 1015.0 289.1 1015.3 287.7 1015.6 286.2 1015.8 284.7 1016.1 283.2 1016.4 281.8 1016.7 280.3 1017.1 278.8 1017.4 277.3 1017.7 275.9 1018.0 274.4 1018.4 272.9 1018.7 271.5 1019.0 270.0 1019.4 268.5 1019.7 267.1 1020.1 265.6 1020.5 264.2 1020.8 262.7 1021.2 261.2 1021.6 259.8 1021.9 258.3 1022.3 256.9 1022.7 255.4 1023.0 253.9 1023.4 252.5 1023.8 251.0 1024.2 249.6 1024.6 248.1 1025.0 246.7 1025.4 245.2 1025.9 243.8 1026.3 242.4 1026.7 240.9 1027.1 239.5 1027.6 238.0 1028.0 236.6 1028.4 235.2 1028.9 233.7 1029.3 232.3 1029.8 230.8 1030.2 229.4 1030.6 228.0 1031.1 226.5 1031.5 225.1 1032.0 223.6 1032.4 222.2 1032.9 220.8 1033.4 219.4 1033.8 217.9 1034.3 216.5 1034.8 215.1 1035.3 213.7 1035.8 212.2 1036.3 210.8 1036.8 209.4 1037.3 208.0 1037.8 206.6 1038.3 205.1 1038.9 203.7 1039.4 202.3 1039.9 200.9 1040.5 199.5 1041.0 198.1 1041.6 196.7 1042.2 195.3 1042.7 193.9 1043.3 192.5 1044.0 191.2 1044.6 189.8 1045.2 188.5 1045.9 187.1 1046.6 185.8 1047.3 184.5 1048.0 183.2 1048.7 181.8 1049.5 180.5 1050.3 179.2 1051.0 177.9 1051.8 176.6 1052.6 175.3 1053.4 174.1 1054.3 172.8 1055.1 171.5 1055.9 170.3 1056.8 169.1 1057.6 167.8 1058.5 166.6 1059.4 165.4 1060.3 164.2 1061.2 163.0 1062.1 161.8 1063.0 160.6 1064.0 159.4 1064.9 158.2 1065.9 157.1 1066.9 155.9 1067.9 154.8 1068.9 153.7 1069.9 152.6 1071.0 151.5 1072.0 150.4 1073.1 149.4 1074.2 148.4 1075.3 147.4 1076.4 146.3 1077.5 145.3 1078.7 144.4 1079.8 143.4 1081.0 142.4 1082.2 141.5 1083.4 140.6 1084.6 139.7 1085.9 138.8 1087.1 137.9 1088.4 137.1 1089.6 136.3 1090.9 135.5 1092.1 134.7 1093.4 134.0 1094.7 133.2 1096.1 132.5 1097.4 131.7 1098.7 131.0 1100.1 130.3 1101.4 129.6 1102.8 129.0 1104.2 128.4 1105.6 127.8 1107.0 127.2 1108.4 126.7 1109.8 126.2 1111.2 125.7 1112.6 125.2 1114.0 124.7 1115.4 124.3 1116.9 123.8 1118.4 123.4 1119.8 123.0 1121.3 122.6 1122.8 122.2 1124.2 121.9 1125.7 121.6 1127.2 121.4 1128.7 121.2 1130.2 121.0 1131.6 120.9 1133.1 120.8 1134.6 120.6 1136.1 120.5 1137.6 120.4 1139.1 120.3 1140.7 120.2 1142.2 120.2 1143.7 120.1 1145.2 120.1 1146.7 120.0 1148.2 120.0 1149.7 120.0 1151.2 120.0 1152.7 120.0 1154.2 120.1 1155.7 120.3 1157.2 120.4 1158.7 120.6 1160.2 120.8 1161.7 121.0 1163.2 121.3 1164.7 121.5 1166.2 121.8 1167.6 122.1 1169.1 122.3 1170.6 122.6 1172.0 122.9 1173.5 123.2 1175.0 123.6 1176.4 124.0 1177.9 124.4 1179.3 124.9 1180.8 125.4 1182.2 125.9 1183.6 126.4 1185.0 126.9 1186.5 127.5 1187.8 128.0 1189.2 128.6 1190.6 129.1 1192.0 129.7 1193.3 130.3 1194.7 131.0 1196.0 131.7 1197.4 132.4 1198.7 133.1 1200.0 133.8 1201.4 134.6 1202.7 135.4 1204.0 136.2 1205.2 137.0 1206.5 137.8 1207.8 138.6 1209.0 139.4 1210.2 140.3 1211.5 141.1 1212.7 142.0 1213.9 142.9 1215.1 143.8 1216.2 144.8 1217.4 145.7 1218.6 146.7 1219.7 147.7 1220.9 148.7 1222.0 149.7 1223.1 150.7 1224.2 151.7 1225.3 152.8 1226.4 153.8 1227.5 154.9 1228.5 155.9 1229.5 157.0 1230.6 158.1 1231.6 159.2 1232.6 160.3 1233.6 161.4 1234.6 162.6 1235.6 163.7 1236.6 164.9 1237.5 166.1 1238.5 167.2 1239.4 168.4 1240.3 169.6 1241.2 170.8 1242.1 172.0 1243.0 173.2 1243.9 174.4 1244.7 175.7 1245.6 176.9 1246.5 178.1 1247.3 179.4 1248.2 180.6 1249.0 181.9 1249.8 183.2 1250.6 184.5 1251.4 185.8 1252.2 187.1 1252.9 188.4 1253.6 189.7 1254.4 191.0 1255.0 192.3 1255.7 193.6 1256.4 195.0 1257.0 196.3 1257.7 197.7 1258.3 199.1 1258.9 200.4 1259.5 201.8 1260.1 203.2 1260.7 204.6 1261.3 206.0 1261.8 207.4 1262.4 208.8 1262.9 210.2 1263.4 211.7 1263.9 213.1 1264.4 214.5 1264.8 215.9 1265.3 217.4 1265.7 218.8 1266.1 220.3 1266.5 221.7 1266.8 223.2 1267.2 224.6 1267.6 226.1 1267.9 227.6 1268.3 229.0 1268.6 230.5 1269.0 232.0 1269.3 233.4 1269.7 234.9 1270.0 236.3 1270.3 237.8 1270.7 239.3 1271.0 240.7 1271.3 242.2 1271.7 243.7 1272.0 245.2 1272.3 246.6 1272.6 248.1 1272.9 249.6 1273.2 251.0 1273.6 252.5 1273.9 254.0 1274.2 255.4 1274.5 256.9 1274.8 258.4 1275.1 259.9 1275.5 261.3 1275.8 262.8 1276.1 264.3 1276.4 265.7 1276.7 267.2 1277.0 268.7 1277.3 270.2 1277.7 271.6 1278.0 273.1 1278.3 274.6 1278.6 276.0 1278.9 277.5 1279.2 279.0 1279.5 280.5 1279.8 281.9 1280.1 283.4 1280.4 284.9 1280.7 286.4 1281.0 287.8 1281.3 289.3 1281.6 290.8 1281.9 292.3 1282.2 293.7 1282.5 295.2 1282.8 296.7 1283.1 298.2 1283.3 299.6 1283.6 301.1 1283.9 302.6 1284.2 304.1 1284.5 305.6 1284.7 307.0 1285.0 308.5 1285.3 310.0 1285.6 311.5 1285.8 312.9 1286.1 314.4 1286.4 315.9 1286.6 317.4 1286.9 318.9 1287.2 320.4 1287.4 321.8 1287.7 323.3 1287.9 324.8 1288.2 326.3 1288.4 327.8 1288.6 329.3 1288.9 330.7 1289.1 332.2 1289.3 333.7 1289.6 335.2 1289.8 336.7 1290.0 338.2 1290.3 339.7 1290.5 341.1 1290.7 342.6 1290.9 344.1 1291.1 345.6 1291.3 347.1 1291.5 348.6 1291.8 350.1 1292.0 351.6 1292.2 353.1 1292.4 354.6 1292.6 356.0 1292.8 357.5 1293.0 359.0 1293.1 360.5 1293.3 362.0 1293.5 363.5 1293.7 365.0 1296.3 365.0 1296.5 363.5 1296.8 362.0 1297.0 360.5 1297.3 359.1 1297.5 357.6 1297.7 356.1 1298.0 354.6 1298.2 353.1 1298.5 351.6 1298.7 350.1 1299.0 348.7 1299.2 347.2 1299.4 345.7 1299.7 344.2 1299.9 342.7 1300.2 341.2 1300.4 339.7 1300.7 338.3 1300.9 336.8 1301.2 335.3 1301.4 333.8 1301.6 332.3 1301.9 330.8 1302.1 329.3 1302.4 327.9 1302.6 326.4 1302.9 324.9 1303.1 323.4 1303.4 321.9 1303.6 320.4 1303.8 319.0 1304.1 317.5 1304.3 316.0 1304.6 314.5 1304.8 313.0 1305.1 311.5 1305.3 310.0 1305.6 308.6 1305.9 307.1 1306.1 305.6 1306.4 304.1 1306.6 302.6 1306.9 301.1 1307.2 299.7 1307.4 298.2 1307.7 296.7 1308.0 295.2 1308.3 293.8 1308.5 292.3 1308.8 290.8 1309.1 289.3 1309.4 287.8 1309.7 286.4 1310.0 284.9 1310.3 283.4 1310.6 281.9 1310.9 280.5 1311.2 279.0 1311.5 277.5 1311.8 276.0 1312.1 274.6 1312.4 273.1 1312.7 271.6 1313.0 270.1 1313.3 268.7 1313.6 267.2 1313.9 265.7 1314.2 264.2 1314.5 262.8 1314.8 261.3 1315.1 259.8 1315.4 258.3 1315.7 256.9 1316.0 255.4 1316.3 253.9 1316.6 252.4 1316.9 251.0 1317.2 249.5 1317.5 248.0 1317.8 246.5 1318.1 245.1 1318.4 243.6 1318.7 242.1 1319.0 240.6 1319.3 239.2 1319.6 237.7 1319.9 236.2 1320.2 234.7 1320.5 233.3 1320.8 231.8 1321.1 230.3 1321.4 228.8 1321.8 227.4 1322.1 225.9 1322.4 224.4 1322.7 223.0 1323.0 221.5 1323.4 220.0 1323.7 218.5 1324.0 217.1 1324.4 215.6 1324.7 214.1 1325.1 212.7 1325.4 211.2 1325.8 209.8 1326.2 208.3 1326.5 206.9 1326.9 205.4 1327.3 203.9 1327.7 202.5 1328.1 201.0 1328.5 199.6 1328.9 198.1 1329.3 196.7 1329.7 195.2 1330.1 193.8 1330.6 192.3 1331.0 190.9 1331.5 189.4 1331.9 188.0 1332.4 186.6 1332.8 185.1 1333.3 183.7 1333.8 182.3 1334.3 180.9 1334.8 179.5 1335.4 178.1 1335.9 176.7 1336.5 175.3 1337.0 173.9 1337.6 172.5 1338.2 171.1 1338.8 169.7 1339.4 168.4 1340.1 167.0 1340.7 165.6 1341.4 164.2 1342.0 162.9 1342.7 161.5 1343.4 160.2 1344.1 158.8 1344.8 157.5 1345.5 156.2 1346.2 154.9 1346.9 153.6 1347.7 152.3 1348.4 151.0 1349.2 149.6 1349.9 148.3 1350.7 147.0 1351.5 145.7 1352.3 144.4 1353.1 143.2 1353.9 141.9 1354.8 140.6 1355.6 139.4 1356.5 138.1 1357.4 136.9 1358.3 135.7 1359.2 134.5 1360.1 133.3 1361.1 132.2 1362.0 131.0 1363.0 129.9 1364.0 128.8 1365.0 127.8 1366.1 126.7 1367.2 125.6 1368.3 124.6 1369.4 123.5 1370.5 122.5 1371.7 121.5 1372.9 120.5 1374.0 119.5 1375.2 118.6 1376.5 117.7 1377.7 116.8 1378.9 116.0 1380.2 115.2 1381.4 114.4 1382.7 113.6 1384.0 112.9 1385.3 112.2 1386.6 111.5 1387.9 110.8 1389.3 110.1 1390.7 109.4 1392.1 108.8 1393.5 108.2 1394.9 107.6 1396.3 107.0 1397.7 106.5 1399.1 106.0 1400.6 105.5 1402.0 105.1 1403.4 104.6 1404.8 104.2 1406.3 103.8 1407.7 103.4 1409.2 103.0 1410.7 102.6 1412.1 102.3 1413.6 101.9 1415.1 101.6 1416.6 101.3 1418.1 101.1 1419.6 100.9 1421.1 100.7 1422.5 100.5 1424.0 100.4 1425.5 100.3 1427.0 100.1 1428.5 100.0 1430.0 99.9 1431.5 99.8 1433.0 99.7 1434.6 99.6 1436.1 99.5 1437.6 99.4 1439.1 99.4 1440.6 99.4 1442.1 99.4 1443.6 99.4 1445.1 99.4 1446.6 99.5 1448.1 99.6 1449.6 99.7 1451.1 99.8 1452.6 100.0 1454.1 100.2 1455.6 100.3 1457.1 100.5 1458.6 100.7 1460.1 100.9 1461.6 101.1 1463.1 101.3 1464.5 101.6 1466.0 101.9 1467.5 102.2 1469.0 102.6 1470.4 103.0 1471.9 103.4 1473.3 103.9 1474.8 104.3 1476.2 104.8 1477.7 105.3 1479.1 105.9 1480.5 106.4 1481.8 106.9 1483.2 107.5 1484.5 108.1 1485.9 108.7 1487.3 109.4 1488.6 110.1 1489.9 110.9 1491.3 111.7 1492.6 112.5 1493.9 113.3 1495.1 114.1 1496.4 115.0 1497.6 115.9 1498.9 116.8 1500.1 117.7 1501.2 118.6 1502.4 119.5 1503.5 120.5 1504.6 121.5 1505.7 122.5 1506.7 123.5 1507.8 124.6 1508.8 125.7 1509.8 126.8 1510.8 128.0 1511.8 129.2 1512.8 130.4 1513.8 131.6 1514.7 132.8 1515.6 134.0 1516.5 135.2 1517.4 136.4 1518.2 137.6 1519.1 138.8 1519.9 140.1 1520.7 141.3 1521.5 142.6 1522.3 143.9 1523.1 145.2 1523.9 146.5 1524.6 147.8 1525.4 149.1 1526.1 150.5 1526.8 151.8 1527.5 153.1 1528.2 154.5 1528.9 155.8 1529.5 157.2 1530.2 158.5 1530.8 159.9 1531.4 161.3 1532.0 162.6 1532.6 164.0 1533.2 165.4 1533.8 166.8 1534.3 168.2 1534.9 169.6 1535.4 171.0 1536.0 172.4 1536.5 173.8 1537.0 175.2 1537.5 176.7 1538.0 178.1 1538.5 179.5 1539.0 180.9 1539.5 182.4 1540.0 183.8 1540.5 185.2 1541.0 186.6 1541.5 188.1 1541.9 189.5 1542.4 190.9 1542.8 192.4 1543.3 193.8 1543.7 195.2 1544.2 196.7 1544.6 198.1 1545.0 199.6 1545.4 201.0 1545.9 202.4 1546.3 203.9 1546.7 205.3 1547.1 206.8 1547.6 208.2 1548.0 209.7 1548.4 211.1 1548.8 212.6 1549.2 214.0 1549.7 215.5 1550.1 216.9 1550.5 218.4 1550.9 219.8 1551.3 221.3 1551.7 222.7 1552.1 224.2 1552.5 225.6 1552.9 227.1 1553.3 228.5 1553.7 230.0 1554.1 231.4 1554.5 232.9 1554.9 234.3 1555.4 235.7 1555.8 237.2 1556.2 238.6 1556.7 240.1 1557.1 241.5 1557.5 242.9 1558.0 244.4 1558.4 245.8 1558.9 247.3 1559.3 248.7 1559.8 250.1 1560.2 251.6 1560.7 253.0 1563.3 253.0 1563.7 251.6 1564.1 250.1 1564.6 248.7 1565.0 247.2 1565.4 245.8 1565.8 244.3 1566.2 242.8 1566.6 241.4 1567.0 239.9 1567.3 238.5 1567.7 237.0 1568.1 235.6 1568.4 234.1 1568.8 232.6 1569.2 231.2 1569.5 229.7 1569.8 228.2 1570.2 226.8 1570.5 225.3 1570.8 223.8 1571.1 222.3 1571.5 220.9 1571.8 219.4 1572.1 217.9 1572.4 216.5 1572.7 215.0 1573.1 213.5 1573.4 212.0 1573.7 210.6 1574.0 209.1 1574.4 207.6 1574.7 206.2 1575.0 204.7 1575.4 203.2 1575.7 201.7 1576.0 200.3 1576.4 198.8 1576.7 197.3 1577.1 195.9 1577.4 194.4 1577.8 192.9 1578.1 191.5 1578.5 190.0 1578.8 188.5 1579.2 187.1 1579.5 185.6 1579.9 184.1 1580.2 182.7 1580.6 181.2 1581.0 179.8 1581.4 178.3 1581.8 176.9 1582.1 175.4 1582.5 173.9 1582.9 172.5 1583.3 171.0 1583.8 169.6 1584.2 168.1 1584.6 166.7 1585.0 165.2 1585.4 163.8 1585.9 162.3 1586.3 160.9 1586.7 159.5 1587.2 158.0 1587.6 156.6 1588.1 155.1 1588.5 153.7 1589.0 152.3 1589.4 150.8 1589.9 149.4 1590.4 148.0 1590.8 146.5 1591.3 145.1 1591.8 143.7 1592.3 142.2 1592.8 140.8 1593.2 139.4 1593.7 138.0 1594.2 136.5 1594.7 135.1 1595.3 133.7 1595.8 132.3 1596.3 130.9 1596.8 129.5 1597.3 128.0 1597.9 126.6 1598.4 125.2 1598.9 123.8 1599.5 122.4 1600.0 121.0 1600.5 119.6 1601.1 118.2 1601.6 116.7 1602.2 115.3 1602.7 113.9 1603.3 112.5 1603.8 111.1 1604.4 109.7 1605.0 108.3 1605.6 106.9 1606.2 105.6 1606.8 104.2 1607.4 102.8 1608.1 101.5 1608.8 100.2 1609.4 98.8 1610.1 97.5 1610.9 96.2 1611.6 94.8 1612.4 93.5 1613.2 92.2 1613.9 90.9 1614.8 89.6 1615.6 88.3 1616.5 87.1 1617.4 85.9 1618.3 84.7 1619.2 83.6 1620.1 82.4 1621.1 81.3 1622.2 80.2 1623.3 79.1 1624.4 78.0 1625.5 77.0 1626.7 76.0 1627.9 75.1 1629.1 74.3 1630.4 73.6 1631.7 72.9 1633.2 72.3 1634.6 71.8 1636.0 71.4 1637.5 71.1 1639.0 70.8 1640.5 70.5 1642.0 70.4 1643.5 70.3 1645.0 70.2 1646.5 70.1 1648.0 70.1 1649.5 70.1 1651.0 70.1 1652.5 70.0 1654.0 70.0 1655.5 70.0 1657.1 70.0 1658.6 70.0 1660.1 70.0 1661.6 70.0 1663.1 70.0 1664.6 70.0 1666.1 70.0 1667.6 70.0 1669.1 70.0 1670.6 70.0 1672.1 70.0 1673.6 70.0 1675.1 70.0 1676.6 70.0 1678.2 70.0 1679.7 70.0 1681.2 70.0 1682.7 70.1 1684.2 70.1 1685.7 70.1 1687.2 70.2 1688.7 70.3 1690.2 70.5 1691.7 70.7 1693.1 71.0 1694.6 71.4 1696.0 71.9 1697.5 72.4 1698.9 72.9 1700.3 73.3 1701.8 73.8 1703.2 74.4 1704.6 74.9 1706.0 75.5 1707.4 76.0 1708.8 76.6 1710.2 77.2 1711.6 77.7 1713.0 78.3 1714.4 78.9 1715.7 79.5 1717.1 80.1 1718.5 80.7 1719.9 81.3 1721.2 82.0 1722.6 82.6 1724.0 83.3 1725.3 83.9 1726.7 84.6 1728.0 85.3 1729.3 86.0 1730.7 86.7 1732.0 87.4 1733.3 88.2 1734.6 88.9 1735.9 89.7 1737.2 90.5 1738.5 91.3 1739.8 92.1 1741.1 92.9 1742.3 93.7 1743.6 94.5 1744.8 95.4 1746.0 96.3 1747.2 97.2 1748.4 98.1 1749.6 99.0 1750.8 99.9 1752.0 100.9 1753.2 101.9 1754.3 102.9 1755.4 103.9 1756.6 104.9 1757.7 105.9 1758.7 106.9 1759.8 108.0 1760.8 109.1 1761.8 110.2 1762.8 111.3 1763.8 112.4 1764.8 113.6 1765.8 114.8 1766.7 115.9 1767.6 117.1 1768.6 118.3 1769.5 119.5 1770.4 120.8 1771.3 122.0 1772.2 123.2 1773.0 124.4 1773.9 125.7 1774.7 126.9 1775.5 128.2 1776.3 129.5 1777.1 130.7 1777.9 132.0 1778.7 133.3 1779.5 134.6 1780.3 135.9 1781.0 137.2 1781.8 138.5 1782.6 139.8 1783.4 141.0 1784.2 142.3 1785.1 143.6 1785.9 144.8 1786.7 146.1 1787.5 147.4 1788.3 148.7 1789.1 150.0 1789.9 151.3 1790.7 152.5 1791.5 153.8 1792.4 155.1 1793.2 156.3 1794.1 157.6 1794.9 158.8 1795.8 160.0 1796.7 161.2 1797.7 162.3 1798.6 163.5 1799.6 164.6 1800.6 165.8 1801.6 166.9 1802.6 168.1 1803.7 169.2 1804.8 170.3 1805.9 171.3 1807.0 172.3 1808.1 173.3 1809.3 174.2 1810.5 175.0 1811.7 175.8 1813.0 176.7 1814.3 177.5 1815.7 178.2 1817.0 178.9 1818.4 179.6 1819.8 180.2 1821.2 180.7 1822.6 181.2 1824.0 181.6 1825.5 181.9 1827.0 182.2 1828.5 182.5"/>
</g>
<rect x="600.1" y="316.3" width="279.9" height="360.3" fill="#fff" stroke="none"/>
<line x1="735.5" y1="674.1" x2="735.5" y2="682.9" stroke="#262626" stroke-width="3"/>
<line x1="735.5" y1="313.3" x2="735.5" y2="322.3" stroke="#262626" stroke-width="3"/>
<rect x="608.6" y="322.3" width="262.9" height="351.8" rx="2.5" ry="2.5" fill="#fff" stroke="#000" stroke-width="5.3" stroke-linejoin="round"/>
<g class="lg">
<line x1="621.6" y1="357.0" x2="709.8" y2="357.0" stroke="#ff0000" stroke-width="7.2" stroke-linecap="round"/>
<text class="se" font-size="40.6" transform="translate(720.2 372.6) scale(1.028 1.100)" fill="#ff0000" stroke="#ff0000">R=</text>
<text class="sa" font-size="40.0" transform="translate(773.5 371.9) scale(0.995 1.040)" fill="#ff0000" stroke="#ff0000">2</text>
<text class="se" font-size="31.2" transform="translate(802.1 369.1) scale(0.999 1.130)" fill="#ff0000" stroke="#ff0000">mm</text>
<line x1="621.6" y1="412.8" x2="709.8" y2="412.8" stroke="#00cc00" stroke-width="7.2" stroke-linecap="round"/>
<text class="se" font-size="40.6" transform="translate(720.2 425.8) scale(1.028 1.100)" fill="#00cc00" stroke="#00cc00">R=</text>
<text class="sa" font-size="40.0" transform="translate(774.3 426.4) scale(0.931 1.040)" fill="#00cc00" stroke="#00cc00">4</text>
<text class="se" font-size="31.2" transform="translate(800.7 425.0) scale(0.995 1.130)" fill="#00cc00" stroke="#00cc00">mm</text>
<line x1="621.6" y1="466.6" x2="709.8" y2="466.6" stroke="#0000ff" stroke-width="7.2" stroke-linecap="round"/>
<text class="se" font-size="40.6" transform="translate(720.2 479.6) scale(1.028 1.100)" fill="#0000ff" stroke="#0000ff">R=</text>
<text class="sa" font-size="40.0" transform="translate(773.5 481.3) scale(0.995 1.040)" fill="#0000ff" stroke="#0000ff">6</text>
<text class="se" font-size="31.2" transform="translate(800.7 476.5) scale(0.995 1.130)" fill="#0000ff" stroke="#0000ff">mm</text>
<line x1="621.6" y1="522.0" x2="709.8" y2="522.0" stroke="#dd00dd" stroke-width="7.2" stroke-linecap="round"/>
<text class="se" font-size="40.6" transform="translate(720.2 538.8) scale(1.028 1.100)" fill="#dd00dd" stroke="#dd00dd">R=</text>
<text class="sa" font-size="40.0" transform="translate(773.9 538.5) scale(0.973 1.040)" fill="#dd00dd" stroke="#dd00dd">8</text>
<text class="se" font-size="31.2" transform="translate(800.7 532.0) scale(0.995 1.130)" fill="#dd00dd" stroke="#dd00dd">mm</text>
<line x1="621.6" y1="575.8" x2="709.8" y2="575.8" stroke="#7f3f00" stroke-width="7.2" stroke-linecap="round"/>
<text class="se" font-size="40.6" transform="translate(717.9 589.1) scale(1.094 1.100)" fill="#7f3f00" stroke="#7f3f00">R=</text>
<text class="sa" font-size="40.0" transform="translate(774.8 590.0) scale(0.907 1.040)" fill="#7f3f00" stroke="#7f3f00">16</text>
<text class="se" font-size="31.2" transform="translate(818.1 586.5) scale(1.014 1.130)" fill="#7f3f00" stroke="#7f3f00">mm</text>
<line x1="621.6" y1="632.0" x2="709.8" y2="632.0" stroke="#ff7f00" stroke-width="7.2" stroke-linecap="round"/>
<text class="se" font-size="40.6" transform="translate(717.9 645.3) scale(1.094 1.100)" fill="#ff7f00" stroke="#ff7f00">R=</text>
<text class="sa" font-size="40.0" transform="translate(774.8 646.3) scale(0.907 1.040)" fill="#ff7f00" stroke="#ff7f00">18</text>
<text class="se" font-size="31.2" transform="translate(818.1 642.0) scale(1.014 1.130)" fill="#ff7f00" stroke="#ff7f00">mm</text>
</g>
<g class="ax">
<text x="956.2" y="35.6" text-anchor="middle">|S1,1| in dB</text>
<text transform="translate(57.6 76.6) scale(0.950 1)" text-anchor="end">0</text>
<text transform="translate(57.6 154.6) scale(0.950 1)" text-anchor="end">-5</text>
<text transform="translate(57.6 232.4) scale(0.950 1)" text-anchor="end">-10</text>
<text transform="translate(57.6 307.7) scale(0.950 1)" text-anchor="end">-15</text>
<text transform="translate(57.6 385.5) scale(0.950 1)" text-anchor="end">-20</text>
<text transform="translate(57.6 463.3) scale(0.950 1)" text-anchor="end">-25</text>
<text transform="translate(57.6 541.2) scale(0.950 1)" text-anchor="end">-30</text>
<text transform="translate(57.6 619.0) scale(0.950 1)" text-anchor="end">-35</text>
<text transform="translate(57.6 696.8) scale(0.950 1)" text-anchor="end">-40</text>
<text transform="translate(78.8 743.2) scale(0.950 1)" text-anchor="middle">1</text>
<text transform="translate(298.4 743.2) scale(0.950 1)" text-anchor="middle">2</text>
<text transform="translate(517.4 743.2) scale(0.950 1)" text-anchor="middle">3</text>
<text transform="translate(734.5 743.2) scale(0.950 1)" text-anchor="middle">4</text>
<text transform="translate(954.1 743.2) scale(0.950 1)" text-anchor="middle">5</text>
<text transform="translate(1171.0 743.2) scale(0.950 1)" text-anchor="middle">6</text>
<text transform="translate(1390.6 743.2) scale(0.950 1)" text-anchor="middle">7</text>
<text transform="translate(1607.1 743.2) scale(0.950 1)" text-anchor="middle">8</text>
<text transform="translate(1827.3 743.2) scale(0.950 1)" text-anchor="middle">9</text>
</g>
</g>
</svg></body></html>
